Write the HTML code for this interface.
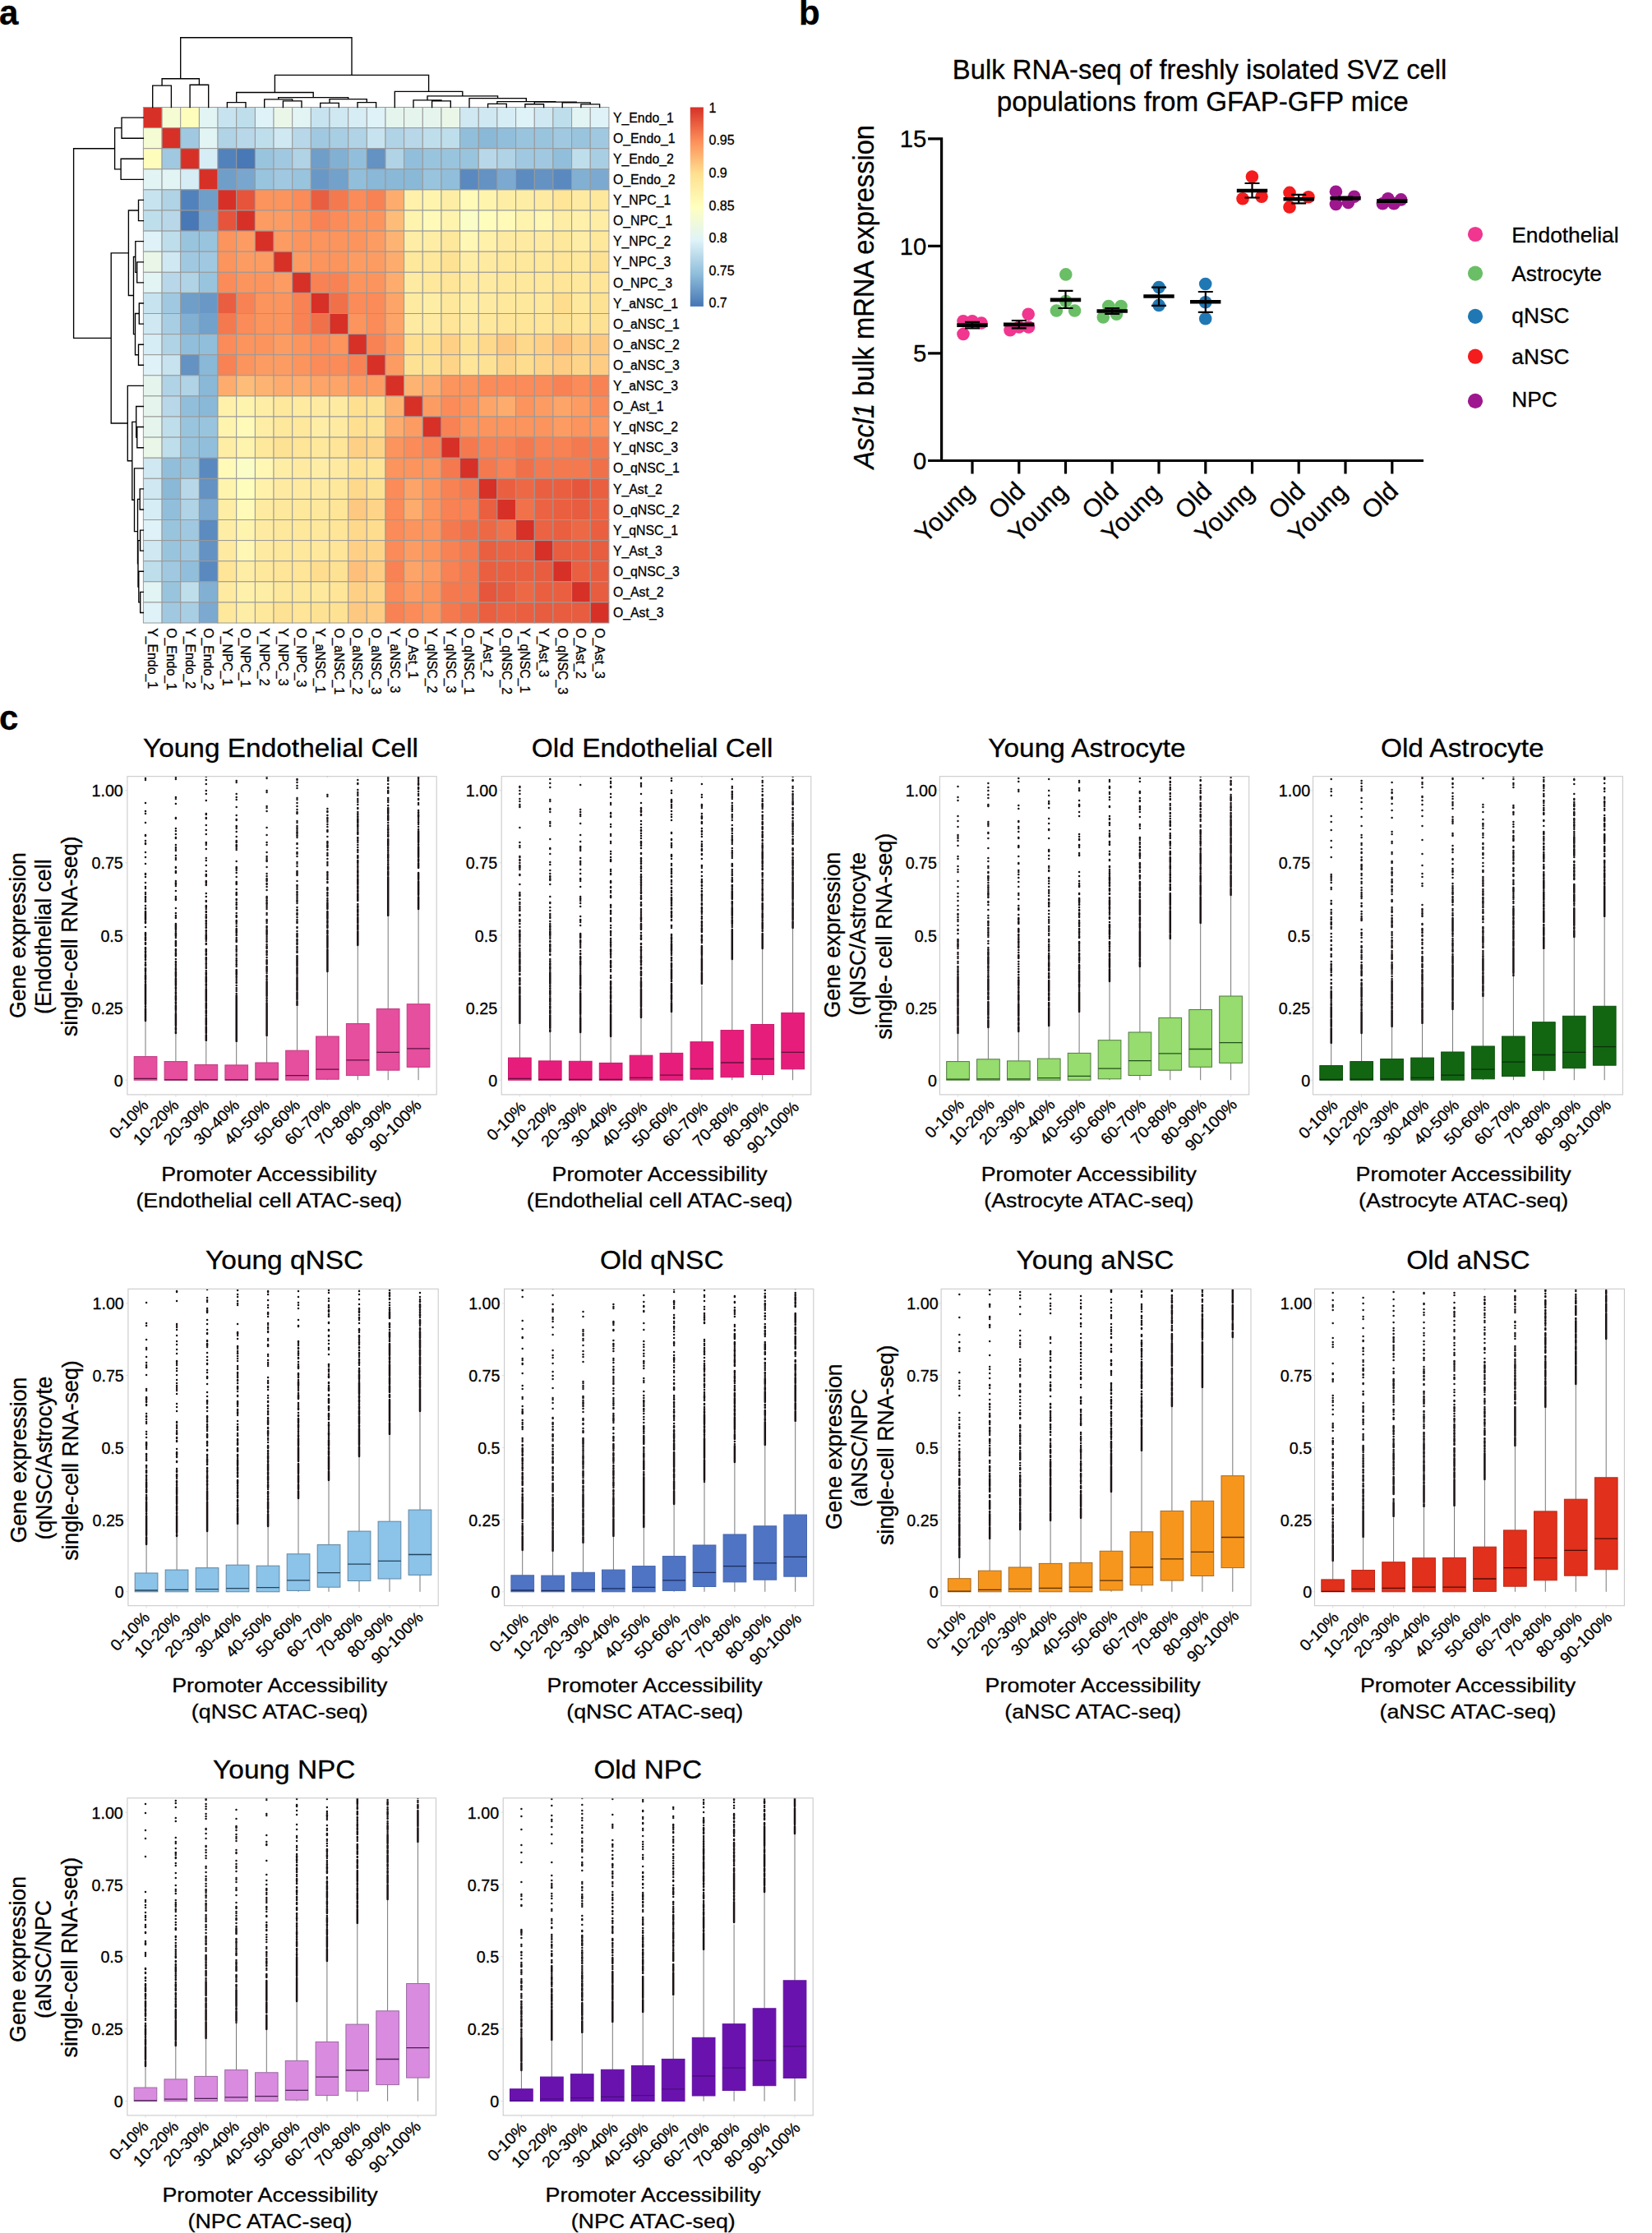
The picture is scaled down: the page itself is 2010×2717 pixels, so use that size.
<!DOCTYPE html>
<html lang="en"><head><meta charset="utf-8"><title>Figure</title>
<style>html,body{margin:0;padding:0;background:#fff}svg{display:block}text{font-family:'Liberation Sans', Arial, Helvetica, sans-serif;fill:#000;stroke:#000;stroke-width:.3px}</style>
</head><body>
<svg width="2010" height="2717" viewBox="0 0 2010 2717">
<rect width="2010" height="2717" fill="#fff"/>
<text x="-1" y="29.5" font-size="42" font-weight="bold">a</text>
<text x="972" y="29.5" font-size="42" font-weight="bold">b</text>
<text x="-1" y="887.5" font-size="42" font-weight="bold">c</text>
<g stroke="#999" stroke-width="1">
<rect x="174.4" y="130.5" width="22.7" height="25.1" fill="#d73027"/>
<rect x="197.1" y="130.5" width="22.7" height="25.1" fill="#f5fbd2"/>
<rect x="219.7" y="130.5" width="22.7" height="25.1" fill="#fffdbc"/>
<rect x="242.4" y="130.5" width="22.7" height="25.1" fill="#e2f4f4"/>
<rect x="265" y="130.5" width="22.7" height="25.1" fill="#c7e3ef"/>
<rect x="287.7" y="130.5" width="22.7" height="25.1" fill="#bfdeec"/>
<rect x="310.4" y="130.5" width="22.7" height="25.1" fill="#def2f7"/>
<rect x="333" y="130.5" width="22.7" height="25.1" fill="#e9f6e8"/>
<rect x="355.7" y="130.5" width="22.7" height="25.1" fill="#e2f4f4"/>
<rect x="378.3" y="130.5" width="22.7" height="25.1" fill="#c7e3ef"/>
<rect x="401" y="130.5" width="22.7" height="25.1" fill="#cfe8f2"/>
<rect x="423.7" y="130.5" width="22.7" height="25.1" fill="#d7edf5"/>
<rect x="446.3" y="130.5" width="22.7" height="25.1" fill="#def2f7"/>
<rect x="469" y="130.5" width="22.7" height="25.1" fill="#e5f5ee"/>
<rect x="491.6" y="130.5" width="22.7" height="25.1" fill="#e5f5ee"/>
<rect x="514.3" y="130.5" width="22.7" height="25.1" fill="#e5f5ee"/>
<rect x="537" y="130.5" width="22.7" height="25.1" fill="#e9f6e8"/>
<rect x="559.6" y="130.5" width="22.7" height="25.1" fill="#cfe8f2"/>
<rect x="582.3" y="130.5" width="22.7" height="25.1" fill="#cfe8f2"/>
<rect x="604.9" y="130.5" width="22.7" height="25.1" fill="#d7edf5"/>
<rect x="627.6" y="130.5" width="22.7" height="25.1" fill="#def2f7"/>
<rect x="650.3" y="130.5" width="22.7" height="25.1" fill="#cfe8f2"/>
<rect x="672.9" y="130.5" width="22.7" height="25.1" fill="#bfdeec"/>
<rect x="695.6" y="130.5" width="22.7" height="25.1" fill="#e2f4f4"/>
<rect x="718.2" y="130.5" width="22.7" height="25.1" fill="#def2f7"/>
<rect x="174.4" y="155.6" width="22.7" height="25.1" fill="#f5fbd2"/>
<rect x="197.1" y="155.6" width="22.7" height="25.1" fill="#d73027"/>
<rect x="219.7" y="155.6" width="22.7" height="25.1" fill="#a0c9e1"/>
<rect x="242.4" y="155.6" width="22.7" height="25.1" fill="#e2f4f4"/>
<rect x="265" y="155.6" width="22.7" height="25.1" fill="#b0d3e6"/>
<rect x="287.7" y="155.6" width="22.7" height="25.1" fill="#b8d8e9"/>
<rect x="310.4" y="155.6" width="22.7" height="25.1" fill="#bfdeec"/>
<rect x="333" y="155.6" width="22.7" height="25.1" fill="#cfe8f2"/>
<rect x="355.7" y="155.6" width="22.7" height="25.1" fill="#b8d8e9"/>
<rect x="378.3" y="155.6" width="22.7" height="25.1" fill="#a0c9e1"/>
<rect x="401" y="155.6" width="22.7" height="25.1" fill="#a8cee4"/>
<rect x="423.7" y="155.6" width="22.7" height="25.1" fill="#b0d3e6"/>
<rect x="446.3" y="155.6" width="22.7" height="25.1" fill="#c7e3ef"/>
<rect x="469" y="155.6" width="22.7" height="25.1" fill="#b0d3e6"/>
<rect x="491.6" y="155.6" width="22.7" height="25.1" fill="#b8d8e9"/>
<rect x="514.3" y="155.6" width="22.7" height="25.1" fill="#bfdeec"/>
<rect x="537" y="155.6" width="22.7" height="25.1" fill="#bfdeec"/>
<rect x="559.6" y="155.6" width="22.7" height="25.1" fill="#91bfdb"/>
<rect x="582.3" y="155.6" width="22.7" height="25.1" fill="#8ab8d7"/>
<rect x="604.9" y="155.6" width="22.7" height="25.1" fill="#91bfdb"/>
<rect x="627.6" y="155.6" width="22.7" height="25.1" fill="#99c4de"/>
<rect x="650.3" y="155.6" width="22.7" height="25.1" fill="#99c4de"/>
<rect x="672.9" y="155.6" width="22.7" height="25.1" fill="#a0c9e1"/>
<rect x="695.6" y="155.6" width="22.7" height="25.1" fill="#99c4de"/>
<rect x="718.2" y="155.6" width="22.7" height="25.1" fill="#a0c9e1"/>
<rect x="174.4" y="180.7" width="22.7" height="25.1" fill="#fffdbc"/>
<rect x="197.1" y="180.7" width="22.7" height="25.1" fill="#a0c9e1"/>
<rect x="219.7" y="180.7" width="22.7" height="25.1" fill="#d73027"/>
<rect x="242.4" y="180.7" width="22.7" height="25.1" fill="#d7edf5"/>
<rect x="265" y="180.7" width="22.7" height="25.1" fill="#5282bb"/>
<rect x="287.7" y="180.7" width="22.7" height="25.1" fill="#4878b6"/>
<rect x="310.4" y="180.7" width="22.7" height="25.1" fill="#99c4de"/>
<rect x="333" y="180.7" width="22.7" height="25.1" fill="#a0c9e1"/>
<rect x="355.7" y="180.7" width="22.7" height="25.1" fill="#b0d3e6"/>
<rect x="378.3" y="180.7" width="22.7" height="25.1" fill="#6f9ec9"/>
<rect x="401" y="180.7" width="22.7" height="25.1" fill="#82b0d3"/>
<rect x="423.7" y="180.7" width="22.7" height="25.1" fill="#91bfdb"/>
<rect x="446.3" y="180.7" width="22.7" height="25.1" fill="#6392c3"/>
<rect x="469" y="180.7" width="22.7" height="25.1" fill="#b0d3e6"/>
<rect x="491.6" y="180.7" width="22.7" height="25.1" fill="#91bfdb"/>
<rect x="514.3" y="180.7" width="22.7" height="25.1" fill="#99c4de"/>
<rect x="537" y="180.7" width="22.7" height="25.1" fill="#99c4de"/>
<rect x="559.6" y="180.7" width="22.7" height="25.1" fill="#99c4de"/>
<rect x="582.3" y="180.7" width="22.7" height="25.1" fill="#b8d8e9"/>
<rect x="604.9" y="180.7" width="22.7" height="25.1" fill="#b0d3e6"/>
<rect x="627.6" y="180.7" width="22.7" height="25.1" fill="#a0c9e1"/>
<rect x="650.3" y="180.7" width="22.7" height="25.1" fill="#a0c9e1"/>
<rect x="672.9" y="180.7" width="22.7" height="25.1" fill="#91bfdb"/>
<rect x="695.6" y="180.7" width="22.7" height="25.1" fill="#bfdeec"/>
<rect x="718.2" y="180.7" width="22.7" height="25.1" fill="#a8cee4"/>
<rect x="174.4" y="205.8" width="22.7" height="25.1" fill="#e2f4f4"/>
<rect x="197.1" y="205.8" width="22.7" height="25.1" fill="#e2f4f4"/>
<rect x="219.7" y="205.8" width="22.7" height="25.1" fill="#d7edf5"/>
<rect x="242.4" y="205.8" width="22.7" height="25.1" fill="#d73027"/>
<rect x="265" y="205.8" width="22.7" height="25.1" fill="#6f9ec9"/>
<rect x="287.7" y="205.8" width="22.7" height="25.1" fill="#78a6ce"/>
<rect x="310.4" y="205.8" width="22.7" height="25.1" fill="#99c4de"/>
<rect x="333" y="205.8" width="22.7" height="25.1" fill="#a0c9e1"/>
<rect x="355.7" y="205.8" width="22.7" height="25.1" fill="#99c4de"/>
<rect x="378.3" y="205.8" width="22.7" height="25.1" fill="#6998c6"/>
<rect x="401" y="205.8" width="22.7" height="25.1" fill="#72a1cb"/>
<rect x="423.7" y="205.8" width="22.7" height="25.1" fill="#91bfdb"/>
<rect x="446.3" y="205.8" width="22.7" height="25.1" fill="#8ab8d7"/>
<rect x="469" y="205.8" width="22.7" height="25.1" fill="#8ab8d7"/>
<rect x="491.6" y="205.8" width="22.7" height="25.1" fill="#8ab8d7"/>
<rect x="514.3" y="205.8" width="22.7" height="25.1" fill="#99c4de"/>
<rect x="537" y="205.8" width="22.7" height="25.1" fill="#91bfdb"/>
<rect x="559.6" y="205.8" width="22.7" height="25.1" fill="#5a89bf"/>
<rect x="582.3" y="205.8" width="22.7" height="25.1" fill="#6392c3"/>
<rect x="604.9" y="205.8" width="22.7" height="25.1" fill="#7ba9d0"/>
<rect x="627.6" y="205.8" width="22.7" height="25.1" fill="#5b8bbf"/>
<rect x="650.3" y="205.8" width="22.7" height="25.1" fill="#6392c3"/>
<rect x="672.9" y="205.8" width="22.7" height="25.1" fill="#5a89bf"/>
<rect x="695.6" y="205.8" width="22.7" height="25.1" fill="#82b0d3"/>
<rect x="718.2" y="205.8" width="22.7" height="25.1" fill="#7ba9d0"/>
<rect x="174.4" y="230.9" width="22.7" height="25.1" fill="#c7e3ef"/>
<rect x="197.1" y="230.9" width="22.7" height="25.1" fill="#b0d3e6"/>
<rect x="219.7" y="230.9" width="22.7" height="25.1" fill="#5282bb"/>
<rect x="242.4" y="230.9" width="22.7" height="25.1" fill="#6f9ec9"/>
<rect x="265" y="230.9" width="22.7" height="25.1" fill="#d73027"/>
<rect x="287.7" y="230.9" width="22.7" height="25.1" fill="#e6543b"/>
<rect x="310.4" y="230.9" width="22.7" height="25.1" fill="#fc945d"/>
<rect x="333" y="230.9" width="22.7" height="25.1" fill="#fc945d"/>
<rect x="355.7" y="230.9" width="22.7" height="25.1" fill="#fb8b58"/>
<rect x="378.3" y="230.9" width="22.7" height="25.1" fill="#e95e40"/>
<rect x="401" y="230.9" width="22.7" height="25.1" fill="#f4794e"/>
<rect x="423.7" y="230.9" width="22.7" height="25.1" fill="#fb8b58"/>
<rect x="446.3" y="230.9" width="22.7" height="25.1" fill="#f88253"/>
<rect x="469" y="230.9" width="22.7" height="25.1" fill="#fdac6d"/>
<rect x="491.6" y="230.9" width="22.7" height="25.1" fill="#fff1aa"/>
<rect x="514.3" y="230.9" width="22.7" height="25.1" fill="#fff4ae"/>
<rect x="537" y="230.9" width="22.7" height="25.1" fill="#feeea5"/>
<rect x="559.6" y="230.9" width="22.7" height="25.1" fill="#fffab8"/>
<rect x="582.3" y="230.9" width="22.7" height="25.1" fill="#fff4ae"/>
<rect x="604.9" y="230.9" width="22.7" height="25.1" fill="#feeea5"/>
<rect x="627.6" y="230.9" width="22.7" height="25.1" fill="#feeea5"/>
<rect x="650.3" y="230.9" width="22.7" height="25.1" fill="#feeba1"/>
<rect x="672.9" y="230.9" width="22.7" height="25.1" fill="#fee597"/>
<rect x="695.6" y="230.9" width="22.7" height="25.1" fill="#feeba1"/>
<rect x="718.2" y="230.9" width="22.7" height="25.1" fill="#fee89c"/>
<rect x="174.4" y="256" width="22.7" height="25.1" fill="#bfdeec"/>
<rect x="197.1" y="256" width="22.7" height="25.1" fill="#b8d8e9"/>
<rect x="219.7" y="256" width="22.7" height="25.1" fill="#4878b6"/>
<rect x="242.4" y="256" width="22.7" height="25.1" fill="#78a6ce"/>
<rect x="265" y="256" width="22.7" height="25.1" fill="#e6543b"/>
<rect x="287.7" y="256" width="22.7" height="25.1" fill="#d73027"/>
<rect x="310.4" y="256" width="22.7" height="25.1" fill="#fc9c63"/>
<rect x="333" y="256" width="22.7" height="25.1" fill="#fc9c63"/>
<rect x="355.7" y="256" width="22.7" height="25.1" fill="#fc945d"/>
<rect x="378.3" y="256" width="22.7" height="25.1" fill="#f88253"/>
<rect x="401" y="256" width="22.7" height="25.1" fill="#fb8b58"/>
<rect x="423.7" y="256" width="22.7" height="25.1" fill="#fc945d"/>
<rect x="446.3" y="256" width="22.7" height="25.1" fill="#fc945d"/>
<rect x="469" y="256" width="22.7" height="25.1" fill="#fdbc78"/>
<rect x="491.6" y="256" width="22.7" height="25.1" fill="#fff4ae"/>
<rect x="514.3" y="256" width="22.7" height="25.1" fill="#fffab8"/>
<rect x="537" y="256" width="22.7" height="25.1" fill="#fff4ae"/>
<rect x="559.6" y="256" width="22.7" height="25.1" fill="#fbfdc7"/>
<rect x="582.3" y="256" width="22.7" height="25.1" fill="#fffdbc"/>
<rect x="604.9" y="256" width="22.7" height="25.1" fill="#fffab8"/>
<rect x="627.6" y="256" width="22.7" height="25.1" fill="#fff4ae"/>
<rect x="650.3" y="256" width="22.7" height="25.1" fill="#fff7b3"/>
<rect x="672.9" y="256" width="22.7" height="25.1" fill="#feeea5"/>
<rect x="695.6" y="256" width="22.7" height="25.1" fill="#fff1aa"/>
<rect x="718.2" y="256" width="22.7" height="25.1" fill="#feeea5"/>
<rect x="174.4" y="281.1" width="22.7" height="25.1" fill="#def2f7"/>
<rect x="197.1" y="281.1" width="22.7" height="25.1" fill="#bfdeec"/>
<rect x="219.7" y="281.1" width="22.7" height="25.1" fill="#99c4de"/>
<rect x="242.4" y="281.1" width="22.7" height="25.1" fill="#99c4de"/>
<rect x="265" y="281.1" width="22.7" height="25.1" fill="#fc945d"/>
<rect x="287.7" y="281.1" width="22.7" height="25.1" fill="#fc9c63"/>
<rect x="310.4" y="281.1" width="22.7" height="25.1" fill="#d73027"/>
<rect x="333" y="281.1" width="22.7" height="25.1" fill="#fc9c63"/>
<rect x="355.7" y="281.1" width="22.7" height="25.1" fill="#fc945d"/>
<rect x="378.3" y="281.1" width="22.7" height="25.1" fill="#fc945d"/>
<rect x="401" y="281.1" width="22.7" height="25.1" fill="#fc945d"/>
<rect x="423.7" y="281.1" width="22.7" height="25.1" fill="#fc945d"/>
<rect x="446.3" y="281.1" width="22.7" height="25.1" fill="#fc9c63"/>
<rect x="469" y="281.1" width="22.7" height="25.1" fill="#fdb473"/>
<rect x="491.6" y="281.1" width="22.7" height="25.1" fill="#feeea5"/>
<rect x="514.3" y="281.1" width="22.7" height="25.1" fill="#feeea5"/>
<rect x="537" y="281.1" width="22.7" height="25.1" fill="#fee89c"/>
<rect x="559.6" y="281.1" width="22.7" height="25.1" fill="#fff7b3"/>
<rect x="582.3" y="281.1" width="22.7" height="25.1" fill="#fff1aa"/>
<rect x="604.9" y="281.1" width="22.7" height="25.1" fill="#feeba1"/>
<rect x="627.6" y="281.1" width="22.7" height="25.1" fill="#feeba1"/>
<rect x="650.3" y="281.1" width="22.7" height="25.1" fill="#feeba1"/>
<rect x="672.9" y="281.1" width="22.7" height="25.1" fill="#fee89c"/>
<rect x="695.6" y="281.1" width="22.7" height="25.1" fill="#feeea5"/>
<rect x="718.2" y="281.1" width="22.7" height="25.1" fill="#fee89c"/>
<rect x="174.4" y="306.2" width="22.7" height="25.1" fill="#e9f6e8"/>
<rect x="197.1" y="306.2" width="22.7" height="25.1" fill="#cfe8f2"/>
<rect x="219.7" y="306.2" width="22.7" height="25.1" fill="#a0c9e1"/>
<rect x="242.4" y="306.2" width="22.7" height="25.1" fill="#a0c9e1"/>
<rect x="265" y="306.2" width="22.7" height="25.1" fill="#fc945d"/>
<rect x="287.7" y="306.2" width="22.7" height="25.1" fill="#fc9c63"/>
<rect x="310.4" y="306.2" width="22.7" height="25.1" fill="#fc9c63"/>
<rect x="333" y="306.2" width="22.7" height="25.1" fill="#d73027"/>
<rect x="355.7" y="306.2" width="22.7" height="25.1" fill="#fc9c63"/>
<rect x="378.3" y="306.2" width="22.7" height="25.1" fill="#fc945d"/>
<rect x="401" y="306.2" width="22.7" height="25.1" fill="#fc945d"/>
<rect x="423.7" y="306.2" width="22.7" height="25.1" fill="#fc9c63"/>
<rect x="446.3" y="306.2" width="22.7" height="25.1" fill="#fc9c63"/>
<rect x="469" y="306.2" width="22.7" height="25.1" fill="#fdac6d"/>
<rect x="491.6" y="306.2" width="22.7" height="25.1" fill="#fee89c"/>
<rect x="514.3" y="306.2" width="22.7" height="25.1" fill="#fee89c"/>
<rect x="537" y="306.2" width="22.7" height="25.1" fill="#fee293"/>
<rect x="559.6" y="306.2" width="22.7" height="25.1" fill="#feeea5"/>
<rect x="582.3" y="306.2" width="22.7" height="25.1" fill="#feeba1"/>
<rect x="604.9" y="306.2" width="22.7" height="25.1" fill="#fee89c"/>
<rect x="627.6" y="306.2" width="22.7" height="25.1" fill="#fee89c"/>
<rect x="650.3" y="306.2" width="22.7" height="25.1" fill="#fee89c"/>
<rect x="672.9" y="306.2" width="22.7" height="25.1" fill="#fee597"/>
<rect x="695.6" y="306.2" width="22.7" height="25.1" fill="#fee89c"/>
<rect x="718.2" y="306.2" width="22.7" height="25.1" fill="#fee293"/>
<rect x="174.4" y="331.3" width="22.7" height="25.1" fill="#e2f4f4"/>
<rect x="197.1" y="331.3" width="22.7" height="25.1" fill="#b8d8e9"/>
<rect x="219.7" y="331.3" width="22.7" height="25.1" fill="#b0d3e6"/>
<rect x="242.4" y="331.3" width="22.7" height="25.1" fill="#99c4de"/>
<rect x="265" y="331.3" width="22.7" height="25.1" fill="#fb8b58"/>
<rect x="287.7" y="331.3" width="22.7" height="25.1" fill="#fc945d"/>
<rect x="310.4" y="331.3" width="22.7" height="25.1" fill="#fc945d"/>
<rect x="333" y="331.3" width="22.7" height="25.1" fill="#fc9c63"/>
<rect x="355.7" y="331.3" width="22.7" height="25.1" fill="#d73027"/>
<rect x="378.3" y="331.3" width="22.7" height="25.1" fill="#f88253"/>
<rect x="401" y="331.3" width="22.7" height="25.1" fill="#f88253"/>
<rect x="423.7" y="331.3" width="22.7" height="25.1" fill="#fc945d"/>
<rect x="446.3" y="331.3" width="22.7" height="25.1" fill="#fc945d"/>
<rect x="469" y="331.3" width="22.7" height="25.1" fill="#fdac6d"/>
<rect x="491.6" y="331.3" width="22.7" height="25.1" fill="#feeba1"/>
<rect x="514.3" y="331.3" width="22.7" height="25.1" fill="#fee89c"/>
<rect x="537" y="331.3" width="22.7" height="25.1" fill="#fee597"/>
<rect x="559.6" y="331.3" width="22.7" height="25.1" fill="#feeba1"/>
<rect x="582.3" y="331.3" width="22.7" height="25.1" fill="#feeba1"/>
<rect x="604.9" y="331.3" width="22.7" height="25.1" fill="#fee89c"/>
<rect x="627.6" y="331.3" width="22.7" height="25.1" fill="#fee89c"/>
<rect x="650.3" y="331.3" width="22.7" height="25.1" fill="#fee89c"/>
<rect x="672.9" y="331.3" width="22.7" height="25.1" fill="#fee597"/>
<rect x="695.6" y="331.3" width="22.7" height="25.1" fill="#fee89c"/>
<rect x="718.2" y="331.3" width="22.7" height="25.1" fill="#fee597"/>
<rect x="174.4" y="356.4" width="22.7" height="25.1" fill="#c7e3ef"/>
<rect x="197.1" y="356.4" width="22.7" height="25.1" fill="#a0c9e1"/>
<rect x="219.7" y="356.4" width="22.7" height="25.1" fill="#6f9ec9"/>
<rect x="242.4" y="356.4" width="22.7" height="25.1" fill="#6998c6"/>
<rect x="265" y="356.4" width="22.7" height="25.1" fill="#e95e40"/>
<rect x="287.7" y="356.4" width="22.7" height="25.1" fill="#f88253"/>
<rect x="310.4" y="356.4" width="22.7" height="25.1" fill="#fc945d"/>
<rect x="333" y="356.4" width="22.7" height="25.1" fill="#fc945d"/>
<rect x="355.7" y="356.4" width="22.7" height="25.1" fill="#f88253"/>
<rect x="378.3" y="356.4" width="22.7" height="25.1" fill="#d73027"/>
<rect x="401" y="356.4" width="22.7" height="25.1" fill="#f07049"/>
<rect x="423.7" y="356.4" width="22.7" height="25.1" fill="#fb8b58"/>
<rect x="446.3" y="356.4" width="22.7" height="25.1" fill="#fb8b58"/>
<rect x="469" y="356.4" width="22.7" height="25.1" fill="#fda468"/>
<rect x="491.6" y="356.4" width="22.7" height="25.1" fill="#feeba1"/>
<rect x="514.3" y="356.4" width="22.7" height="25.1" fill="#feeea5"/>
<rect x="537" y="356.4" width="22.7" height="25.1" fill="#fee89c"/>
<rect x="559.6" y="356.4" width="22.7" height="25.1" fill="#feeea5"/>
<rect x="582.3" y="356.4" width="22.7" height="25.1" fill="#feeba1"/>
<rect x="604.9" y="356.4" width="22.7" height="25.1" fill="#fee89c"/>
<rect x="627.6" y="356.4" width="22.7" height="25.1" fill="#fee89c"/>
<rect x="650.3" y="356.4" width="22.7" height="25.1" fill="#fee89c"/>
<rect x="672.9" y="356.4" width="22.7" height="25.1" fill="#fedd8e"/>
<rect x="695.6" y="356.4" width="22.7" height="25.1" fill="#fee89c"/>
<rect x="718.2" y="356.4" width="22.7" height="25.1" fill="#fee293"/>
<rect x="174.4" y="381.5" width="22.7" height="25.1" fill="#cfe8f2"/>
<rect x="197.1" y="381.5" width="22.7" height="25.1" fill="#a8cee4"/>
<rect x="219.7" y="381.5" width="22.7" height="25.1" fill="#82b0d3"/>
<rect x="242.4" y="381.5" width="22.7" height="25.1" fill="#72a1cb"/>
<rect x="265" y="381.5" width="22.7" height="25.1" fill="#f4794e"/>
<rect x="287.7" y="381.5" width="22.7" height="25.1" fill="#fb8b58"/>
<rect x="310.4" y="381.5" width="22.7" height="25.1" fill="#fc945d"/>
<rect x="333" y="381.5" width="22.7" height="25.1" fill="#fc945d"/>
<rect x="355.7" y="381.5" width="22.7" height="25.1" fill="#f88253"/>
<rect x="378.3" y="381.5" width="22.7" height="25.1" fill="#f07049"/>
<rect x="401" y="381.5" width="22.7" height="25.1" fill="#d73027"/>
<rect x="423.7" y="381.5" width="22.7" height="25.1" fill="#fc945d"/>
<rect x="446.3" y="381.5" width="22.7" height="25.1" fill="#fb8b58"/>
<rect x="469" y="381.5" width="22.7" height="25.1" fill="#fda468"/>
<rect x="491.6" y="381.5" width="22.7" height="25.1" fill="#feeba1"/>
<rect x="514.3" y="381.5" width="22.7" height="25.1" fill="#feeba1"/>
<rect x="537" y="381.5" width="22.7" height="25.1" fill="#fee597"/>
<rect x="559.6" y="381.5" width="22.7" height="25.1" fill="#feeba1"/>
<rect x="582.3" y="381.5" width="22.7" height="25.1" fill="#fee89c"/>
<rect x="604.9" y="381.5" width="22.7" height="25.1" fill="#fee597"/>
<rect x="627.6" y="381.5" width="22.7" height="25.1" fill="#fee597"/>
<rect x="650.3" y="381.5" width="22.7" height="25.1" fill="#fee597"/>
<rect x="672.9" y="381.5" width="22.7" height="25.1" fill="#fee293"/>
<rect x="695.6" y="381.5" width="22.7" height="25.1" fill="#fee597"/>
<rect x="718.2" y="381.5" width="22.7" height="25.1" fill="#fee293"/>
<rect x="174.4" y="406.6" width="22.7" height="25.1" fill="#d7edf5"/>
<rect x="197.1" y="406.6" width="22.7" height="25.1" fill="#b0d3e6"/>
<rect x="219.7" y="406.6" width="22.7" height="25.1" fill="#91bfdb"/>
<rect x="242.4" y="406.6" width="22.7" height="25.1" fill="#91bfdb"/>
<rect x="265" y="406.6" width="22.7" height="25.1" fill="#fb8b58"/>
<rect x="287.7" y="406.6" width="22.7" height="25.1" fill="#fc945d"/>
<rect x="310.4" y="406.6" width="22.7" height="25.1" fill="#fc945d"/>
<rect x="333" y="406.6" width="22.7" height="25.1" fill="#fc9c63"/>
<rect x="355.7" y="406.6" width="22.7" height="25.1" fill="#fc945d"/>
<rect x="378.3" y="406.6" width="22.7" height="25.1" fill="#fb8b58"/>
<rect x="401" y="406.6" width="22.7" height="25.1" fill="#fc945d"/>
<rect x="423.7" y="406.6" width="22.7" height="25.1" fill="#d73027"/>
<rect x="446.3" y="406.6" width="22.7" height="25.1" fill="#f88253"/>
<rect x="469" y="406.6" width="22.7" height="25.1" fill="#fc9c63"/>
<rect x="491.6" y="406.6" width="22.7" height="25.1" fill="#fee090"/>
<rect x="514.3" y="406.6" width="22.7" height="25.1" fill="#fee090"/>
<rect x="537" y="406.6" width="22.7" height="25.1" fill="#fed085"/>
<rect x="559.6" y="406.6" width="22.7" height="25.1" fill="#fee395"/>
<rect x="582.3" y="406.6" width="22.7" height="25.1" fill="#fed88b"/>
<rect x="604.9" y="406.6" width="22.7" height="25.1" fill="#fdc880"/>
<rect x="627.6" y="406.6" width="22.7" height="25.1" fill="#fed88b"/>
<rect x="650.3" y="406.6" width="22.7" height="25.1" fill="#fed085"/>
<rect x="672.9" y="406.6" width="22.7" height="25.1" fill="#fdbf7a"/>
<rect x="695.6" y="406.6" width="22.7" height="25.1" fill="#fed085"/>
<rect x="718.2" y="406.6" width="22.7" height="25.1" fill="#fdc880"/>
<rect x="174.4" y="431.7" width="22.7" height="25.1" fill="#def2f7"/>
<rect x="197.1" y="431.7" width="22.7" height="25.1" fill="#c7e3ef"/>
<rect x="219.7" y="431.7" width="22.7" height="25.1" fill="#6392c3"/>
<rect x="242.4" y="431.7" width="22.7" height="25.1" fill="#8ab8d7"/>
<rect x="265" y="431.7" width="22.7" height="25.1" fill="#f88253"/>
<rect x="287.7" y="431.7" width="22.7" height="25.1" fill="#fc945d"/>
<rect x="310.4" y="431.7" width="22.7" height="25.1" fill="#fc9c63"/>
<rect x="333" y="431.7" width="22.7" height="25.1" fill="#fc9c63"/>
<rect x="355.7" y="431.7" width="22.7" height="25.1" fill="#fc945d"/>
<rect x="378.3" y="431.7" width="22.7" height="25.1" fill="#fb8b58"/>
<rect x="401" y="431.7" width="22.7" height="25.1" fill="#fb8b58"/>
<rect x="423.7" y="431.7" width="22.7" height="25.1" fill="#f88253"/>
<rect x="446.3" y="431.7" width="22.7" height="25.1" fill="#d73027"/>
<rect x="469" y="431.7" width="22.7" height="25.1" fill="#fc9c63"/>
<rect x="491.6" y="431.7" width="22.7" height="25.1" fill="#fee293"/>
<rect x="514.3" y="431.7" width="22.7" height="25.1" fill="#fee293"/>
<rect x="537" y="431.7" width="22.7" height="25.1" fill="#fed588"/>
<rect x="559.6" y="431.7" width="22.7" height="25.1" fill="#fee597"/>
<rect x="582.3" y="431.7" width="22.7" height="25.1" fill="#fee293"/>
<rect x="604.9" y="431.7" width="22.7" height="25.1" fill="#fed588"/>
<rect x="627.6" y="431.7" width="22.7" height="25.1" fill="#fedd8e"/>
<rect x="650.3" y="431.7" width="22.7" height="25.1" fill="#fed588"/>
<rect x="672.9" y="431.7" width="22.7" height="25.1" fill="#fecc83"/>
<rect x="695.6" y="431.7" width="22.7" height="25.1" fill="#fed588"/>
<rect x="718.2" y="431.7" width="22.7" height="25.1" fill="#fecc83"/>
<rect x="174.4" y="456.8" width="22.7" height="25.1" fill="#e5f5ee"/>
<rect x="197.1" y="456.8" width="22.7" height="25.1" fill="#b0d3e6"/>
<rect x="219.7" y="456.8" width="22.7" height="25.1" fill="#b0d3e6"/>
<rect x="242.4" y="456.8" width="22.7" height="25.1" fill="#8ab8d7"/>
<rect x="265" y="456.8" width="22.7" height="25.1" fill="#fdac6d"/>
<rect x="287.7" y="456.8" width="22.7" height="25.1" fill="#fdbc78"/>
<rect x="310.4" y="456.8" width="22.7" height="25.1" fill="#fdb473"/>
<rect x="333" y="456.8" width="22.7" height="25.1" fill="#fdac6d"/>
<rect x="355.7" y="456.8" width="22.7" height="25.1" fill="#fdac6d"/>
<rect x="378.3" y="456.8" width="22.7" height="25.1" fill="#fda468"/>
<rect x="401" y="456.8" width="22.7" height="25.1" fill="#fda468"/>
<rect x="423.7" y="456.8" width="22.7" height="25.1" fill="#fc9c63"/>
<rect x="446.3" y="456.8" width="22.7" height="25.1" fill="#fc9c63"/>
<rect x="469" y="456.8" width="22.7" height="25.1" fill="#d73027"/>
<rect x="491.6" y="456.8" width="22.7" height="25.1" fill="#fdb473"/>
<rect x="514.3" y="456.8" width="22.7" height="25.1" fill="#fdac6d"/>
<rect x="537" y="456.8" width="22.7" height="25.1" fill="#fc945d"/>
<rect x="559.6" y="456.8" width="22.7" height="25.1" fill="#fc945d"/>
<rect x="582.3" y="456.8" width="22.7" height="25.1" fill="#fb8b58"/>
<rect x="604.9" y="456.8" width="22.7" height="25.1" fill="#fb8b58"/>
<rect x="627.6" y="456.8" width="22.7" height="25.1" fill="#fb8b58"/>
<rect x="650.3" y="456.8" width="22.7" height="25.1" fill="#fb8b58"/>
<rect x="672.9" y="456.8" width="22.7" height="25.1" fill="#f88253"/>
<rect x="695.6" y="456.8" width="22.7" height="25.1" fill="#fb8b58"/>
<rect x="718.2" y="456.8" width="22.7" height="25.1" fill="#f88253"/>
<rect x="174.4" y="481.9" width="22.7" height="25.1" fill="#e5f5ee"/>
<rect x="197.1" y="481.9" width="22.7" height="25.1" fill="#b8d8e9"/>
<rect x="219.7" y="481.9" width="22.7" height="25.1" fill="#91bfdb"/>
<rect x="242.4" y="481.9" width="22.7" height="25.1" fill="#8ab8d7"/>
<rect x="265" y="481.9" width="22.7" height="25.1" fill="#fff1aa"/>
<rect x="287.7" y="481.9" width="22.7" height="25.1" fill="#fff4ae"/>
<rect x="310.4" y="481.9" width="22.7" height="25.1" fill="#feeea5"/>
<rect x="333" y="481.9" width="22.7" height="25.1" fill="#fee89c"/>
<rect x="355.7" y="481.9" width="22.7" height="25.1" fill="#feeba1"/>
<rect x="378.3" y="481.9" width="22.7" height="25.1" fill="#feeba1"/>
<rect x="401" y="481.9" width="22.7" height="25.1" fill="#feeba1"/>
<rect x="423.7" y="481.9" width="22.7" height="25.1" fill="#fee090"/>
<rect x="446.3" y="481.9" width="22.7" height="25.1" fill="#fee293"/>
<rect x="469" y="481.9" width="22.7" height="25.1" fill="#fdb473"/>
<rect x="491.6" y="481.9" width="22.7" height="25.1" fill="#d73027"/>
<rect x="514.3" y="481.9" width="22.7" height="25.1" fill="#fc9c63"/>
<rect x="537" y="481.9" width="22.7" height="25.1" fill="#fb8b58"/>
<rect x="559.6" y="481.9" width="22.7" height="25.1" fill="#fc945d"/>
<rect x="582.3" y="481.9" width="22.7" height="25.1" fill="#fda468"/>
<rect x="604.9" y="481.9" width="22.7" height="25.1" fill="#fdac6d"/>
<rect x="627.6" y="481.9" width="22.7" height="25.1" fill="#fc945d"/>
<rect x="650.3" y="481.9" width="22.7" height="25.1" fill="#fc9c63"/>
<rect x="672.9" y="481.9" width="22.7" height="25.1" fill="#fda468"/>
<rect x="695.6" y="481.9" width="22.7" height="25.1" fill="#fc9c63"/>
<rect x="718.2" y="481.9" width="22.7" height="25.1" fill="#fb8b58"/>
<rect x="174.4" y="507" width="22.7" height="25.1" fill="#e5f5ee"/>
<rect x="197.1" y="507" width="22.7" height="25.1" fill="#bfdeec"/>
<rect x="219.7" y="507" width="22.7" height="25.1" fill="#99c4de"/>
<rect x="242.4" y="507" width="22.7" height="25.1" fill="#99c4de"/>
<rect x="265" y="507" width="22.7" height="25.1" fill="#fff4ae"/>
<rect x="287.7" y="507" width="22.7" height="25.1" fill="#fffab8"/>
<rect x="310.4" y="507" width="22.7" height="25.1" fill="#feeea5"/>
<rect x="333" y="507" width="22.7" height="25.1" fill="#fee89c"/>
<rect x="355.7" y="507" width="22.7" height="25.1" fill="#fee89c"/>
<rect x="378.3" y="507" width="22.7" height="25.1" fill="#feeea5"/>
<rect x="401" y="507" width="22.7" height="25.1" fill="#feeba1"/>
<rect x="423.7" y="507" width="22.7" height="25.1" fill="#fee090"/>
<rect x="446.3" y="507" width="22.7" height="25.1" fill="#fee293"/>
<rect x="469" y="507" width="22.7" height="25.1" fill="#fdac6d"/>
<rect x="491.6" y="507" width="22.7" height="25.1" fill="#fc9c63"/>
<rect x="514.3" y="507" width="22.7" height="25.1" fill="#d73027"/>
<rect x="537" y="507" width="22.7" height="25.1" fill="#f88253"/>
<rect x="559.6" y="507" width="22.7" height="25.1" fill="#fc945d"/>
<rect x="582.3" y="507" width="22.7" height="25.1" fill="#fc945d"/>
<rect x="604.9" y="507" width="22.7" height="25.1" fill="#fc945d"/>
<rect x="627.6" y="507" width="22.7" height="25.1" fill="#fc945d"/>
<rect x="650.3" y="507" width="22.7" height="25.1" fill="#fc945d"/>
<rect x="672.9" y="507" width="22.7" height="25.1" fill="#fc9c63"/>
<rect x="695.6" y="507" width="22.7" height="25.1" fill="#fc945d"/>
<rect x="718.2" y="507" width="22.7" height="25.1" fill="#fc945d"/>
<rect x="174.4" y="532.1" width="22.7" height="25.1" fill="#e9f6e8"/>
<rect x="197.1" y="532.1" width="22.7" height="25.1" fill="#bfdeec"/>
<rect x="219.7" y="532.1" width="22.7" height="25.1" fill="#99c4de"/>
<rect x="242.4" y="532.1" width="22.7" height="25.1" fill="#91bfdb"/>
<rect x="265" y="532.1" width="22.7" height="25.1" fill="#feeea5"/>
<rect x="287.7" y="532.1" width="22.7" height="25.1" fill="#fff4ae"/>
<rect x="310.4" y="532.1" width="22.7" height="25.1" fill="#fee89c"/>
<rect x="333" y="532.1" width="22.7" height="25.1" fill="#fee293"/>
<rect x="355.7" y="532.1" width="22.7" height="25.1" fill="#fee597"/>
<rect x="378.3" y="532.1" width="22.7" height="25.1" fill="#fee89c"/>
<rect x="401" y="532.1" width="22.7" height="25.1" fill="#fee597"/>
<rect x="423.7" y="532.1" width="22.7" height="25.1" fill="#fed085"/>
<rect x="446.3" y="532.1" width="22.7" height="25.1" fill="#fed588"/>
<rect x="469" y="532.1" width="22.7" height="25.1" fill="#fc945d"/>
<rect x="491.6" y="532.1" width="22.7" height="25.1" fill="#fb8b58"/>
<rect x="514.3" y="532.1" width="22.7" height="25.1" fill="#f88253"/>
<rect x="537" y="532.1" width="22.7" height="25.1" fill="#d73027"/>
<rect x="559.6" y="532.1" width="22.7" height="25.1" fill="#f4794e"/>
<rect x="582.3" y="532.1" width="22.7" height="25.1" fill="#f88253"/>
<rect x="604.9" y="532.1" width="22.7" height="25.1" fill="#f88253"/>
<rect x="627.6" y="532.1" width="22.7" height="25.1" fill="#f4794e"/>
<rect x="650.3" y="532.1" width="22.7" height="25.1" fill="#f88253"/>
<rect x="672.9" y="532.1" width="22.7" height="25.1" fill="#f88253"/>
<rect x="695.6" y="532.1" width="22.7" height="25.1" fill="#f4794e"/>
<rect x="718.2" y="532.1" width="22.7" height="25.1" fill="#f4794e"/>
<rect x="174.4" y="557.2" width="22.7" height="25.1" fill="#cfe8f2"/>
<rect x="197.1" y="557.2" width="22.7" height="25.1" fill="#91bfdb"/>
<rect x="219.7" y="557.2" width="22.7" height="25.1" fill="#99c4de"/>
<rect x="242.4" y="557.2" width="22.7" height="25.1" fill="#5a89bf"/>
<rect x="265" y="557.2" width="22.7" height="25.1" fill="#fffab8"/>
<rect x="287.7" y="557.2" width="22.7" height="25.1" fill="#fbfdc7"/>
<rect x="310.4" y="557.2" width="22.7" height="25.1" fill="#fff7b3"/>
<rect x="333" y="557.2" width="22.7" height="25.1" fill="#feeea5"/>
<rect x="355.7" y="557.2" width="22.7" height="25.1" fill="#feeba1"/>
<rect x="378.3" y="557.2" width="22.7" height="25.1" fill="#feeea5"/>
<rect x="401" y="557.2" width="22.7" height="25.1" fill="#feeba1"/>
<rect x="423.7" y="557.2" width="22.7" height="25.1" fill="#fee395"/>
<rect x="446.3" y="557.2" width="22.7" height="25.1" fill="#fee597"/>
<rect x="469" y="557.2" width="22.7" height="25.1" fill="#fc945d"/>
<rect x="491.6" y="557.2" width="22.7" height="25.1" fill="#fc945d"/>
<rect x="514.3" y="557.2" width="22.7" height="25.1" fill="#fc945d"/>
<rect x="537" y="557.2" width="22.7" height="25.1" fill="#f4794e"/>
<rect x="559.6" y="557.2" width="22.7" height="25.1" fill="#d73027"/>
<rect x="582.3" y="557.2" width="22.7" height="25.1" fill="#f4794e"/>
<rect x="604.9" y="557.2" width="22.7" height="25.1" fill="#f88253"/>
<rect x="627.6" y="557.2" width="22.7" height="25.1" fill="#f07049"/>
<rect x="650.3" y="557.2" width="22.7" height="25.1" fill="#f4794e"/>
<rect x="672.9" y="557.2" width="22.7" height="25.1" fill="#f4794e"/>
<rect x="695.6" y="557.2" width="22.7" height="25.1" fill="#f4794e"/>
<rect x="718.2" y="557.2" width="22.7" height="25.1" fill="#f07049"/>
<rect x="174.4" y="582.3" width="22.7" height="25.1" fill="#cfe8f2"/>
<rect x="197.1" y="582.3" width="22.7" height="25.1" fill="#8ab8d7"/>
<rect x="219.7" y="582.3" width="22.7" height="25.1" fill="#b8d8e9"/>
<rect x="242.4" y="582.3" width="22.7" height="25.1" fill="#6392c3"/>
<rect x="265" y="582.3" width="22.7" height="25.1" fill="#fff4ae"/>
<rect x="287.7" y="582.3" width="22.7" height="25.1" fill="#fffdbc"/>
<rect x="310.4" y="582.3" width="22.7" height="25.1" fill="#fff1aa"/>
<rect x="333" y="582.3" width="22.7" height="25.1" fill="#feeba1"/>
<rect x="355.7" y="582.3" width="22.7" height="25.1" fill="#feeba1"/>
<rect x="378.3" y="582.3" width="22.7" height="25.1" fill="#feeba1"/>
<rect x="401" y="582.3" width="22.7" height="25.1" fill="#fee89c"/>
<rect x="423.7" y="582.3" width="22.7" height="25.1" fill="#fed88b"/>
<rect x="446.3" y="582.3" width="22.7" height="25.1" fill="#fee293"/>
<rect x="469" y="582.3" width="22.7" height="25.1" fill="#fb8b58"/>
<rect x="491.6" y="582.3" width="22.7" height="25.1" fill="#fda468"/>
<rect x="514.3" y="582.3" width="22.7" height="25.1" fill="#fc945d"/>
<rect x="537" y="582.3" width="22.7" height="25.1" fill="#f88253"/>
<rect x="559.6" y="582.3" width="22.7" height="25.1" fill="#f4794e"/>
<rect x="582.3" y="582.3" width="22.7" height="25.1" fill="#d73027"/>
<rect x="604.9" y="582.3" width="22.7" height="25.1" fill="#ea5f40"/>
<rect x="627.6" y="582.3" width="22.7" height="25.1" fill="#ed6945"/>
<rect x="650.3" y="582.3" width="22.7" height="25.1" fill="#ea5f40"/>
<rect x="672.9" y="582.3" width="22.7" height="25.1" fill="#ea5f40"/>
<rect x="695.6" y="582.3" width="22.7" height="25.1" fill="#e6563c"/>
<rect x="718.2" y="582.3" width="22.7" height="25.1" fill="#ea5f40"/>
<rect x="174.4" y="607.4" width="22.7" height="25.1" fill="#d7edf5"/>
<rect x="197.1" y="607.4" width="22.7" height="25.1" fill="#91bfdb"/>
<rect x="219.7" y="607.4" width="22.7" height="25.1" fill="#b0d3e6"/>
<rect x="242.4" y="607.4" width="22.7" height="25.1" fill="#7ba9d0"/>
<rect x="265" y="607.4" width="22.7" height="25.1" fill="#feeea5"/>
<rect x="287.7" y="607.4" width="22.7" height="25.1" fill="#fffab8"/>
<rect x="310.4" y="607.4" width="22.7" height="25.1" fill="#feeba1"/>
<rect x="333" y="607.4" width="22.7" height="25.1" fill="#fee89c"/>
<rect x="355.7" y="607.4" width="22.7" height="25.1" fill="#fee89c"/>
<rect x="378.3" y="607.4" width="22.7" height="25.1" fill="#fee89c"/>
<rect x="401" y="607.4" width="22.7" height="25.1" fill="#fee597"/>
<rect x="423.7" y="607.4" width="22.7" height="25.1" fill="#fdc880"/>
<rect x="446.3" y="607.4" width="22.7" height="25.1" fill="#fed588"/>
<rect x="469" y="607.4" width="22.7" height="25.1" fill="#fb8b58"/>
<rect x="491.6" y="607.4" width="22.7" height="25.1" fill="#fdac6d"/>
<rect x="514.3" y="607.4" width="22.7" height="25.1" fill="#fc945d"/>
<rect x="537" y="607.4" width="22.7" height="25.1" fill="#f88253"/>
<rect x="559.6" y="607.4" width="22.7" height="25.1" fill="#f88253"/>
<rect x="582.3" y="607.4" width="22.7" height="25.1" fill="#ea5f40"/>
<rect x="604.9" y="607.4" width="22.7" height="25.1" fill="#d73027"/>
<rect x="627.6" y="607.4" width="22.7" height="25.1" fill="#f1724a"/>
<rect x="650.3" y="607.4" width="22.7" height="25.1" fill="#eb6342"/>
<rect x="672.9" y="607.4" width="22.7" height="25.1" fill="#ea5f40"/>
<rect x="695.6" y="607.4" width="22.7" height="25.1" fill="#e85c3f"/>
<rect x="718.2" y="607.4" width="22.7" height="25.1" fill="#eb6342"/>
<rect x="174.4" y="632.5" width="22.7" height="25.1" fill="#def2f7"/>
<rect x="197.1" y="632.5" width="22.7" height="25.1" fill="#99c4de"/>
<rect x="219.7" y="632.5" width="22.7" height="25.1" fill="#a0c9e1"/>
<rect x="242.4" y="632.5" width="22.7" height="25.1" fill="#5b8bbf"/>
<rect x="265" y="632.5" width="22.7" height="25.1" fill="#feeea5"/>
<rect x="287.7" y="632.5" width="22.7" height="25.1" fill="#fff4ae"/>
<rect x="310.4" y="632.5" width="22.7" height="25.1" fill="#feeba1"/>
<rect x="333" y="632.5" width="22.7" height="25.1" fill="#fee89c"/>
<rect x="355.7" y="632.5" width="22.7" height="25.1" fill="#fee89c"/>
<rect x="378.3" y="632.5" width="22.7" height="25.1" fill="#fee89c"/>
<rect x="401" y="632.5" width="22.7" height="25.1" fill="#fee597"/>
<rect x="423.7" y="632.5" width="22.7" height="25.1" fill="#fed88b"/>
<rect x="446.3" y="632.5" width="22.7" height="25.1" fill="#fedd8e"/>
<rect x="469" y="632.5" width="22.7" height="25.1" fill="#fb8b58"/>
<rect x="491.6" y="632.5" width="22.7" height="25.1" fill="#fc945d"/>
<rect x="514.3" y="632.5" width="22.7" height="25.1" fill="#fc945d"/>
<rect x="537" y="632.5" width="22.7" height="25.1" fill="#f4794e"/>
<rect x="559.6" y="632.5" width="22.7" height="25.1" fill="#f07049"/>
<rect x="582.3" y="632.5" width="22.7" height="25.1" fill="#ed6945"/>
<rect x="604.9" y="632.5" width="22.7" height="25.1" fill="#f1724a"/>
<rect x="627.6" y="632.5" width="22.7" height="25.1" fill="#d73027"/>
<rect x="650.3" y="632.5" width="22.7" height="25.1" fill="#eb6342"/>
<rect x="672.9" y="632.5" width="22.7" height="25.1" fill="#ea5f40"/>
<rect x="695.6" y="632.5" width="22.7" height="25.1" fill="#ed6945"/>
<rect x="718.2" y="632.5" width="22.7" height="25.1" fill="#ea5f40"/>
<rect x="174.4" y="657.6" width="22.7" height="25.1" fill="#cfe8f2"/>
<rect x="197.1" y="657.6" width="22.7" height="25.1" fill="#99c4de"/>
<rect x="219.7" y="657.6" width="22.7" height="25.1" fill="#a0c9e1"/>
<rect x="242.4" y="657.6" width="22.7" height="25.1" fill="#6392c3"/>
<rect x="265" y="657.6" width="22.7" height="25.1" fill="#feeba1"/>
<rect x="287.7" y="657.6" width="22.7" height="25.1" fill="#fff7b3"/>
<rect x="310.4" y="657.6" width="22.7" height="25.1" fill="#feeba1"/>
<rect x="333" y="657.6" width="22.7" height="25.1" fill="#fee89c"/>
<rect x="355.7" y="657.6" width="22.7" height="25.1" fill="#fee89c"/>
<rect x="378.3" y="657.6" width="22.7" height="25.1" fill="#fee89c"/>
<rect x="401" y="657.6" width="22.7" height="25.1" fill="#fee597"/>
<rect x="423.7" y="657.6" width="22.7" height="25.1" fill="#fed085"/>
<rect x="446.3" y="657.6" width="22.7" height="25.1" fill="#fed588"/>
<rect x="469" y="657.6" width="22.7" height="25.1" fill="#fb8b58"/>
<rect x="491.6" y="657.6" width="22.7" height="25.1" fill="#fc9c63"/>
<rect x="514.3" y="657.6" width="22.7" height="25.1" fill="#fc945d"/>
<rect x="537" y="657.6" width="22.7" height="25.1" fill="#f88253"/>
<rect x="559.6" y="657.6" width="22.7" height="25.1" fill="#f4794e"/>
<rect x="582.3" y="657.6" width="22.7" height="25.1" fill="#ea5f40"/>
<rect x="604.9" y="657.6" width="22.7" height="25.1" fill="#eb6342"/>
<rect x="627.6" y="657.6" width="22.7" height="25.1" fill="#eb6342"/>
<rect x="650.3" y="657.6" width="22.7" height="25.1" fill="#d73027"/>
<rect x="672.9" y="657.6" width="22.7" height="25.1" fill="#e85c3f"/>
<rect x="695.6" y="657.6" width="22.7" height="25.1" fill="#ea5f40"/>
<rect x="718.2" y="657.6" width="22.7" height="25.1" fill="#e85c3f"/>
<rect x="174.4" y="682.7" width="22.7" height="25.1" fill="#bfdeec"/>
<rect x="197.1" y="682.7" width="22.7" height="25.1" fill="#a0c9e1"/>
<rect x="219.7" y="682.7" width="22.7" height="25.1" fill="#91bfdb"/>
<rect x="242.4" y="682.7" width="22.7" height="25.1" fill="#5a89bf"/>
<rect x="265" y="682.7" width="22.7" height="25.1" fill="#fee597"/>
<rect x="287.7" y="682.7" width="22.7" height="25.1" fill="#feeea5"/>
<rect x="310.4" y="682.7" width="22.7" height="25.1" fill="#fee89c"/>
<rect x="333" y="682.7" width="22.7" height="25.1" fill="#fee597"/>
<rect x="355.7" y="682.7" width="22.7" height="25.1" fill="#fee597"/>
<rect x="378.3" y="682.7" width="22.7" height="25.1" fill="#fedd8e"/>
<rect x="401" y="682.7" width="22.7" height="25.1" fill="#fee293"/>
<rect x="423.7" y="682.7" width="22.7" height="25.1" fill="#fdbf7a"/>
<rect x="446.3" y="682.7" width="22.7" height="25.1" fill="#fecc83"/>
<rect x="469" y="682.7" width="22.7" height="25.1" fill="#f88253"/>
<rect x="491.6" y="682.7" width="22.7" height="25.1" fill="#fda468"/>
<rect x="514.3" y="682.7" width="22.7" height="25.1" fill="#fc9c63"/>
<rect x="537" y="682.7" width="22.7" height="25.1" fill="#f88253"/>
<rect x="559.6" y="682.7" width="22.7" height="25.1" fill="#f4794e"/>
<rect x="582.3" y="682.7" width="22.7" height="25.1" fill="#ea5f40"/>
<rect x="604.9" y="682.7" width="22.7" height="25.1" fill="#ea5f40"/>
<rect x="627.6" y="682.7" width="22.7" height="25.1" fill="#ea5f40"/>
<rect x="650.3" y="682.7" width="22.7" height="25.1" fill="#e85c3f"/>
<rect x="672.9" y="682.7" width="22.7" height="25.1" fill="#d73027"/>
<rect x="695.6" y="682.7" width="22.7" height="25.1" fill="#ea5f40"/>
<rect x="718.2" y="682.7" width="22.7" height="25.1" fill="#e85c3f"/>
<rect x="174.4" y="707.8" width="22.7" height="25.1" fill="#e2f4f4"/>
<rect x="197.1" y="707.8" width="22.7" height="25.1" fill="#99c4de"/>
<rect x="219.7" y="707.8" width="22.7" height="25.1" fill="#bfdeec"/>
<rect x="242.4" y="707.8" width="22.7" height="25.1" fill="#82b0d3"/>
<rect x="265" y="707.8" width="22.7" height="25.1" fill="#feeba1"/>
<rect x="287.7" y="707.8" width="22.7" height="25.1" fill="#fff1aa"/>
<rect x="310.4" y="707.8" width="22.7" height="25.1" fill="#feeea5"/>
<rect x="333" y="707.8" width="22.7" height="25.1" fill="#fee89c"/>
<rect x="355.7" y="707.8" width="22.7" height="25.1" fill="#fee89c"/>
<rect x="378.3" y="707.8" width="22.7" height="25.1" fill="#fee89c"/>
<rect x="401" y="707.8" width="22.7" height="25.1" fill="#fee597"/>
<rect x="423.7" y="707.8" width="22.7" height="25.1" fill="#fed085"/>
<rect x="446.3" y="707.8" width="22.7" height="25.1" fill="#fed588"/>
<rect x="469" y="707.8" width="22.7" height="25.1" fill="#fb8b58"/>
<rect x="491.6" y="707.8" width="22.7" height="25.1" fill="#fc9c63"/>
<rect x="514.3" y="707.8" width="22.7" height="25.1" fill="#fc945d"/>
<rect x="537" y="707.8" width="22.7" height="25.1" fill="#f4794e"/>
<rect x="559.6" y="707.8" width="22.7" height="25.1" fill="#f4794e"/>
<rect x="582.3" y="707.8" width="22.7" height="25.1" fill="#e6563c"/>
<rect x="604.9" y="707.8" width="22.7" height="25.1" fill="#e85c3f"/>
<rect x="627.6" y="707.8" width="22.7" height="25.1" fill="#ed6945"/>
<rect x="650.3" y="707.8" width="22.7" height="25.1" fill="#ea5f40"/>
<rect x="672.9" y="707.8" width="22.7" height="25.1" fill="#ea5f40"/>
<rect x="695.6" y="707.8" width="22.7" height="25.1" fill="#d73027"/>
<rect x="718.2" y="707.8" width="22.7" height="25.1" fill="#e85c3f"/>
<rect x="174.4" y="732.9" width="22.7" height="25.1" fill="#def2f7"/>
<rect x="197.1" y="732.9" width="22.7" height="25.1" fill="#a0c9e1"/>
<rect x="219.7" y="732.9" width="22.7" height="25.1" fill="#a8cee4"/>
<rect x="242.4" y="732.9" width="22.7" height="25.1" fill="#7ba9d0"/>
<rect x="265" y="732.9" width="22.7" height="25.1" fill="#fee89c"/>
<rect x="287.7" y="732.9" width="22.7" height="25.1" fill="#feeea5"/>
<rect x="310.4" y="732.9" width="22.7" height="25.1" fill="#fee89c"/>
<rect x="333" y="732.9" width="22.7" height="25.1" fill="#fee293"/>
<rect x="355.7" y="732.9" width="22.7" height="25.1" fill="#fee597"/>
<rect x="378.3" y="732.9" width="22.7" height="25.1" fill="#fee293"/>
<rect x="401" y="732.9" width="22.7" height="25.1" fill="#fee293"/>
<rect x="423.7" y="732.9" width="22.7" height="25.1" fill="#fdc880"/>
<rect x="446.3" y="732.9" width="22.7" height="25.1" fill="#fecc83"/>
<rect x="469" y="732.9" width="22.7" height="25.1" fill="#f88253"/>
<rect x="491.6" y="732.9" width="22.7" height="25.1" fill="#fb8b58"/>
<rect x="514.3" y="732.9" width="22.7" height="25.1" fill="#fc945d"/>
<rect x="537" y="732.9" width="22.7" height="25.1" fill="#f4794e"/>
<rect x="559.6" y="732.9" width="22.7" height="25.1" fill="#f07049"/>
<rect x="582.3" y="732.9" width="22.7" height="25.1" fill="#ea5f40"/>
<rect x="604.9" y="732.9" width="22.7" height="25.1" fill="#eb6342"/>
<rect x="627.6" y="732.9" width="22.7" height="25.1" fill="#ea5f40"/>
<rect x="650.3" y="732.9" width="22.7" height="25.1" fill="#e85c3f"/>
<rect x="672.9" y="732.9" width="22.7" height="25.1" fill="#e85c3f"/>
<rect x="695.6" y="732.9" width="22.7" height="25.1" fill="#e85c3f"/>
<rect x="718.2" y="732.9" width="22.7" height="25.1" fill="#d73027"/>
</g>
<g font-size="15.8">
<text x="746" y="148.7">Y_Endo_1</text>
<text x="746" y="173.8">O_Endo_1</text>
<text x="746" y="198.8">Y_Endo_2</text>
<text x="746" y="224">O_Endo_2</text>
<text x="746" y="249">Y_NPC_1</text>
<text x="746" y="274.2">O_NPC_1</text>
<text x="746" y="299.2">Y_NPC_2</text>
<text x="746" y="324.4">Y_NPC_3</text>
<text x="746" y="349.5">O_NPC_3</text>
<text x="746" y="374.6">Y_aNSC_1</text>
<text x="746" y="399.7">O_aNSC_1</text>
<text x="746" y="424.8">O_aNSC_2</text>
<text x="746" y="449.9">O_aNSC_3</text>
<text x="746" y="475">Y_aNSC_3</text>
<text x="746" y="500.1">O_Ast_1</text>
<text x="746" y="525.1">Y_qNSC_2</text>
<text x="746" y="550.3">Y_qNSC_3</text>
<text x="746" y="575.4">O_qNSC_1</text>
<text x="746" y="600.5">Y_Ast_2</text>
<text x="746" y="625.6">O_qNSC_2</text>
<text x="746" y="650.7">Y_qNSC_1</text>
<text x="746" y="675.8">Y_Ast_3</text>
<text x="746" y="700.9">O_qNSC_3</text>
<text x="746" y="726">O_Ast_2</text>
<text x="746" y="751.1">O_Ast_3</text>
<text transform="translate(180.1 764.2) rotate(90)">Y_Endo_1</text>
<text transform="translate(202.8 764.2) rotate(90)">O_Endo_1</text>
<text transform="translate(225.5 764.2) rotate(90)">Y_Endo_2</text>
<text transform="translate(248.1 764.2) rotate(90)">O_Endo_2</text>
<text transform="translate(270.8 764.2) rotate(90)">Y_NPC_1</text>
<text transform="translate(293.4 764.2) rotate(90)">O_NPC_1</text>
<text transform="translate(316.1 764.2) rotate(90)">Y_NPC_2</text>
<text transform="translate(338.8 764.2) rotate(90)">Y_NPC_3</text>
<text transform="translate(361.4 764.2) rotate(90)">O_NPC_3</text>
<text transform="translate(384.1 764.2) rotate(90)">Y_aNSC_1</text>
<text transform="translate(406.7 764.2) rotate(90)">O_aNSC_1</text>
<text transform="translate(429.4 764.2) rotate(90)">O_aNSC_2</text>
<text transform="translate(452 764.2) rotate(90)">O_aNSC_3</text>
<text transform="translate(474.7 764.2) rotate(90)">Y_aNSC_3</text>
<text transform="translate(497.4 764.2) rotate(90)">O_Ast_1</text>
<text transform="translate(520 764.2) rotate(90)">Y_qNSC_2</text>
<text transform="translate(542.7 764.2) rotate(90)">Y_qNSC_3</text>
<text transform="translate(565.4 764.2) rotate(90)">O_qNSC_1</text>
<text transform="translate(588 764.2) rotate(90)">Y_Ast_2</text>
<text transform="translate(610.7 764.2) rotate(90)">O_qNSC_2</text>
<text transform="translate(633.3 764.2) rotate(90)">Y_qNSC_1</text>
<text transform="translate(656 764.2) rotate(90)">Y_Ast_3</text>
<text transform="translate(678.6 764.2) rotate(90)">O_qNSC_3</text>
<text transform="translate(701.3 764.2) rotate(90)">O_Ast_2</text>
<text transform="translate(724 764.2) rotate(90)">O_Ast_3</text>
</g>
<defs><linearGradient id="cb" x1="0" y1="1" x2="0" y2="0">
<stop offset="0.0000" stop-color="#4575b4"/>
<stop offset="0.1667" stop-color="#91bfdb"/>
<stop offset="0.3333" stop-color="#e0f3f8"/>
<stop offset="0.5000" stop-color="#ffffbf"/>
<stop offset="0.6667" stop-color="#fee090"/>
<stop offset="0.8333" stop-color="#fc8d59"/>
<stop offset="1.0000" stop-color="#d73027"/>
</linearGradient></defs>
<rect x="839.8" y="130.5" width="16.1" height="242.4" fill="url(#cb)"/>
<g font-size="16">
<text x="862.5" y="136.8">1</text>
<text x="862.5" y="176.4">0.95</text>
<text x="862.5" y="216">0.9</text>
<text x="862.5" y="255.6">0.85</text>
<text x="862.5" y="295.2">0.8</text>
<text x="862.5" y="334.8">0.75</text>
<text x="862.5" y="374.4">0.7</text>
</g>
<path d="M185.7 130.5L185.7 104.1M208.4 130.5L208.4 104.1M185.7 104.1L208.4 104.1M231.1 130.5L231.1 103.2M253.7 130.5L253.7 103.2M231.1 103.2L253.7 103.2M197.1 104.1L197.1 95.7M242.4 103.2L242.4 95.7M197.1 95.7L242.4 95.7M276.4 130.5L276.4 124.6M299 130.5L299 124.6M276.4 124.6L299 124.6M344.4 130.5L344.4 122.8M367 130.5L367 122.8M344.4 122.8L367 122.8M321.7 130.5L321.7 120.9M355.7 122.8L355.7 120.9M321.7 120.9L355.7 120.9M389.7 130.5L389.7 125.4M412.3 130.5L412.3 125.4M389.7 125.4L412.3 125.4M435 130.5L435 124.6M457.6 130.5L457.6 124.6M435 124.6L457.6 124.6M401 125.4L401 120.6M446.3 124.6L446.3 120.6M401 120.6L446.3 120.6M338.7 120.9L338.7 118.6M423.7 120.6L423.7 118.6M338.7 118.6L423.7 118.6M287.7 124.6L287.7 112.5M381.2 118.6L381.2 112.5M287.7 112.5L381.2 112.5M525.6 130.5L525.6 122.9M548.3 130.5L548.3 122.9M525.6 122.9L548.3 122.9M503 130.5L503 121.8M537 122.9L537 121.8M503 121.8L537 121.8M593.6 130.5L593.6 126.3M616.3 130.5L616.3 126.3M593.6 126.3L616.3 126.3M638.9 130.5L638.9 126.7M661.6 130.5L661.6 126.7M638.9 126.7L661.6 126.7M706.9 130.5L706.9 126.8M729.6 130.5L729.6 126.8M706.9 126.8L729.6 126.8M684.2 130.5L684.2 124.9M718.2 126.8L718.2 124.9M684.2 124.9L718.2 124.9M650.3 126.7L650.3 124.1M701.2 124.9L701.2 124.1M650.3 124.1L701.2 124.1M604.9 126.3L604.9 123.6M675.8 124.1L675.8 123.6M604.9 123.6L675.8 123.6M571 130.5L571 119.6M640.3 123.6L640.3 119.6M571 119.6L640.3 119.6M520 121.8L520 116.9M605.6 119.6L605.6 116.9M520 116.9L605.6 116.9M480.3 130.5L480.3 111.4M562.8 116.9L562.8 111.4M480.3 111.4L562.8 111.4M334.4 112.5L334.4 91.3M521.6 111.4L521.6 91.3M334.4 91.3L521.6 91.3M219.7 95.7L219.7 45.7M428 91.3L428 45.7M219.7 45.7L428 45.7M174.4 143.1L148 143.1M174.4 168.2L148 168.2M148 143.1L148 168.2M174.4 193.2L147.1 193.2M174.4 218.4L147.1 218.4M147.1 193.2L147.1 218.4M148 155.6L139.6 155.6M147.1 205.8L139.6 205.8M139.6 155.6L139.6 205.8M174.4 243.4L168.5 243.4M174.4 268.6L168.5 268.6M168.5 243.4L168.5 268.6M174.4 318.8L166.7 318.8M174.4 343.9L166.7 343.9M166.7 318.8L166.7 343.9M174.4 293.6L164.8 293.6M166.7 331.3L164.8 331.3M164.8 293.6L164.8 331.3M174.4 369L169.3 369M174.4 394.1L169.3 394.1M169.3 369L169.3 394.1M174.4 419.2L168.5 419.2M174.4 444.2L168.5 444.2M168.5 419.2L168.5 444.2M169.3 381.5L164.5 381.5M168.5 431.7L164.5 431.7M164.5 381.5L164.5 431.7M164.8 312.5L162.5 312.5M164.5 406.6L162.5 406.6M162.5 312.5L162.5 406.6M168.5 256L156.4 256M162.5 359.5L156.4 359.5M156.4 256L156.4 359.5M174.4 519.5L166.8 519.5M174.4 544.7L166.8 544.7M166.8 519.5L166.8 544.7M174.4 494.5L165.7 494.5M166.8 532.1L165.7 532.1M165.7 494.5L165.7 532.1M174.4 594.9L170.2 594.9M174.4 620L170.2 620M170.2 594.9L170.2 620M174.4 645.1L170.6 645.1M174.4 670.1L170.6 670.1M170.6 645.1L170.6 670.1M174.4 720.4L170.7 720.4M174.4 745.5L170.7 745.5M170.7 720.4L170.7 745.5M174.4 695.2L168.8 695.2M170.7 732.9L168.8 732.9M168.8 695.2L168.8 732.9M170.6 657.6L168 657.6M168.8 714.1L168 714.1M168 657.6L168 714.1M170.2 607.4L167.5 607.4M168 685.8L167.5 685.8M167.5 607.4L167.5 685.8M174.4 569.8L163.5 569.8M167.5 646.6L163.5 646.6M163.5 569.8L163.5 646.6M165.7 513.3L160.8 513.3M163.5 608.2L160.8 608.2M160.8 513.3L160.8 608.2M174.4 469.4L155.3 469.4M160.8 560.7L155.3 560.7M155.3 469.4L155.3 560.7M156.4 307.8L135.2 307.8M155.3 515L135.2 515M135.2 307.8L135.2 515M139.6 180.7L89.6 180.7M135.2 411.4L89.6 411.4M89.6 180.7L89.6 411.4" fill="none" stroke="#000" stroke-width="1.35" stroke-linecap="square"/>
<text transform="translate(1459.6 95.6)" font-size="32.8" text-anchor="middle">Bulk RNA-seq of freshly isolated SVZ cell</text>
<text transform="translate(1463.2 134.6)" font-size="33.2" text-anchor="middle">populations from GFAP-GFP mice</text>
<path d="M1145.6 167.3V560.5H1732M1145.6 560.5h-16.5M1145.6 429.9h-16.5M1145.6 299.4h-16.5M1145.6 168.9h-16.5M1183 560.5v16M1239.8 560.5v16M1296.5 560.5v16M1353.2 560.5v16M1410 560.5v16M1466.8 560.5v16M1523.5 560.5v16M1580.2 560.5v16M1637 560.5v16M1693.8 560.5v16" fill="none" stroke="#000" stroke-width="3.2"/>
<text transform="translate(1127.3 570.9)" font-size="29.3" text-anchor="end">0</text>
<text transform="translate(1127.3 440.3)" font-size="29.3" text-anchor="end">5</text>
<text transform="translate(1127.3 309.8)" font-size="29.3" text-anchor="end">10</text>
<text transform="translate(1127.3 179.3)" font-size="29.3" text-anchor="end">15</text>
<text transform="translate(1063.3 361.3) rotate(-90) scale(0.948 1)" font-size="34.4" text-anchor="middle"><tspan font-style="italic">Ascl1</tspan> bulk mRNA expression</text>
<text transform="translate(1187 601) rotate(-45)" font-size="30.8" text-anchor="end">Young</text>
<text transform="translate(1249.2 599.5) rotate(-45)" font-size="30.8" text-anchor="end">Old</text>
<text transform="translate(1300.5 601) rotate(-45)" font-size="30.8" text-anchor="end">Young</text>
<text transform="translate(1362.8 599.5) rotate(-45)" font-size="30.8" text-anchor="end">Old</text>
<text transform="translate(1414 601) rotate(-45)" font-size="30.8" text-anchor="end">Young</text>
<text transform="translate(1476.2 599.5) rotate(-45)" font-size="30.8" text-anchor="end">Old</text>
<text transform="translate(1527.5 601) rotate(-45)" font-size="30.8" text-anchor="end">Young</text>
<text transform="translate(1589.8 599.5) rotate(-45)" font-size="30.8" text-anchor="end">Old</text>
<text transform="translate(1641 601) rotate(-45)" font-size="30.8" text-anchor="end">Young</text>
<text transform="translate(1703.2 599.5) rotate(-45)" font-size="30.8" text-anchor="end">Old</text>
<g fill="#F0368F"><circle cx="1172" cy="390.8" r="7.8"/><circle cx="1183" cy="390.8" r="7.8"/><circle cx="1194" cy="393" r="7.8"/><circle cx="1172" cy="406.5" r="7.8"/></g>
<g fill="#F0368F"><circle cx="1251.2" cy="382.3" r="7.8"/><circle cx="1229" cy="401.7" r="7.8"/><circle cx="1239.9" cy="398" r="7.8"/><circle cx="1251.5" cy="398" r="7.8"/></g>
<g fill="#69BE66"><circle cx="1296.8" cy="333.9" r="7.8"/><circle cx="1285.4" cy="378" r="7.8"/><circle cx="1307.6" cy="378" r="7.8"/><circle cx="1296.8" cy="366.6" r="7.8"/></g>
<g fill="#69BE66"><circle cx="1342.3" cy="386" r="7.8"/><circle cx="1348.8" cy="372.6" r="7.8"/><circle cx="1364" cy="372.6" r="7.8"/><circle cx="1358.5" cy="382.3" r="7.8"/></g>
<g fill="#1F78B4"><circle cx="1410" cy="349.6" r="7.8"/><circle cx="1410" cy="371.4" r="7.8"/></g>
<g fill="#1F78B4"><circle cx="1466.7" cy="345.5" r="7.8"/><circle cx="1466.7" cy="367.8" r="7.8"/><circle cx="1466.7" cy="387.7" r="7.8"/></g>
<g fill="#F41C1C"><circle cx="1523.4" cy="215" r="7.8"/><circle cx="1512" cy="241.7" r="7.8"/><circle cx="1535" cy="239.3" r="7.8"/></g>
<g fill="#F41C1C"><circle cx="1569" cy="234.4" r="7.8"/><circle cx="1592" cy="239.8" r="7.8"/><circle cx="1569" cy="251.9" r="7.8"/></g>
<g fill="#9E178E"><circle cx="1625.4" cy="233.2" r="7.8"/><circle cx="1625.4" cy="248.5" r="7.8"/><circle cx="1647.7" cy="239.3" r="7.8"/><circle cx="1640.4" cy="246.5" r="7.8"/></g>
<g fill="#9E178E"><circle cx="1682.3" cy="247.7" r="7.8"/><circle cx="1688.8" cy="241.7" r="7.8"/><circle cx="1704.6" cy="242.9" r="7.8"/><circle cx="1696" cy="247.7" r="7.8"/></g>
<path d="M1164.3 395.6h37.4M1221 394.9h37.4M1277.8 364.9h37.4M1334.5 378.5h37.4M1391.3 360.5h37.4M1448 367.3h37.4M1504.8 232h37.4M1561.5 242.2h37.4M1618.3 241.2h37.4M1675 244.6h37.4" stroke="#000" stroke-width="4.6" fill="none"/>
<path d="M1183 391.8V399.3M1174 391.8h18M1174 399.3h18M1239.8 390V399.3M1230.8 390h18M1230.8 399.3h18M1296.5 353.8V375M1287.5 353.8h18M1287.5 375h18M1353.2 375V381.8M1344.2 375h18M1344.2 381.8h18M1410 349.6V371.9M1401 349.6h18M1401 371.9h18M1466.8 355V379.9M1457.8 355h18M1457.8 379.9h18M1523.5 223V240.5M1514.5 223h18M1514.5 240.5h18M1580.2 236.9V247.3M1571.2 236.9h18M1571.2 247.3h18M1637 239.5V243M1628 239.5h18M1628 243h18M1693.8 243.4V245.8M1684.8 243.4h18M1684.8 245.8h18" stroke="#000" stroke-width="2.2" fill="none"/>
<circle cx="1795" cy="285" r="9.1" fill="#F0368F"/>
<text transform="translate(1839.3 294.9) scale(0.990 1)" font-size="26.6">Endothelial</text>
<circle cx="1795" cy="332.6" r="9.1" fill="#69BE66"/>
<text transform="translate(1839.3 341.6) scale(0.990 1)" font-size="26.6">Astrocyte</text>
<circle cx="1795" cy="384.9" r="9.1" fill="#1F78B4"/>
<text transform="translate(1839.3 392.9) scale(0.990 1)" font-size="26.6">qNSC</text>
<circle cx="1795" cy="433.7" r="9.1" fill="#F41C1C"/>
<text transform="translate(1839.3 443.3) scale(0.990 1)" font-size="26.6">aNSC</text>
<circle cx="1795" cy="487.9" r="9.1" fill="#9E178E"/>
<text transform="translate(1839.3 494.7) scale(0.990 1)" font-size="26.6">NPC</text>
<text transform="translate(341.5 920.6) scale(1.058 1)" font-size="31.6" text-anchor="middle">Young Endothelial Cell</text>
<clipPath id="cp0"><rect x="154.9" y="944.7" width="376.3" height="387.2"/></clipPath>
<g clip-path="url(#cp0)"><path d="M177 1314.2V1314.2M177 1285.6V1242.8M213.9 1314.2V1314.2M213.9 1291.6V1257.8M250.8 1314.2V1314.2M250.8 1295.5V1267.5M287.7 1314.2V1314.2M287.7 1295.9V1268.4M324.6 1314.2V1314.2M324.6 1293V1261.3M361.5 1314.2V1314.2M361.5 1278.2V1224.3M398.4 1314.2V1313.1M398.4 1261V1182.7M435.3 1314.2V1308.6M435.3 1245.5V1150.8M472.2 1314.2V1302.2M472.2 1227.5V1115.4M509.1 1314.2V1298.3M509.1 1221.7V1106.7" stroke="#777" stroke-width="1" fill="none"/>
<path d="M177 1242v-15m0 -2v-1m0 -2v-25m0 -2v-1m0 -2v-6m0 -2h0m0 -2v-4m0 -3v-2m0 -2h0m0 -3v-1m0 -2v-4m0 -2v-2m0 -2v-2m0 -4v-2m0 -3v-4m0 -2v-3m0 -7h0m0 -5v-2m0 -2v-10m0 -3v-1m0 -3h0m0 -5v-1m0 -2h0m0 -2v-1m0 -3h0m0 -2h0m0 -5h0m0 -2h0m0 -5h0m0 -7h0m0 -3v-1m0 -12h0m0 -8h0m0 -6h0m0 -10v-1m0 -3h0m0 -6v-1m0 -15h0m0 -11h0m0 -3h0m0 -10h0m0 -28h0m0 -2h0M213.9 1257v-2m0 -2v-3m0 -2v-15m0 -2h0m0 -2v-6m0 -2v-2m0 -2v-6m0 -2v-2m0 -2h0m0 -2v-2m0 -2v-9m0 -2v-6m0 -2v-2m0 -2h0m0 -2v-1m0 -2v-1m0 -3h0m0 -4v-4m0 -2v-2m0 -4v-6m0 -4h0m0 -2v-4m0 -2h0m0 -2v-7m0 -7v-1m0 -2h0m0 -3h0m0 -6h0m0 -10v-2m0 -2h0m0 -7h0m0 -6h0m0 -2v-2m0 -2h0m0 -10v-2m0 -4v-1m0 -9h0m0 -2h0m0 -3h0m0 -6h0m0 -2h0m0 -2h0m0 -3h0m0 -8v-1m0 -4h0m0 -4h0m0 -3h0m0 -12v-1m0 -17h0m0 -6h0m0 -2h0m0 -22h0m0 -2h0M250.8 1266v-7m0 -2v-8m0 -2v-9m0 -2v-1m0 -2v-4m0 -2v-7m0 -2v-15m0 -2h0m0 -2v-2m0 -2v-7m0 -2v-3m0 -2h0m0 -3v-1m0 -2h0m0 -2v-1m0 -2h0m0 -2v-3m0 -3v-2m0 -2v-3m0 -6v-1m0 -3h0m0 -2v-6m0 -2h0m0 -2v-1m0 -3v-1m0 -2h0m0 -2v-1m0 -2v-1m0 -3v-2m0 -2h0m0 -3v-1m0 -3h0m0 -2v-2m0 -5v-1m0 -5h0m0 -4h0m0 -10v-1m0 -2v-2m0 -6v-2m0 -4h0m0 -7h0m0 -6h0m0 -3h0m0 -11h0m0 -5h0m0 -2v-1m0 -10h0m0 -5h0m0 -6h0m0 -8v-1m0 -4v-1m0 -16h0m0 -8h0m0 -4h0m0 -8h0m0 -5h0m0 -4h0M287.7 1267v-56m0 -2h0m0 -3h0m0 -2h0m0 -2h0m0 -3h0m0 -3v-1m0 -2h0m0 -2h0m0 -2v-1m0 -2v-6m0 -4h0m0 -2v-1m0 -2h0m0 -2v-1m0 -2h0m0 -3h0m0 -2h0m0 -3h0m0 -2v-1m0 -2h0m0 -2h0m0 -5v-3m0 -2h0m0 -3v-1m0 -2v-5m0 -3h0m0 -3h0m0 -2v-2m0 -4v-2m0 -3h0m0 -5h0m0 -2h0m0 -3v-1m0 -2h0m0 -3v-1m0 -5v-3m0 -4h0m0 -6v-3m0 -6h0m0 -5h0m0 -3h0m0 -2v-2m0 -7h0m0 -14h0m0 -2h0m0 -2v-2m0 -3v-2m0 -5h0m0 -6h0m0 -4h0m0 -2v-1m0 -7v-1m0 -5h0m0 -10h0m0 -9h0m0 -3h0m0 -4h0m0 -14h0m0 -2h0M324.6 1260v-40m0 -2v-1m0 -2v-1m0 -2v-18m0 -2v-1m0 -2v-2m0 -3h0m0 -2v-6m0 -3v-5m0 -3h0m0 -3v-1m0 -2v-2m0 -3v-3m0 -2h0m0 -3v-1m0 -2h0m0 -2h0m0 -2h0m0 -2v-6m0 -2v-2m0 -4h0m0 -2v-2m0 -6h0m0 -2h0m0 -5h0m0 -2h0m0 -2h0m0 -2v-2m0 -2v-1m0 -2v-2m0 -8h0m0 -4h0m0 -3v-1m0 -3v-3m0 -3h0m0 -3h0m0 -8h0m0 -7v-2m0 -2h0m0 -2h0m0 -5h0m0 -9h0m0 -3h0m0 -9h0m0 -9h0m0 -20h0m0 -4h0m0 -2h0m0 -17h0m0 -2h0m0 -15h0m0 -2v-1M361.5 1223v-5m0 -2v-9m0 -2v-16m0 -2h0m0 -2v-8m0 -2v-12m0 -4v-2m0 -2h0m0 -2v-1m0 -3v-2m0 -2v-2m0 -3v-4m0 -3h0m0 -4v-1m0 -5v-2m0 -2h0m0 -3h0m0 -3v-2m0 -3v-1m0 -3h0m0 -5h0m0 -2v-2m0 -2h0m0 -2h0m0 -2v-1m0 -2v-1m0 -3h0m0 -2h0m0 -2v-1m0 -5h0m0 -7v-5m0 -6h0m0 -3h0m0 -2h0m0 -7h0m0 -3v-2m0 -5h0m0 -5v-1m0 -7h0m0 -2v-1m0 -2v-2m0 -2h0m0 -2v-1m0 -2h0m0 -4h0m0 -2h0m0 -9v-2m0 -3h0m0 -4h0m0 -4h0m0 -4h0m0 -2h0m0 -12h0m0 -3h0m0 -4h0m0 -3v-1M398.4 1182v-27m0 -2v-15m0 -2v-4m0 -3v-4m0 -2v-3m0 -2v-9m0 -3v-8m0 -2v-1m0 -2h0m0 -3v-1m0 -2v-1m0 -3v-3m0 -6v-1m0 -3v-1m0 -2h0m0 -2v-1m0 -2v-1m0 -8h0m0 -2h0m0 -2h0m0 -4h0m0 -4v-1m0 -2h0m0 -4h0m0 -3v-3m0 -2v-2m0 -6h0m0 -6v-2m0 -4h0m0 -3h0m0 -3h0m0 -2h0m0 -2v-1m0 -3h0m0 -4v-1m0 -3h0m0 -15h0m0 -2h0m0 -23h0M435.3 1150v-17m0 -2v-6m0 -2v-7m0 -2v-2m0 -2v-4m0 -2v-2m0 -2h0m0 -4v-9m0 -2v-2m0 -2v-3m0 -2v-7m0 -2v-3m0 -2v-3m0 -2h0m0 -2v-1m0 -2h0m0 -2v-3m0 -3v-3m0 -4h0m0 -2v-1m0 -3h0m0 -3h0m0 -3h0m0 -2v-1m0 -2v-1m0 -4v-3m0 -2h0m0 -2h0m0 -2v-3m0 -2v-5m0 -2v-1m0 -2v-1m0 -2h0m0 -4v-1m0 -4h0m0 -3h0m0 -2h0m0 -2h0m0 -4h0m0 -2h0m0 -2h0m0 -3h0m0 -7v-1m0 -4h0m0 -5h0M472.2 1114v-47m0 -2v-5m0 -2v-4m0 -2v-1m0 -2h0m0 -2v-1m0 -2v-5m0 -2h0m0 -2v-1m0 -2v-1m0 -2v-8m0 -3v-3m0 -2v-1m0 -2v-2m0 -2h0m0 -2h0m0 -3h0m0 -3v-6m0 -2v-7m0 -3h0m0 -4h0m0 -2v-1m0 -2h0m0 -6v-3m0 -3v-1m0 -4h0m0 -4v-1m0 -2v-1m0 -2h0M509.1 1106v-15m0 -2v-17m0 -2v-8m0 -6v-6m0 -2v-3m0 -2v-13m0 -2v-1m0 -2v-14m0 -2h0m0 -3h0m0 -3h0m0 -2v-1m0 -2h0m0 -2h0m0 -2v-3m0 -2v-1m0 -2h0m0 -7h0m0 -2h0m0 -4v-1m0 -4h0m0 -2h0m0 -3h0m0 -3v-2m0 -3v-2m0 -2h0m0 -2h0m0 -2v-1" stroke="#1a1214" stroke-width="2.5" stroke-linecap="round" fill="none"/></g>
<g fill="#E64E9E" stroke="#C23A82" stroke-width="1"><rect x="163.2" y="1285.6" width="27.7" height="28.6"/><rect x="200.1" y="1291.6" width="27.7" height="22.6"/><rect x="237" y="1295.5" width="27.7" height="18.7"/><rect x="273.9" y="1295.9" width="27.7" height="18.3"/><rect x="310.8" y="1293" width="27.7" height="21.2"/><rect x="347.7" y="1278.2" width="27.7" height="36"/><rect x="384.6" y="1261" width="27.7" height="52.2"/><rect x="421.4" y="1245.5" width="27.7" height="63.1"/><rect x="458.3" y="1227.5" width="27.7" height="74.7"/><rect x="495.2" y="1221.7" width="27.7" height="76.7"/></g>
<path d="M163.2 1312.4h27.7M200.1 1313.8h27.7M237 1313.8h27.7M273.9 1313.8h27.7M310.8 1313.1h27.7M347.7 1308.6h27.7M384.6 1301.2h27.7M421.4 1289.9h27.7M458.3 1280.4h27.7M495.2 1275.8h27.7" stroke="#5E1240" stroke-width="1.3" fill="none"/>
<path d="M154.9 1314.2h-3M154.9 1226.1h-3M154.9 1138h-3M154.9 1049.8h-3M154.9 961.7h-3M177 1331.9v3M213.9 1331.9v3M250.8 1331.9v3M287.7 1331.9v3M324.6 1331.9v3M361.5 1331.9v3M398.4 1331.9v3M435.3 1331.9v3M472.2 1331.9v3M509.1 1331.9v3" stroke="#e2e2e2" stroke-width="1" fill="none"/>
<rect x="154.9" y="944.7" width="376.3" height="387.2" fill="none" stroke="#cacaca" stroke-width="1.1"/>
<text transform="translate(149.8 969.2)" font-size="19.7" text-anchor="end">1.00</text>
<text transform="translate(149.8 1057.3)" font-size="19.7" text-anchor="end">0.75</text>
<text transform="translate(149.8 1145.5)" font-size="19.7" text-anchor="end">0.5</text>
<text transform="translate(149.8 1233.6)" font-size="19.7" text-anchor="end">0.25</text>
<text transform="translate(149.8 1321.7)" font-size="19.7" text-anchor="end">0</text>
<text transform="translate(181.8 1345.9) rotate(-45) scale(1.030 1)" font-size="19.4" text-anchor="end">0-10%</text>
<text transform="translate(218.7 1345.9) rotate(-45) scale(1.030 1)" font-size="19.4" text-anchor="end">10-20%</text>
<text transform="translate(255.6 1345.9) rotate(-45) scale(1.030 1)" font-size="19.4" text-anchor="end">20-30%</text>
<text transform="translate(292.5 1345.9) rotate(-45) scale(1.030 1)" font-size="19.4" text-anchor="end">30-40%</text>
<text transform="translate(329.4 1345.9) rotate(-45) scale(1.030 1)" font-size="19.4" text-anchor="end">40-50%</text>
<text transform="translate(366.3 1345.9) rotate(-45) scale(1.030 1)" font-size="19.4" text-anchor="end">50-60%</text>
<text transform="translate(403.2 1345.9) rotate(-45) scale(1.030 1)" font-size="19.4" text-anchor="end">60-70%</text>
<text transform="translate(440.1 1345.9) rotate(-45) scale(1.030 1)" font-size="19.4" text-anchor="end">70-80%</text>
<text transform="translate(477 1345.9) rotate(-45) scale(1.030 1)" font-size="19.4" text-anchor="end">80-90%</text>
<text transform="translate(513.9 1345.9) rotate(-45) scale(1.030 1)" font-size="19.4" text-anchor="end">90-100%</text>
<text transform="translate(327.3 1437.1) scale(1.090 1)" font-size="24.6" text-anchor="middle">Promoter Accessibility</text>
<text transform="translate(327.3 1469) scale(1.090 1)" font-size="24.6" text-anchor="middle">(Endothelial cell ATAC-seq)</text>
<text transform="translate(30.7 1138.1) rotate(-90) scale(0.965 1)" font-size="27.7" text-anchor="middle">Gene expression</text>
<text transform="translate(62.1 1139.7) rotate(-90) scale(0.965 1)" font-size="27.7" text-anchor="middle">(Endothelial cell</text>
<text transform="translate(94 1139.3) rotate(-90) scale(0.965 1)" font-size="27.7" text-anchor="middle">single-cell RNA-seq)</text>
<text transform="translate(793.6 920.6) scale(1.058 1)" font-size="31.6" text-anchor="middle">Old Endothelial Cell</text>
<clipPath id="cp1"><rect x="610.2" y="944.7" width="376.6" height="387.2"/></clipPath>
<g clip-path="url(#cp1)"><path d="M632.4 1314.2V1314.2M632.4 1287.1V1246.3M669.3 1314.2V1314.2M669.3 1290.9V1256M706.2 1314.2V1314.2M706.2 1291.3V1256.9M743.1 1314.2V1314.2M743.1 1293.4V1262.2M780 1314.2V1314.2M780 1284.2V1239.3M817 1314.2V1314.2M817 1281.4V1232.2M853.9 1314.2V1313.1M853.9 1267.7V1199.5M890.8 1314.2V1310.7M890.8 1253.6V1167.9M927.7 1314.2V1307.5M927.7 1246.5V1155M964.6 1314.2V1300.8M964.6 1232.4V1129.8" stroke="#777" stroke-width="1" fill="none"/>
<path d="M632.4 1245v-34m0 -2v-8m0 -3v-2m0 -2v-4m0 -4v-1m0 -3v-7m0 -2v-6m0 -2v-7m0 -2h0m0 -2h0m0 -3v-1m0 -3h0m0 -2h0m0 -2v-1m0 -2v-4m0 -2v-2m0 -4h0m0 -4h0m0 -3v-2m0 -5v-1m0 -5v-1m0 -2h0m0 -2h0m0 -3h0m0 -2h0m0 -4h0m0 -4v-2m0 -2h0m0 -10h0m0 -11v-1m0 -6h0m0 -2v-3m0 -3h0m0 -3v-1m0 -3v-1m0 -11h0m0 -2h0m0 -4h0m0 -18h0m0 -25v-1m0 -2h0m0 -4h0m0 -3h0m0 -6h0m0 -4h0m0 -4v-1M669.3 1255v-2m0 -2v-16m0 -2v-4m0 -2v-3m0 -2v-1m0 -2v-5m0 -2h0m0 -2v-5m0 -2v-1m0 -2v-1m0 -2v-14m0 -2h0m0 -2v-3m0 -2v-2m0 -2v-1m0 -2h0m0 -5v-1m0 -3v-4m0 -2v-3m0 -3v-1m0 -3h0m0 -2h0m0 -2v-5m0 -2v-1m0 -2v-2m0 -2h0m0 -3h0m0 -4v-1m0 -2h0m0 -2h0m0 -4h0m0 -4h0m0 -5v-1m0 -7h0m0 -15h0m0 -5v-2m0 -2v-1m0 -3h0m0 -4h0m0 -7h0m0 -3h0m0 -10h0m0 -6v-1m0 -11h0m0 -16h0m0 -3h0m0 -2h0m0 -12h0m0 -3v-1m0 -9h0m0 -2h0m0 -15h0m0 -5h0m0 -5h0M706.2 1256v-18m0 -2h0m0 -2v-26m0 -2h0m0 -3v-2m0 -2v-13m0 -2h0m0 -2h0m0 -2h0m0 -2h0m0 -2h0m0 -2v-5m0 -2v-3m0 -3v-1m0 -3h0m0 -4h0m0 -2h0m0 -2h0m0 -2v-3m0 -3v-5m0 -10h0m0 -4h0m0 -2v-1m0 -4h0m0 -12h0m0 -4h0m0 -3h0m0 -2v-1m0 -2h0m0 -12h0m0 -7h0m0 -2v-1m0 -6h0m0 -5h0m0 -6h0m0 -2h0m0 -2h0m0 -4h0m0 -9h0m0 -2h0m0 -2v-1m0 -6h0m0 -8h0m0 -14h0m0 -9h0m0 -2h0m0 -3h0m0 -3h0m0 -30h0m0 -11h0M743.1 1261v-27m0 -2v-10m0 -2v-3m0 -2v-5m0 -2v-2m0 -2v-4m0 -2v-4m0 -4v-1m0 -2h0m0 -5h0m0 -2h0m0 -3v-3m0 -2v-3m0 -4h0m0 -2h0m0 -2v-1m0 -2v-3m0 -3h0m0 -2v-1m0 -2v-1m0 -2h0m0 -2h0m0 -4h0m0 -2h0m0 -2v-1m0 -4h0m0 -3h0m0 -5h0m0 -2h0m0 -2h0m0 -5v-1m0 -2v-1m0 -4h0m0 -2v-1m0 -9v-2m0 -4h0m0 -2h0m0 -4v-1m0 -5v-2m0 -8v-1m0 -3h0m0 -2h0m0 -10v-2m0 -3h0m0 -4h0m0 -3h0m0 -10h0m0 -2h0m0 -7h0m0 -2h0m0 -9h0m0 -3h0m0 -9v-1m0 -3v-1m0 -10h0m0 -2h0m0 -7h0m0 -4h0m0 -8v-1m0 -4h0m0 -2h0m0 -4h0m0 -4h0M780 1238v-11m0 -2v-22m0 -2v-7m0 -2h0m0 -2h0m0 -3v-5m0 -3v-2m0 -3v-1m0 -2v-3m0 -2v-3m0 -2h0m0 -2h0m0 -2v-2m0 -2v-1m0 -3v-1m0 -5v-2m0 -2v-1m0 -3h0m0 -4v-7m0 -3h0m0 -2v-3m0 -2h0m0 -2h0m0 -2h0m0 -2h0m0 -2h0m0 -4v-2m0 -2h0m0 -4v-2m0 -2h0m0 -3v-2m0 -2h0m0 -2h0m0 -2h0m0 -2v-1m0 -2v-1m0 -2v-1m0 -2v-2m0 -2h0m0 -4h0m0 -3v-1m0 -2h0m0 -3v-1m0 -2v-1m0 -2v-1m0 -5v-1m0 -6h0m0 -3v-1m0 -2v-2m0 -4h0m0 -3h0m0 -3h0m0 -3v-1m0 -3h0m0 -4h0m0 -4h0m0 -7v-1m0 -3v-2m0 -2v-1m0 -6h0m0 -11h0m0 -9h0m0 -2h0m0 -2h0m0 -6h0m0 -2h0m0 -2h0M817 1231v-11m0 -2h0m0 -2v-6m0 -2v-11m0 -3v-1m0 -2v-12m0 -2v-5m0 -3v-1m0 -2v-1m0 -3h0m0 -2v-1m0 -2v-9m0 -2v-1m0 -2v-3m0 -2v-1m0 -8h0m0 -2v-1m0 -6v-1m0 -3v-3m0 -2v-2m0 -3v-1m0 -3v-1m0 -2v-1m0 -2v-4m0 -3h0m0 -3h0m0 -2h0m0 -3v-1m0 -4h0m0 -3h0m0 -2h0m0 -4v-1m0 -3v-1m0 -2h0m0 -2v-1m0 -4h0m0 -2h0m0 -6h0m0 -3v-2m0 -9h0m0 -2v-1m0 -2h0m0 -4v-1m0 -7v-1m0 -15h0m0 -4h0m0 -3h0m0 -4h0m0 -4h0m0 -2h0m0 -2h0m0 -3v-3m0 -8h0m0 -3h0m0 -12h0m0 -3h0M853.9 1197v-14m0 -2v-15m0 -2h0m0 -2v-11m0 -4h0m0 -2v-3m0 -2v-2m0 -4v-5m0 -2v-2m0 -2v-2m0 -3v-1m0 -2h0m0 -3h0m0 -2v-2m0 -2v-2m0 -3v-2m0 -3h0m0 -2h0m0 -2h0m0 -2v-2m0 -3v-1m0 -3h0m0 -3v-1m0 -3v-2m0 -2h0m0 -4h0m0 -5h0m0 -5h0m0 -2v-1m0 -8h0m0 -5v-1m0 -4v-2m0 -3v-1m0 -2h0m0 -3h0m0 -6h0m0 -3h0m0 -3v-1m0 -3h0m0 -6v-2m0 -4v-3m0 -3h0m0 -7h0m0 -2v-2m0 -9h0m0 -3h0m0 -13h0m0 -10v-1M890.8 1167v-36m0 -3h0m0 -2h0m0 -2v-5m0 -2v-1m0 -2v-10m0 -2h0m0 -2v-3m0 -3v-10m0 -2v-1m0 -2v-2m0 -4v-3m0 -2h0m0 -3v-1m0 -2h0m0 -2h0m0 -2h0m0 -4v-3m0 -7h0m0 -2h0m0 -2h0m0 -2v-1m0 -2h0m0 -3h0m0 -5h0m0 -2h0m0 -2v-2m0 -2h0m0 -2h0m0 -3h0m0 -3h0m0 -2v-1m0 -4h0m0 -6h0m0 -3h0m0 -2h0m0 -2h0m0 -4h0m0 -2v-1m0 -2h0m0 -2h0m0 -3h0m0 -5h0m0 -2v-1m0 -2v-1m0 -2v-1m0 -4h0m0 -2h0m0 -9h0m0 -5h0M927.7 1154v-18m0 -3v-1m0 -2v-8m0 -2v-1m0 -2v-6m0 -2h0m0 -2v-8m0 -3v-4m0 -2v-3m0 -2h0m0 -2v-2m0 -2h0m0 -2h0m0 -2v-1m0 -2v-2m0 -3h0m0 -2v-3m0 -4v-2m0 -2v-1m0 -2v-4m0 -2v-9m0 -2h0m0 -2v-4m0 -2h0m0 -3v-1m0 -3v-4m0 -2v-1m0 -3v-3m0 -3v-3m0 -3h0m0 -2h0m0 -2v-1m0 -4h0m0 -4h0m0 -2v-4m0 -3v-1m0 -2h0m0 -4v-1m0 -4h0m0 -3h0m0 -4h0m0 -4h0m0 -2h0m0 -5h0M964.6 1129v-8m0 -2v-15m0 -2v-4m0 -2h0m0 -2v-21m0 -2v-4m0 -2v-6m0 -2v-2m0 -2v-7m0 -2v-1m0 -3v-2m0 -3v-3m0 -5v-2m0 -2v-2m0 -3h0m0 -3v-1m0 -2v-1m0 -2v-1m0 -2v-5m0 -2h0m0 -3v-1m0 -3v-1m0 -3h0m0 -3v-2m0 -4v-4m0 -2h0m0 -2h0m0 -2h0m0 -2v-1m0 -3h0m0 -4h0m0 -2h0m0 -7v-1m0 -4h0m0 -2h0" stroke="#1a1214" stroke-width="2.5" stroke-linecap="round" fill="none"/></g>
<g fill="#E71D7C" stroke="#C9186B" stroke-width="1"><rect x="618.5" y="1287.1" width="27.7" height="27.1"/><rect x="655.4" y="1290.9" width="27.7" height="23.3"/><rect x="692.4" y="1291.3" width="27.7" height="22.9"/><rect x="729.3" y="1293.4" width="27.7" height="20.8"/><rect x="766.2" y="1284.2" width="27.7" height="30"/><rect x="803.1" y="1281.4" width="27.7" height="32.8"/><rect x="840" y="1267.7" width="27.7" height="45.5"/><rect x="877" y="1253.6" width="27.7" height="57.1"/><rect x="913.9" y="1246.5" width="27.7" height="61"/><rect x="950.8" y="1232.4" width="27.7" height="68.4"/></g>
<path d="M618.5 1312.4h27.7M655.4 1313.5h27.7M692.4 1313.5h27.7M729.3 1313.5h27.7M766.2 1311.4h27.7M803.1 1308.2h27.7M840 1300.5h27.7M877 1293h27.7M913.9 1288.5h27.7M950.8 1280.4h27.7" stroke="#6A0F3C" stroke-width="1.3" fill="none"/>
<path d="M610.2 1314.2h-3M610.2 1226.1h-3M610.2 1138h-3M610.2 1049.8h-3M610.2 961.7h-3M632.4 1331.9v3M669.3 1331.9v3M706.2 1331.9v3M743.1 1331.9v3M780 1331.9v3M817 1331.9v3M853.9 1331.9v3M890.8 1331.9v3M927.7 1331.9v3M964.6 1331.9v3" stroke="#e2e2e2" stroke-width="1" fill="none"/>
<rect x="610.2" y="944.7" width="376.6" height="387.2" fill="none" stroke="#cacaca" stroke-width="1.1"/>
<text transform="translate(605.1 969.2)" font-size="19.7" text-anchor="end">1.00</text>
<text transform="translate(605.1 1057.3)" font-size="19.7" text-anchor="end">0.75</text>
<text transform="translate(605.1 1145.5)" font-size="19.7" text-anchor="end">0.5</text>
<text transform="translate(605.1 1233.6)" font-size="19.7" text-anchor="end">0.25</text>
<text transform="translate(605.1 1321.7)" font-size="19.7" text-anchor="end">0</text>
<text transform="translate(641.1 1348.1) rotate(-45) scale(1.030 1)" font-size="19.4" text-anchor="end">0-10%</text>
<text transform="translate(678 1348.1) rotate(-45) scale(1.030 1)" font-size="19.4" text-anchor="end">10-20%</text>
<text transform="translate(714.9 1348.1) rotate(-45) scale(1.030 1)" font-size="19.4" text-anchor="end">20-30%</text>
<text transform="translate(751.8 1348.1) rotate(-45) scale(1.030 1)" font-size="19.4" text-anchor="end">30-40%</text>
<text transform="translate(788.7 1348.1) rotate(-45) scale(1.030 1)" font-size="19.4" text-anchor="end">40-50%</text>
<text transform="translate(825.7 1348.1) rotate(-45) scale(1.030 1)" font-size="19.4" text-anchor="end">50-60%</text>
<text transform="translate(862.6 1348.1) rotate(-45) scale(1.030 1)" font-size="19.4" text-anchor="end">60-70%</text>
<text transform="translate(899.5 1348.1) rotate(-45) scale(1.030 1)" font-size="19.4" text-anchor="end">70-80%</text>
<text transform="translate(936.4 1348.1) rotate(-45) scale(1.030 1)" font-size="19.4" text-anchor="end">80-90%</text>
<text transform="translate(973.3 1348.1) rotate(-45) scale(1.030 1)" font-size="19.4" text-anchor="end">90-100%</text>
<text transform="translate(802.6 1437.1) scale(1.090 1)" font-size="24.6" text-anchor="middle">Promoter Accessibility</text>
<text transform="translate(802.6 1469) scale(1.090 1)" font-size="24.6" text-anchor="middle">(Endothelial cell ATAC-seq)</text>
<text transform="translate(1322.4 920.6) scale(1.058 1)" font-size="31.6" text-anchor="middle">Young Astrocyte</text>
<clipPath id="cp2"><rect x="1143.4" y="944.7" width="376.3" height="387.2"/></clipPath>
<g clip-path="url(#cp2)"><path d="M1165.5 1314.2V1314.2M1165.5 1291.6V1257.8M1202.4 1314.2V1314.2M1202.4 1288.8V1250.8M1239.3 1314.2V1314.2M1239.3 1290.9V1256M1276.2 1314.2V1314.2M1276.2 1288.1V1249M1313.1 1314.2V1314.2M1313.1 1281.4V1232.2M1350 1314.2V1312.8M1350 1265.7V1195.1M1386.9 1314.2V1308.6M1386.9 1256V1177.3M1423.8 1314.2V1302.2M1423.8 1238.4V1142.7M1460.7 1314.2V1298.3M1460.7 1228.5V1123.8M1497.6 1314.2V1293.4M1497.6 1212V1089.8" stroke="#777" stroke-width="1" fill="none"/>
<path d="M1165.5 1257v-7m0 -2v-12m0 -2v-8m0 -2v-9m0 -2v-3m0 -2v-20m0 -2v-1m0 -2v-2m0 -2h0m0 -2v-1m0 -4h0m0 -2h0m0 -4h0m0 -2h0m0 -3h0m0 -2h0m0 -5h0m0 -2v-4m0 -2v-3m0 -7h0m0 -4v-1m0 -5h0m0 -5h0m0 -2h0m0 -3h0m0 -3v-1m0 -5h0m0 -5h0m0 -6h0m0 -5h0m0 -4h0m0 -8h0m0 -7h0m0 -11h0m0 -3h0m0 -4h0m0 -9h0m0 -3h0m0 -13h0m0 -6h0m0 -3h0m0 -2h0m0 -2h0m0 -10h0m0 -7h0m0 -6h0m0 -19h0m0 -4h0m0 -13h0m0 -14h0M1202.4 1250v-9m0 -2v-2m0 -2v-16m0 -3v-4m0 -2v-3m0 -2v-14m0 -2v-2m0 -2h0m0 -2h0m0 -2v-1m0 -2v-3m0 -2v-9m0 -2v-4m0 -2v-1m0 -2h0m0 -5h0m0 -3h0m0 -5h0m0 -2v-1m0 -2v-1m0 -2h0m0 -2v-1m0 -3v-1m0 -2v-2m0 -4h0m0 -3h0m0 -7h0m0 -6h0m0 -3v-1m0 -5v-1m0 -2v-3m0 -2h0m0 -2h0m0 -2v-1m0 -2h0m0 -3h0m0 -3h0m0 -2v-3m0 -4v-1m0 -5h0m0 -2h0m0 -6h0m0 -4h0m0 -12h0m0 -12h0m0 -6v-1m0 -8h0m0 -2v-1m0 -2h0m0 -19v-2m0 -8h0m0 -4h0m0 -5h0m0 -4h0m0 -5h0M1239.3 1255v-6m0 -2v-3m0 -2v-4m0 -2v-15m0 -2h0m0 -2v-7m0 -2v-2m0 -2h0m0 -2v-1m0 -2v-7m0 -2v-1m0 -3h0m0 -3v-1m0 -3h0m0 -3h0m0 -3h0m0 -3h0m0 -4v-4m0 -3h0m0 -3h0m0 -3v-2m0 -2h0m0 -2v-2m0 -2v-1m0 -2h0m0 -2v-1m0 -3v-4m0 -6v-3m0 -2v-2m0 -4h0m0 -6v-2m0 -3h0m0 -8h0m0 -5h0m0 -2h0m0 -8h0m0 -6h0m0 -5h0m0 -4h0m0 -3h0m0 -2h0m0 -8v-1m0 -8h0m0 -11v-2m0 -9v-1m0 -7h0m0 -4h0m0 -2h0m0 -6v-1m0 -15h0m0 -4h0m0 -17h0m0 -2h0m0 -10h0m0 -4h0M1276.2 1248v-22m0 -2v-4m0 -3v-4m0 -2v-3m0 -2v-13m0 -3v-3m0 -2v-1m0 -3v-3m0 -2v-5m0 -2h0m0 -2v-5m0 -2h0m0 -3v-1m0 -2h0m0 -2v-1m0 -2h0m0 -3v-1m0 -2h0m0 -5h0m0 -2h0m0 -3h0m0 -2h0m0 -2h0m0 -2h0m0 -4h0m0 -2h0m0 -2h0m0 -3h0m0 -4h0m0 -4h0m0 -5v-1m0 -2v-2m0 -3v-1m0 -4h0m0 -3h0m0 -2h0m0 -2h0m0 -4h0m0 -4h0m0 -3h0m0 -3v-1m0 -8v-1m0 -3h0m0 -2h0m0 -9h0m0 -4h0m0 -5v-2m0 -14h0m0 -10v-1m0 -7h0m0 -6h0m0 -13h0m0 -5v-1m0 -2h0m0 -7h0m0 -6h0m0 -14h0m0 -5h0M1313.1 1231v-24m0 -2h0m0 -2h0m0 -2v-4m0 -2v-14m0 -2v-5m0 -3h0m0 -2v-5m0 -2v-2m0 -3v-1m0 -2h0m0 -2h0m0 -2h0m0 -2v-2m0 -5v-2m0 -2h0m0 -2v-2m0 -2v-1m0 -3v-1m0 -2v-2m0 -2h0m0 -4v-1m0 -2v-2m0 -3v-1m0 -3h0m0 -3v-1m0 -2v-5m0 -5v-1m0 -8v-2m0 -2h0m0 -3h0m0 -6h0m0 -5h0m0 -20v-1m0 -2h0m0 -7h0m0 -2v-1m0 -6v-1m0 -3h0m0 -3h0m0 -22h0m0 -5h0m0 -7v-2m0 -5h0m0 -12v-1m0 -2h0m0 -7h0m0 -2h0M1350 1194v-15m0 -2v-11m0 -2v-4m0 -3v-1m0 -2h0m0 -2v-1m0 -2v-3m0 -4h0m0 -2v-1m0 -2v-6m0 -2v-4m0 -3h0m0 -4v-2m0 -3h0m0 -2v-1m0 -2h0m0 -2v-3m0 -2v-6m0 -2v-1m0 -4v-1m0 -3v-3m0 -3v-1m0 -2v-2m0 -2v-4m0 -2h0m0 -2v-1m0 -2h0m0 -2h0m0 -3v-1m0 -7v-1m0 -6v-1m0 -3h0m0 -8v-1m0 -2v-1m0 -6v-2m0 -2h0m0 -3h0m0 -7h0m0 -2v-1m0 -4v-1m0 -3h0m0 -11v-1m0 -8h0m0 -3h0m0 -4h0m0 -2h0m0 -5v-2m0 -6h0m0 -2h0M1386.9 1176v-6m0 -2v-2m0 -2v-31m0 -2h0m0 -2v-6m0 -2v-5m0 -3v-18m0 -3v-2m0 -2v-1m0 -3v-5m0 -2v-4m0 -4h0m0 -2v-2m0 -4h0m0 -2h0m0 -3v-2m0 -2v-2m0 -6h0m0 -2v-4m0 -3v-1m0 -3v-1m0 -3h0m0 -2h0m0 -3h0m0 -2v-1m0 -11h0m0 -3h0m0 -2h0m0 -9h0m0 -6h0m0 -3v-1m0 -2v-1m0 -6v-1m0 -3h0m0 -6v-2m0 -12h0m0 -4h0M1423.8 1142v-5m0 -2v-27m0 -2v-3m0 -2v-14m0 -4v-4m0 -2v-1m0 -3v-3m0 -2v-1m0 -2v-2m0 -2h0m0 -2h0m0 -2v-4m0 -2h0m0 -2v-6m0 -3v-4m0 -4h0m0 -3h0m0 -2v-3m0 -4v-1m0 -2v-1m0 -2h0m0 -5h0m0 -4v-2m0 -2v-2m0 -3h0m0 -3h0m0 -3v-1m0 -4h0m0 -2h0m0 -3h0m0 -2h0m0 -5v-1m0 -3h0m0 -3v-1m0 -4v-1m0 -2h0m0 -3h0m0 -3v-1m0 -4v-3M1460.7 1123v-32m0 -2v-12m0 -2h0m0 -2v-8m0 -2v-1m0 -2h0m0 -2v-3m0 -2h0m0 -2v-13m0 -2h0m0 -2v-2m0 -3h0m0 -2v-4m0 -2v-1m0 -2v-1m0 -2v-5m0 -4h0m0 -2h0m0 -5h0m0 -2h0m0 -3v-3m0 -3h0m0 -3v-1m0 -3v-2m0 -2h0m0 -4h0m0 -2v-2m0 -4v-1m0 -2h0m0 -3h0m0 -3v-1m0 -5v-1m0 -4v-1M1497.6 1089v-8m0 -2v-14m0 -2v-3m0 -2v-6m0 -2v-8m0 -2h0m0 -2v-10m0 -2v-7m0 -2v-10m0 -2v-8m0 -2v-3m0 -2v-1m0 -3v-1m0 -2v-2m0 -2h0m0 -2h0m0 -3v-5m0 -2h0m0 -6v-1m0 -5v-2m0 -2v-1m0 -4h0m0 -2h0" stroke="#1a1214" stroke-width="2.5" stroke-linecap="round" fill="none"/></g>
<g fill="#96DC6E" stroke="#4F7A3E" stroke-width="1"><rect x="1151.7" y="1291.6" width="27.7" height="22.6"/><rect x="1188.6" y="1288.8" width="27.7" height="25.4"/><rect x="1225.5" y="1290.9" width="27.7" height="23.3"/><rect x="1262.4" y="1288.1" width="27.7" height="26.1"/><rect x="1299.3" y="1281.4" width="27.7" height="32.8"/><rect x="1336.2" y="1265.7" width="27.7" height="47.1"/><rect x="1373.1" y="1256" width="27.7" height="52.5"/><rect x="1409.9" y="1238.4" width="27.7" height="63.8"/><rect x="1446.8" y="1228.5" width="27.7" height="69.8"/><rect x="1483.7" y="1212" width="27.7" height="81.4"/></g>
<path d="M1151.7 1313.1h27.7M1188.6 1312.8h27.7M1225.5 1312.8h27.7M1262.4 1311.7h27.7M1299.3 1309.3h27.7M1336.2 1300.1h27.7M1373.1 1290.6h27.7M1409.9 1281.8h27.7M1446.8 1276.5h27.7M1483.7 1268.7h27.7" stroke="#23521A" stroke-width="1.3" fill="none"/>
<path d="M1143.4 1314.2h-3M1143.4 1226.1h-3M1143.4 1138h-3M1143.4 1049.8h-3M1143.4 961.7h-3M1165.5 1331.9v3M1202.4 1331.9v3M1239.3 1331.9v3M1276.2 1331.9v3M1313.1 1331.9v3M1350 1331.9v3M1386.9 1331.9v3M1423.8 1331.9v3M1460.7 1331.9v3M1497.6 1331.9v3" stroke="#e2e2e2" stroke-width="1" fill="none"/>
<rect x="1143.4" y="944.7" width="376.3" height="387.2" fill="none" stroke="#cacaca" stroke-width="1.1"/>
<text transform="translate(1140 969.2)" font-size="19.7" text-anchor="end">1.00</text>
<text transform="translate(1140 1057.3)" font-size="19.7" text-anchor="end">0.75</text>
<text transform="translate(1140 1145.5)" font-size="19.7" text-anchor="end">0.5</text>
<text transform="translate(1140 1233.6)" font-size="19.7" text-anchor="end">0.25</text>
<text transform="translate(1140 1321.7)" font-size="19.7" text-anchor="end">0</text>
<text transform="translate(1174.2 1345.2) rotate(-45) scale(1.030 1)" font-size="19.4" text-anchor="end">0-10%</text>
<text transform="translate(1211.1 1345.2) rotate(-45) scale(1.030 1)" font-size="19.4" text-anchor="end">10-20%</text>
<text transform="translate(1248 1345.2) rotate(-45) scale(1.030 1)" font-size="19.4" text-anchor="end">20-30%</text>
<text transform="translate(1284.9 1345.2) rotate(-45) scale(1.030 1)" font-size="19.4" text-anchor="end">30-40%</text>
<text transform="translate(1321.8 1345.2) rotate(-45) scale(1.030 1)" font-size="19.4" text-anchor="end">40-50%</text>
<text transform="translate(1358.7 1345.2) rotate(-45) scale(1.030 1)" font-size="19.4" text-anchor="end">50-60%</text>
<text transform="translate(1395.6 1345.2) rotate(-45) scale(1.030 1)" font-size="19.4" text-anchor="end">60-70%</text>
<text transform="translate(1432.5 1345.2) rotate(-45) scale(1.030 1)" font-size="19.4" text-anchor="end">70-80%</text>
<text transform="translate(1469.4 1345.2) rotate(-45) scale(1.030 1)" font-size="19.4" text-anchor="end">80-90%</text>
<text transform="translate(1506.3 1345.2) rotate(-45) scale(1.030 1)" font-size="19.4" text-anchor="end">90-100%</text>
<text transform="translate(1324.8 1437.1) scale(1.090 1)" font-size="24.6" text-anchor="middle">Promoter Accessibility</text>
<text transform="translate(1324.8 1469) scale(1.090 1)" font-size="24.6" text-anchor="middle">(Astrocyte ATAC-seq)</text>
<text transform="translate(1021.8 1137.6) rotate(-90) scale(0.965 1)" font-size="27.7" text-anchor="middle">Gene expression</text>
<text transform="translate(1053.2 1136.3) rotate(-90) scale(0.965 1)" font-size="27.7" text-anchor="middle">(qNSC/Astrocyte</text>
<text transform="translate(1085.1 1139.3) rotate(-90) scale(0.965 1)" font-size="27.7" text-anchor="middle">single- cell RNA-seq)</text>
<text transform="translate(1779.3 920.6) scale(1.058 1)" font-size="31.6" text-anchor="middle">Old Astrocyte</text>
<clipPath id="cp3"><rect x="1597.5" y="944.7" width="376.9" height="387.2"/></clipPath>
<g clip-path="url(#cp3)"><path d="M1619.7 1314.2V1314.2M1619.7 1296.6V1270.1M1656.6 1314.2V1314.2M1656.6 1291.6V1257.8M1693.6 1314.2V1314.2M1693.6 1288.5V1249.9M1730.5 1314.2V1314.2M1730.5 1287.1V1246.3M1767.5 1314.2V1314.2M1767.5 1280V1228.7M1804.4 1314.2V1312.8M1804.4 1273V1213.2M1841.4 1314.2V1309.6M1841.4 1261V1188M1878.3 1314.2V1302.6M1878.3 1243.7V1155.4M1915.3 1314.2V1299.7M1915.3 1236.3V1141.1M1952.2 1314.2V1296.2M1952.2 1224.3V1116.4" stroke="#777" stroke-width="1" fill="none"/>
<path d="M1619.7 1269v-18m0 -2v-9m0 -2v-13m0 -2v-2m0 -2h0m0 -2h0m0 -2v-9m0 -3h0m0 -2h0m0 -4v-1m0 -4h0m0 -5v-1m0 -3h0m0 -2v-3m0 -2h0m0 -2v-1m0 -3h0m0 -6v-1m0 -2h0m0 -5v-2m0 -4h0m0 -5v-1m0 -4h0m0 -4h0m0 -6h0m0 -2h0m0 -3v-3m0 -3v-1m0 -2h0m0 -4h0m0 -2h0m0 -3h0m0 -7v-1m0 -3h0m0 -14h0m0 -2h0m0 -6h0m0 -3h0m0 -2h0m0 -2v-1m0 -2h0m0 -21h0m0 -12h0m0 -8h0m0 -13h0m0 -10h0m0 -7h0m0 -25h0m0 -5h0m0 -3h0m0 -12h0M1656.6 1257v-26m0 -2v-1m0 -2h0m0 -2v-3m0 -2v-1m0 -2v-1m0 -2v-12m0 -2v-3m0 -3v-1m0 -5v-6m0 -2v-5m0 -3h0m0 -4h0m0 -2v-1m0 -2h0m0 -3v-1m0 -2h0m0 -3v-2m0 -5h0m0 -5h0m0 -3h0m0 -2v-1m0 -4h0m0 -11v-3m0 -2h0m0 -3h0m0 -3h0m0 -6v-1m0 -3h0m0 -6h0m0 -2v-1m0 -2h0m0 -2h0m0 -3h0m0 -3h0m0 -5h0m0 -2h0m0 -4h0m0 -4h0m0 -2h0m0 -5v-2m0 -2v-2m0 -5v-1m0 -3h0m0 -5v-1m0 -4h0m0 -5h0m0 -2h0m0 -7h0m0 -3h0m0 -11h0m0 -11h0m0 -10h0m0 -8h0m0 -5h0m0 -9h0m0 -2h0m0 -3h0m0 -4h0m0 -3h0M1693.6 1249v-20m0 -2v-3m0 -2v-3m0 -2v-8m0 -2v-14m0 -2h0m0 -3h0m0 -3h0m0 -2h0m0 -2h0m0 -2v-6m0 -2h0m0 -4v-6m0 -2h0m0 -2h0m0 -4v-3m0 -2h0m0 -2v-2m0 -3h0m0 -3h0m0 -2h0m0 -2h0m0 -6v-3m0 -2v-3m0 -2v-1m0 -3h0m0 -4v-2m0 -2h0m0 -2h0m0 -7v-2m0 -7h0m0 -3h0m0 -2v-1m0 -3v-1m0 -4v-2m0 -2h0m0 -5h0m0 -2v-2m0 -3h0m0 -2h0m0 -6v-2m0 -9h0m0 -2h0m0 -11h0m0 -2h0m0 -9h0m0 -3h0m0 -17h0m0 -9h0m0 -8h0m0 -6v-2m0 -5v-1m0 -3h0m0 -9h0M1730.5 1245v-17m0 -2v-6m0 -2v-17m0 -2h0m0 -2v-2m0 -2v-8m0 -2v-3m0 -3v-4m0 -3v-6m0 -4h0m0 -2h0m0 -4v-1m0 -4h0m0 -2h0m0 -3v-1m0 -4v-1m0 -3v-1m0 -2v-2m0 -5v-1m0 -9v-1m0 -2v-1m0 -2h0m0 -2v-1m0 -5h0m0 -23h0m0 -3h0m0 -8h0m0 -4h0m0 -10h0m0 -14h0m0 -17h0m0 -17h0m0 -12h0m0 -7h0m0 -7h0m0 -5h0m0 -4v-1m0 -11h0m0 -4h0m0 -2h0m0 -5v-1M1767.5 1228v-9m0 -2v-26m0 -2v-15m0 -2v-9m0 -2h0m0 -3v-3m0 -2h0m0 -2v-4m0 -2v-1m0 -2h0m0 -3h0m0 -2v-2m0 -2v-16m0 -3v-1m0 -2h0m0 -3h0m0 -2h0m0 -5h0m0 -3v-4m0 -2v-1m0 -3v-3m0 -2h0m0 -2v-1m0 -2h0m0 -3h0m0 -7h0m0 -4h0m0 -3v-2m0 -2h0m0 -6h0m0 -5v-1m0 -8h0m0 -3v-1m0 -4h0m0 -12v-1m0 -2h0m0 -12h0m0 -2v-1m0 -2h0m0 -3h0m0 -10h0m0 -4h0m0 -2h0m0 -2h0m0 -4h0m0 -3h0m0 -4h0m0 -7h0m0 -4v-1m0 -5v-1M1804.4 1212v-4m0 -2v-7m0 -2v-10m0 -2v-2m0 -2v-15m0 -2v-1m0 -2h0m0 -2h0m0 -2h0m0 -4v-2m0 -2h0m0 -2v-8m0 -2h0m0 -2v-3m0 -2v-2m0 -6h0m0 -3v-2m0 -2h0m0 -4v-2m0 -2h0m0 -3v-1m0 -2h0m0 -2v-3m0 -2v-2m0 -3v-2m0 -2v-1m0 -2h0m0 -4v-1m0 -2v-1m0 -2v-1m0 -2h0m0 -2h0m0 -6v-2m0 -5h0m0 -4h0m0 -6h0m0 -4v-2m0 -5h0m0 -2h0m0 -4v-1m0 -7h0m0 -3h0m0 -2h0m0 -6h0m0 -3h0m0 -2v-1m0 -5h0m0 -9h0m0 -6h0m0 -3h0m0 -32h0M1841.4 1187v-1m0 -2v-31m0 -2v-6m0 -2v-12m0 -2v-2m0 -2v-5m0 -2v-2m0 -2v-9m0 -2h0m0 -4h0m0 -2h0m0 -3h0m0 -2v-1m0 -2h0m0 -2h0m0 -2v-5m0 -4v-1m0 -2h0m0 -2h0m0 -5v-2m0 -4v-1m0 -2v-1m0 -5v-1m0 -3h0m0 -2h0m0 -2v-1m0 -2h0m0 -2v-1m0 -2h0m0 -4v-1m0 -7v-3m0 -2v-1m0 -4h0m0 -2h0m0 -5h0m0 -3h0m0 -3h0m0 -9h0m0 -2v-1m0 -5v-1m0 -2h0m0 -22h0m0 -3h0m0 -2h0m0 -5h0m0 -3h0M1878.3 1154v-14m0 -2v-10m0 -2v-1m0 -3v-14m0 -2v-1m0 -2v-3m0 -2v-1m0 -2v-10m0 -2h0m0 -2v-10m0 -2v-1m0 -2v-3m0 -2h0m0 -4v-3m0 -2h0m0 -4v-1m0 -2v-6m0 -2h0m0 -3v-1m0 -2v-1m0 -3v-1m0 -3h0m0 -2v-1m0 -2h0m0 -3v-3m0 -7h0m0 -6v-1m0 -7v-2m0 -3v-1m0 -2h0m0 -3h0m0 -3h0m0 -2v-1m0 -5v-1m0 -2h0m0 -4h0m0 -3h0m0 -2v-2m0 -4h0m0 -2h0m0 -3v-1M1915.3 1140v-8m0 -2v-2m0 -2v-21m0 -3h0m0 -2v-1m0 -2v-9m0 -2v-10m0 -6v-2m0 -2v-3m0 -2v-2m0 -2v-2m0 -2v-1m0 -3v-1m0 -5h0m0 -2v-8m0 -2v-3m0 -2v-8m0 -2h0m0 -2h0m0 -2h0m0 -3h0m0 -2h0m0 -2v-2m0 -2v-1m0 -2v-2m0 -4v-4m0 -3v-1m0 -3v-3m0 -2h0m0 -3v-1m0 -6h0m0 -12h0m0 -5v-1m0 -4h0M1952.2 1115v-37m0 -2v-3m0 -2v-1m0 -2v-6m0 -2v-2m0 -2v-2m0 -2h0m0 -2v-3m0 -5v-1m0 -2h0m0 -3v-6m0 -4h0m0 -2v-9m0 -5v-1m0 -3v-4m0 -3v-4m0 -3h0m0 -6h0m0 -2h0m0 -3h0m0 -2h0m0 -2v-2m0 -3h0m0 -2h0m0 -7h0m0 -3v-1m0 -6h0m0 -5v-2m0 -2v-1" stroke="#1a1214" stroke-width="2.5" stroke-linecap="round" fill="none"/></g>
<g fill="#126612" stroke="#0E520E" stroke-width="1"><rect x="1605.8" y="1296.6" width="27.7" height="17.6"/><rect x="1642.8" y="1291.6" width="27.7" height="22.6"/><rect x="1679.7" y="1288.5" width="27.7" height="25.7"/><rect x="1716.7" y="1287.1" width="27.7" height="27.1"/><rect x="1753.6" y="1280" width="27.7" height="34.2"/><rect x="1790.6" y="1273" width="27.7" height="39.8"/><rect x="1827.5" y="1261" width="27.7" height="48.6"/><rect x="1864.5" y="1243.7" width="27.7" height="58.9"/><rect x="1901.4" y="1236.3" width="27.7" height="63.4"/><rect x="1938.4" y="1224.3" width="27.7" height="71.9"/></g>
<path d="M1605.8 1313.5h27.7M1642.8 1313.1h27.7M1679.7 1312.8h27.7M1716.7 1311.4h27.7M1753.6 1308.2h27.7M1790.6 1301.2h27.7M1827.5 1292.2h27.7M1864.5 1283.5h27.7M1901.4 1280.4h27.7M1938.4 1273.7h27.7" stroke="#093009" stroke-width="1.3" fill="none"/>
<path d="M1597.5 1314.2h-3M1597.5 1226.1h-3M1597.5 1138h-3M1597.5 1049.8h-3M1597.5 961.7h-3M1619.7 1331.9v3M1656.6 1331.9v3M1693.6 1331.9v3M1730.5 1331.9v3M1767.5 1331.9v3M1804.4 1331.9v3M1841.4 1331.9v3M1878.3 1331.9v3M1915.3 1331.9v3M1952.2 1331.9v3" stroke="#e2e2e2" stroke-width="1" fill="none"/>
<rect x="1597.5" y="944.7" width="376.9" height="387.2" fill="none" stroke="#cacaca" stroke-width="1.1"/>
<text transform="translate(1594.1 969.2)" font-size="19.7" text-anchor="end">1.00</text>
<text transform="translate(1594.1 1057.3)" font-size="19.7" text-anchor="end">0.75</text>
<text transform="translate(1594.1 1145.5)" font-size="19.7" text-anchor="end">0.5</text>
<text transform="translate(1594.1 1233.6)" font-size="19.7" text-anchor="end">0.25</text>
<text transform="translate(1594.1 1321.7)" font-size="19.7" text-anchor="end">0</text>
<text transform="translate(1628.8 1345.9) rotate(-45) scale(1.030 1)" font-size="19.4" text-anchor="end">0-10%</text>
<text transform="translate(1665.7 1345.9) rotate(-45) scale(1.030 1)" font-size="19.4" text-anchor="end">10-20%</text>
<text transform="translate(1702.7 1345.9) rotate(-45) scale(1.030 1)" font-size="19.4" text-anchor="end">20-30%</text>
<text transform="translate(1739.6 1345.9) rotate(-45) scale(1.030 1)" font-size="19.4" text-anchor="end">30-40%</text>
<text transform="translate(1776.6 1345.9) rotate(-45) scale(1.030 1)" font-size="19.4" text-anchor="end">40-50%</text>
<text transform="translate(1813.5 1345.9) rotate(-45) scale(1.030 1)" font-size="19.4" text-anchor="end">50-60%</text>
<text transform="translate(1850.5 1345.9) rotate(-45) scale(1.030 1)" font-size="19.4" text-anchor="end">60-70%</text>
<text transform="translate(1887.4 1345.9) rotate(-45) scale(1.030 1)" font-size="19.4" text-anchor="end">70-80%</text>
<text transform="translate(1924.4 1345.9) rotate(-45) scale(1.030 1)" font-size="19.4" text-anchor="end">80-90%</text>
<text transform="translate(1961.3 1345.9) rotate(-45) scale(1.030 1)" font-size="19.4" text-anchor="end">90-100%</text>
<text transform="translate(1780.7 1437.1) scale(1.090 1)" font-size="24.6" text-anchor="middle">Promoter Accessibility</text>
<text transform="translate(1780.7 1469) scale(1.090 1)" font-size="24.6" text-anchor="middle">(Astrocyte ATAC-seq)</text>
<text transform="translate(346.1 1544.2) scale(1.058 1)" font-size="31.6" text-anchor="middle">Young qNSC</text>
<clipPath id="cp4"><rect x="155.9" y="1568.3" width="377.3" height="385.4"/></clipPath>
<g clip-path="url(#cp4)"><path d="M178.1 1936.8V1936.8M178.1 1914V1879.8M215.1 1936.8V1936.8M215.1 1910.1V1870.1M252.1 1936.8V1936.8M252.1 1907.7V1864M289.1 1936.8V1936.8M289.1 1904.2V1855.2M326.1 1936.8V1936.8M326.1 1905.2V1857.8M363 1936.8V1935.4M363 1890.8V1824M400 1936.8V1931.2M400 1879.6V1802.2M437 1936.8V1923.5M437 1863.1V1772.6M474 1936.8V1921M474 1851.2V1746.4M511 1936.8V1916.4M511 1837.1V1718.2" stroke="#777" stroke-width="1" fill="none"/>
<path d="M178.1 1879v-9m0 -2v-24m0 -2v-1m0 -2v-12m0 -2v-4m0 -2h0m0 -3v-4m0 -2v-7m0 -2v-1m0 -2h0m0 -2v-1m0 -3v-3m0 -3h0m0 -2v-1m0 -6v-1m0 -2h0m0 -2h0m0 -2v-1m0 -6h0m0 -2h0m0 -2v-4m0 -6h0m0 -4h0m0 -3h0m0 -10h0m0 -2h0m0 -3h0m0 -3v-1m0 -3h0m0 -10v-1m0 -3v-1m0 -2v-3m0 -8h0m0 -2h0m0 -17h0m0 -9v-1m0 -2h0m0 -3h0m0 -7h0m0 -9h0m0 -2h0m0 -10h0m0 -17h0m0 -3h0m0 -25h0M215.1 1869v-2m0 -2v-21m0 -2v-2m0 -2v-6m0 -2v-10m0 -2v-9m0 -2v-1m0 -2v-2m0 -3h0m0 -2v-3m0 -3v-2m0 -2h0m0 -8v-1m0 -5v-1m0 -2v-3m0 -4h0m0 -9v-1m0 -3v-1m0 -4v-2m0 -2h0m0 -3h0m0 -2h0m0 -2h0m0 -3v-1m0 -13h0m0 -5h0m0 -4h0m0 -12h0m0 -4h0m0 -2h0m0 -2h0m0 -2h0m0 -3h0m0 -4h0m0 -6h0m0 -5h0m0 -3h0m0 -4h0m0 -2h0m0 -2v-1m0 -9h0m0 -5h0m0 -6h0m0 -4h0m0 -7h0m0 -7h0m0 -3h0m0 -2h0m0 -2h0m0 -28h0m0 -11v-1M252.1 1863v-36m0 -2v-11m0 -2v-1m0 -2h0m0 -2v-2m0 -2v-2m0 -2v-4m0 -2h0m0 -2v-2m0 -2v-1m0 -4v-1m0 -2v-4m0 -2h0m0 -2v-1m0 -5v-1m0 -5v-1m0 -2v-2m0 -5v-4m0 -4h0m0 -2h0m0 -2v-2m0 -2h0m0 -3v-1m0 -2h0m0 -2v-2m0 -6h0m0 -4v-1m0 -4h0m0 -2v-2m0 -5h0m0 -5h0m0 -10h0m0 -7v-2m0 -5h0m0 -3h0m0 -7v-1m0 -4h0m0 -4h0m0 -5h0m0 -7h0m0 -2v-2m0 -3v-1m0 -8v-1m0 -4h0m0 -7h0m0 -5h0m0 -9v-3m0 -2h0m0 -8h0m0 -2h0m0 -3h0m0 -10h0M289.1 1854v-13m0 -2v-5m0 -2v-1m0 -2h0m0 -2v-2m0 -3v-3m0 -2v-2m0 -2h0m0 -2v-1m0 -2v-1m0 -2v-4m0 -4v-2m0 -2v-2m0 -2v-4m0 -2v-7m0 -2h0m0 -2v-2m0 -4v-4m0 -4v-3m0 -2v-2m0 -4v-1m0 -2h0m0 -4v-1m0 -2v-1m0 -3h0m0 -4h0m0 -7h0m0 -2v-2m0 -2v-1m0 -4h0m0 -2v-4m0 -6v-1m0 -5h0m0 -3v-3m0 -4h0m0 -3v-1m0 -3v-1m0 -2h0m0 -2v-1m0 -4h0m0 -2h0m0 -2h0m0 -6h0m0 -3h0m0 -3h0m0 -3v-1m0 -2h0m0 -3h0m0 -2v-1m0 -9h0m0 -4h0m0 -2v-2m0 -10h0m0 -23h0m0 -2h0m0 -3h0m0 -5h0m0 -3h0m0 -5h0M326.1 1857v-15m0 -2v-2m0 -2v-9m0 -2v-2m0 -2v-1m0 -2v-3m0 -3h0m0 -2v-4m0 -2v-1m0 -2v-5m0 -2v-3m0 -2v-8m0 -2v-2m0 -2v-4m0 -2v-1m0 -2v-1m0 -3v-3m0 -4h0m0 -3h0m0 -2h0m0 -3h0m0 -2v-4m0 -3v-1m0 -4v-5m0 -2v-1m0 -4v-1m0 -2v-1m0 -3h0m0 -3v-1m0 -4v-1m0 -4h0m0 -3h0m0 -7h0m0 -3v-1m0 -4v-1m0 -2h0m0 -4h0m0 -14h0m0 -2h0m0 -2h0m0 -3h0m0 -5h0m0 -2h0m0 -10v-2m0 -5h0m0 -2h0m0 -8v-1m0 -3h0m0 -2h0m0 -3h0m0 -2h0m0 -8h0m0 -3v-2m0 -6h0m0 -3h0m0 -6h0m0 -7h0m0 -3v-1M363 1823v-9m0 -2v-6m0 -2v-9m0 -2v-12m0 -3v-17m0 -2v-9m0 -2v-2m0 -2h0m0 -2v-1m0 -2h0m0 -2v-4m0 -2v-5m0 -3v-1m0 -3h0m0 -4v-2m0 -2h0m0 -2h0m0 -2h0m0 -5v-5m0 -2h0m0 -3h0m0 -2h0m0 -2h0m0 -2v-5m0 -2h0m0 -3v-1m0 -2v-2m0 -6v-3m0 -2h0m0 -3h0m0 -4v-1m0 -3h0m0 -2v-1m0 -2h0m0 -3v-1m0 -3h0m0 -2h0m0 -2v-1m0 -18v-1m0 -7h0m0 -14h0m0 -4h0m0 -3h0m0 -7h0m0 -7h0m0 -4h0M400 1801v-11m0 -2v-16m0 -2v-5m0 -2v-2m0 -2v-7m0 -2h0m0 -2h0m0 -2v-3m0 -2h0m0 -2h0m0 -2h0m0 -2v-2m0 -2h0m0 -4v-1m0 -2v-4m0 -4h0m0 -2v-3m0 -4v-5m0 -4v-1m0 -5v-4m0 -2h0m0 -3v-1m0 -6v-2m0 -2h0m0 -3h0m0 -2v-1m0 -3h0m0 -2v-1m0 -12h0m0 -6h0m0 -2h0m0 -5h0m0 -4h0m0 -5v-1m0 -6v-1m0 -8v-1m0 -7v-1m0 -2h0m0 -3v-2m0 -3v-1m0 -2h0m0 -5h0m0 -3h0m0 -7h0m0 -3h0m0 -2h0M437 1772v-12m0 -2v-20m0 -2v-2m0 -2v-9m0 -2v-5m0 -2v-3m0 -2v-1m0 -2v-3m0 -2v-3m0 -2v-14m0 -2h0m0 -2v-6m0 -2v-3m0 -2h0m0 -4h0m0 -2v-2m0 -2v-1m0 -3h0m0 -2h0m0 -2v-1m0 -3h0m0 -3v-1m0 -3h0m0 -2v-1m0 -2h0m0 -2h0m0 -2v-2m0 -4h0m0 -2v-2m0 -7h0m0 -4h0m0 -2v-1m0 -3h0m0 -3v-2m0 -2v-1m0 -5h0m0 -6h0m0 -6h0m0 -4h0m0 -3h0M474 1745v-14m0 -2v-26m0 -3v-3m0 -3v-8m0 -2v-8m0 -2v-14m0 -2v-2m0 -2v-3m0 -2v-14m0 -3v-1m0 -2h0m0 -2v-6m0 -3h0m0 -3v-1m0 -2v-2m0 -6v-8m0 -2v-1m0 -2h0m0 -3h0m0 -3h0m0 -4v-1m0 -3v-1m0 -2v-1m0 -3h0M511 1717v-27m0 -2v-9m0 -2v-2m0 -2v-11m0 -2v-9m0 -2v-7m0 -2v-10m0 -2v-8m0 -2v-2m0 -3h0m0 -2v-5m0 -3h0m0 -2v-2m0 -2v-1m0 -2v-1m0 -2v-4m0 -3v-1m0 -2h0m0 -3h0m0 -5h0m0 -6h0" stroke="#1a1214" stroke-width="2.5" stroke-linecap="round" fill="none"/></g>
<g fill="#8CC3E8" stroke="#5E86A3" stroke-width="1"><rect x="164.2" y="1914" width="27.7" height="22.8"/><rect x="201.2" y="1910.1" width="27.7" height="26.7"/><rect x="238.2" y="1907.7" width="27.7" height="29.1"/><rect x="275.2" y="1904.2" width="27.7" height="32.6"/><rect x="312.2" y="1905.2" width="27.7" height="31.6"/><rect x="349.2" y="1890.8" width="27.7" height="44.6"/><rect x="386.2" y="1879.6" width="27.7" height="51.6"/><rect x="423.2" y="1863.1" width="27.7" height="60.4"/><rect x="460.1" y="1851.2" width="27.7" height="69.8"/><rect x="497.1" y="1837.1" width="27.7" height="79.3"/></g>
<path d="M164.2 1935h27.7M201.2 1934.3h27.7M238.2 1933.6h27.7M275.2 1932.6h27.7M312.2 1931.7h27.7M349.2 1922.8h27.7M386.2 1913.6h27.7M423.2 1903.1h27.7M460.1 1899.3h27.7M497.1 1891.5h27.7" stroke="#22445E" stroke-width="1.3" fill="none"/>
<path d="M155.9 1936.8h-3M155.9 1849.1h-3M155.9 1761.3h-3M155.9 1673.6h-3M155.9 1585.9h-3M178.1 1953.7v3M215.1 1953.7v3M252.1 1953.7v3M289.1 1953.7v3M326.1 1953.7v3M363 1953.7v3M400 1953.7v3M437 1953.7v3M474 1953.7v3M511 1953.7v3" stroke="#e2e2e2" stroke-width="1" fill="none"/>
<rect x="155.9" y="1568.3" width="377.3" height="385.4" fill="none" stroke="#cacaca" stroke-width="1.1"/>
<text transform="translate(150.8 1593.4)" font-size="19.7" text-anchor="end">1.00</text>
<text transform="translate(150.8 1681.1)" font-size="19.7" text-anchor="end">0.75</text>
<text transform="translate(150.8 1768.8)" font-size="19.7" text-anchor="end">0.5</text>
<text transform="translate(150.8 1856.6)" font-size="19.7" text-anchor="end">0.25</text>
<text transform="translate(150.8 1944.3)" font-size="19.7" text-anchor="end">0</text>
<text transform="translate(183.2 1969.2) rotate(-45) scale(1.030 1)" font-size="19.4" text-anchor="end">0-10%</text>
<text transform="translate(220.2 1969.2) rotate(-45) scale(1.030 1)" font-size="19.4" text-anchor="end">10-20%</text>
<text transform="translate(257.2 1969.2) rotate(-45) scale(1.030 1)" font-size="19.4" text-anchor="end">20-30%</text>
<text transform="translate(294.2 1969.2) rotate(-45) scale(1.030 1)" font-size="19.4" text-anchor="end">30-40%</text>
<text transform="translate(331.2 1969.2) rotate(-45) scale(1.030 1)" font-size="19.4" text-anchor="end">40-50%</text>
<text transform="translate(368.1 1969.2) rotate(-45) scale(1.030 1)" font-size="19.4" text-anchor="end">50-60%</text>
<text transform="translate(405.1 1969.2) rotate(-45) scale(1.030 1)" font-size="19.4" text-anchor="end">60-70%</text>
<text transform="translate(442.1 1969.2) rotate(-45) scale(1.030 1)" font-size="19.4" text-anchor="end">70-80%</text>
<text transform="translate(479.1 1969.2) rotate(-45) scale(1.030 1)" font-size="19.4" text-anchor="end">80-90%</text>
<text transform="translate(516.1 1969.2) rotate(-45) scale(1.030 1)" font-size="19.4" text-anchor="end">90-100%</text>
<text transform="translate(340.3 2058.9) scale(1.090 1)" font-size="24.6" text-anchor="middle">Promoter Accessibility</text>
<text transform="translate(340.3 2090.8) scale(1.090 1)" font-size="24.6" text-anchor="middle">(qNSC ATAC-seq)</text>
<text transform="translate(31.7 1776.6) rotate(-90) scale(0.965 1)" font-size="27.7" text-anchor="middle">Gene expression</text>
<text transform="translate(63.1 1774) rotate(-90) scale(0.965 1)" font-size="27.7" text-anchor="middle">(qNSC/Astrocyte</text>
<text transform="translate(95 1777) rotate(-90) scale(0.965 1)" font-size="27.7" text-anchor="middle">single-cell RNA-seq)</text>
<text transform="translate(805.3 1544.2) scale(1.058 1)" font-size="31.6" text-anchor="middle">Old qNSC</text>
<clipPath id="cp5"><rect x="613.6" y="1568.3" width="376.2" height="385.4"/></clipPath>
<g clip-path="url(#cp5)"><path d="M635.7 1936.8V1936.8M635.7 1916.8V1886.8M672.6 1936.8V1936.8M672.6 1917.1V1887.7M709.5 1936.8V1936.8M709.5 1913.3V1878M746.4 1936.8V1936.8M746.4 1910.1V1870.1M783.3 1936.8V1936.8M783.3 1905.6V1858.7M820.1 1936.8V1935.4M820.1 1893.6V1831M857 1936.8V1930.5M857 1880V1804.2M893.9 1936.8V1924.9M893.9 1867V1780.1M930.8 1936.8V1922.2M930.8 1856.8V1758.6M967.7 1936.8V1918.2M967.7 1843.1V1730.5" stroke="#777" stroke-width="1" fill="none"/>
<path d="M635.7 1886v-17m0 -2v-3m0 -2v-6m0 -2h0m0 -3h0m0 -3v-19m0 -2v-6m0 -2v-1m0 -3v-2m0 -2h0m0 -4v-5m0 -2v-4m0 -2v-2m0 -3h0m0 -2v-2m0 -2h0m0 -2v-1m0 -2v-4m0 -3v-2m0 -2v-5m0 -3v-1m0 -4h0m0 -2h0m0 -2h0m0 -11h0m0 -2v-1m0 -3h0m0 -2h0m0 -3h0m0 -8v-3m0 -2h0m0 -4h0m0 -9h0m0 -2h0m0 -10h0m0 -4h0m0 -15h0m0 -11v-1m0 -4h0m0 -2h0m0 -12h0m0 -13v-1m0 -10h0m0 -10h0m0 -29h0m0 -8v-1m0 -2h0M672.6 1887v-25m0 -2v-2m0 -2v-4m0 -2v-15m0 -2v-3m0 -2v-6m0 -3h0m0 -4v-10m0 -4v-1m0 -2v-2m0 -3v-1m0 -3h0m0 -2v-2m0 -5v-3m0 -2v-2m0 -3v-1m0 -2v-1m0 -3h0m0 -3v-2m0 -5h0m0 -2h0m0 -3v-3m0 -5v-1m0 -3h0m0 -3v-2m0 -5v-1m0 -11h0m0 -7h0m0 -4h0m0 -2h0m0 -12h0m0 -11h0m0 -4h0m0 -5h0m0 -10h0m0 -7h0m0 -3h0m0 -6h0m0 -19h0m0 -9h0m0 -7h0m0 -3h0m0 -2h0m0 -7h0m0 -2v-1m0 -6h0m0 -11h0m0 -8h0M709.5 1877v-7m0 -2v-10m0 -2v-7m0 -2v-6m0 -2v-3m0 -2v-16m0 -2h0m0 -2v-2m0 -2v-2m0 -3v-4m0 -3h0m0 -2v-6m0 -3h0m0 -2v-1m0 -2v-5m0 -2v-4m0 -2h0m0 -2h0m0 -2v-1m0 -2h0m0 -2v-1m0 -2v-7m0 -7v-2m0 -3h0m0 -5v-1m0 -4v-2m0 -8h0m0 -4h0m0 -3v-1m0 -2v-2m0 -2h0m0 -3v-2m0 -9h0m0 -2h0m0 -2h0m0 -3h0m0 -2h0m0 -24h0m0 -6h0m0 -3h0m0 -4h0m0 -7h0m0 -6h0m0 -2h0m0 -4h0m0 -2h0m0 -3h0m0 -2h0m0 -16h0m0 -6h0M746.4 1869v-21m0 -2v-13m0 -2v-9m0 -2h0m0 -2v-1m0 -2v-2m0 -3h0m0 -2v-5m0 -2h0m0 -2v-2m0 -2v-6m0 -2v-1m0 -2v-1m0 -3h0m0 -2v-5m0 -2v-3m0 -3h0m0 -2v-6m0 -4v-1m0 -2v-2m0 -4h0m0 -5h0m0 -2h0m0 -6h0m0 -2v-4m0 -2v-1m0 -2h0m0 -6v-1m0 -3h0m0 -2v-1m0 -2h0m0 -2h0m0 -2h0m0 -5h0m0 -4h0m0 -3h0m0 -5v-1m0 -2h0m0 -2h0m0 -2h0m0 -2h0m0 -5h0m0 -3v-1m0 -3h0m0 -5h0m0 -3h0m0 -2h0m0 -9h0m0 -3h0m0 -3h0m0 -2v-1m0 -4h0m0 -12v-1m0 -6h0m0 -2v-2m0 -16h0m0 -2h0m0 -3h0M783.3 1858v-14m0 -2v-45m0 -2v-2m0 -2h0m0 -3v-11m0 -2h0m0 -2v-5m0 -2h0m0 -2h0m0 -2v-1m0 -4v-10m0 -3h0m0 -2v-1m0 -2v-4m0 -4h0m0 -4h0m0 -3h0m0 -4h0m0 -3h0m0 -2v-1m0 -3v-1m0 -2h0m0 -2v-2m0 -3h0m0 -3h0m0 -5h0m0 -11h0m0 -2h0m0 -3h0m0 -12h0m0 -3h0m0 -3h0m0 -2v-1m0 -6h0m0 -3h0m0 -4h0m0 -4h0m0 -3h0m0 -4h0m0 -14h0m0 -8h0m0 -14v-1m0 -5v-1m0 -5h0m0 -8h0M820.1 1830v-16m0 -2v-10m0 -2h0m0 -2v-5m0 -2v-4m0 -2v-18m0 -3v-8m0 -2v-2m0 -2v-6m0 -2v-2m0 -3v-2m0 -3h0m0 -4h0m0 -2h0m0 -2v-2m0 -3v-2m0 -2h0m0 -3v-1m0 -2h0m0 -2v-1m0 -3v-1m0 -2h0m0 -2h0m0 -7v-3m0 -4v-1m0 -4h0m0 -4h0m0 -5h0m0 -2h0m0 -4h0m0 -3h0m0 -4h0m0 -2v-3m0 -3h0m0 -4h0m0 -8h0m0 -2v-2m0 -5h0m0 -4h0m0 -4h0m0 -3h0m0 -2v-1m0 -4h0m0 -2h0m0 -4v-1m0 -3h0m0 -8h0m0 -2h0m0 -3h0m0 -2v-2m0 -11h0m0 -3h0M857 1803h0m0 -2v-25m0 -2v-24m0 -2h0m0 -2v-1m0 -2v-4m0 -2v-2m0 -2v-12m0 -2v-2m0 -2v-1m0 -2h0m0 -3v-1m0 -4v-1m0 -2v-3m0 -2h0m0 -2h0m0 -3h0m0 -3h0m0 -2v-2m0 -3h0m0 -2h0m0 -2h0m0 -3v-2m0 -3h0m0 -2v-3m0 -2v-1m0 -2h0m0 -3h0m0 -4h0m0 -4v-1m0 -2v-1m0 -2h0m0 -2h0m0 -3h0m0 -2h0m0 -3h0m0 -2h0m0 -20v-1m0 -3v-1m0 -2v-1m0 -2h0m0 -2h0m0 -5h0m0 -3h0m0 -7h0m0 -5h0m0 -2h0m0 -6h0M893.9 1779v-20m0 -2h0m0 -3h0m0 -3v-6m0 -2h0m0 -2h0m0 -2v-15m0 -2v-3m0 -2v-3m0 -2v-2m0 -2v-7m0 -2v-4m0 -3v-2m0 -2h0m0 -2h0m0 -3h0m0 -2v-2m0 -2v-3m0 -2h0m0 -2v-2m0 -6v-2m0 -2v-4m0 -2h0m0 -2v-2m0 -2h0m0 -2v-2m0 -2h0m0 -2h0m0 -2v-3m0 -4v-6m0 -4v-1m0 -4h0m0 -2h0m0 -10h0m0 -3h0m0 -2h0m0 -2v-1m0 -3h0m0 -6v-1m0 -6v-1M930.8 1758v-28m0 -2v-2m0 -2h0m0 -2v-6m0 -3v-1m0 -2v-1m0 -3v-13m0 -2v-3m0 -2h0m0 -2v-7m0 -2h0m0 -2h0m0 -2v-1m0 -3h0m0 -2h0m0 -2h0m0 -2h0m0 -2v-1m0 -4v-1m0 -5v-3m0 -3v-7m0 -2h0m0 -7h0m0 -2v-2m0 -2v-1m0 -3v-2m0 -3h0m0 -6h0m0 -3v-1m0 -3h0m0 -4h0m0 -2h0m0 -2h0m0 -2v-2m0 -3h0m0 -4v-2m0 -3h0m0 -4h0M967.7 1729v-12m0 -2v-8m0 -2v-20m0 -2v-7m0 -2v-3m0 -2h0m0 -2v-7m0 -3v-2m0 -5h0m0 -2v-3m0 -4v-3m0 -2v-10m0 -3v-1m0 -2v-5m0 -3v-1m0 -2v-11m0 -8v-2m0 -2v-2m0 -2v-4m0 -2v-1m0 -2h0m0 -5v-1" stroke="#1a1214" stroke-width="2.5" stroke-linecap="round" fill="none"/></g>
<g fill="#4F74C4" stroke="#4666AE" stroke-width="1"><rect x="621.9" y="1916.8" width="27.7" height="20"/><rect x="658.8" y="1917.1" width="27.7" height="19.7"/><rect x="695.7" y="1913.3" width="27.7" height="23.5"/><rect x="732.5" y="1910.1" width="27.7" height="26.7"/><rect x="769.4" y="1905.6" width="27.7" height="31.2"/><rect x="806.3" y="1893.6" width="27.7" height="41.8"/><rect x="843.2" y="1880" width="27.7" height="50.5"/><rect x="880.1" y="1867" width="27.7" height="57.9"/><rect x="917" y="1856.8" width="27.7" height="65.4"/><rect x="953.8" y="1843.1" width="27.7" height="75.1"/></g>
<path d="M621.9 1935h27.7M658.8 1935.4h27.7M695.7 1934.3h27.7M732.5 1932.9h27.7M769.4 1931.4h27.7M806.3 1922.8h27.7M843.2 1913.3h27.7M880.1 1905.6h27.7M917 1901.9h27.7M953.8 1894.3h27.7" stroke="#1B2C5C" stroke-width="1.3" fill="none"/>
<path d="M613.6 1936.8h-3M613.6 1849.1h-3M613.6 1761.3h-3M613.6 1673.6h-3M613.6 1585.9h-3M635.7 1953.7v3M672.6 1953.7v3M709.5 1953.7v3M746.4 1953.7v3M783.3 1953.7v3M820.1 1953.7v3M857 1953.7v3M893.9 1953.7v3M930.8 1953.7v3M967.7 1953.7v3" stroke="#e2e2e2" stroke-width="1" fill="none"/>
<rect x="613.6" y="1568.3" width="376.2" height="385.4" fill="none" stroke="#cacaca" stroke-width="1.1"/>
<text transform="translate(608.5 1593.4)" font-size="19.7" text-anchor="end">1.00</text>
<text transform="translate(608.5 1681.1)" font-size="19.7" text-anchor="end">0.75</text>
<text transform="translate(608.5 1768.8)" font-size="19.7" text-anchor="end">0.5</text>
<text transform="translate(608.5 1856.6)" font-size="19.7" text-anchor="end">0.25</text>
<text transform="translate(608.5 1944.3)" font-size="19.7" text-anchor="end">0</text>
<text transform="translate(644.4 1970.7) rotate(-45) scale(1.030 1)" font-size="19.4" text-anchor="end">0-10%</text>
<text transform="translate(681.3 1970.7) rotate(-45) scale(1.030 1)" font-size="19.4" text-anchor="end">10-20%</text>
<text transform="translate(718.2 1970.7) rotate(-45) scale(1.030 1)" font-size="19.4" text-anchor="end">20-30%</text>
<text transform="translate(755.1 1970.7) rotate(-45) scale(1.030 1)" font-size="19.4" text-anchor="end">30-40%</text>
<text transform="translate(792 1970.7) rotate(-45) scale(1.030 1)" font-size="19.4" text-anchor="end">40-50%</text>
<text transform="translate(828.8 1970.7) rotate(-45) scale(1.030 1)" font-size="19.4" text-anchor="end">50-60%</text>
<text transform="translate(865.7 1970.7) rotate(-45) scale(1.030 1)" font-size="19.4" text-anchor="end">60-70%</text>
<text transform="translate(902.6 1970.7) rotate(-45) scale(1.030 1)" font-size="19.4" text-anchor="end">70-80%</text>
<text transform="translate(939.5 1970.7) rotate(-45) scale(1.030 1)" font-size="19.4" text-anchor="end">80-90%</text>
<text transform="translate(976.4 1970.7) rotate(-45) scale(1.030 1)" font-size="19.4" text-anchor="end">90-100%</text>
<text transform="translate(796.7 2058.9) scale(1.090 1)" font-size="24.6" text-anchor="middle">Promoter Accessibility</text>
<text transform="translate(796.7 2090.8) scale(1.090 1)" font-size="24.6" text-anchor="middle">(qNSC ATAC-seq)</text>
<text transform="translate(1332.5 1544.2) scale(1.058 1)" font-size="31.6" text-anchor="middle">Young aNSC</text>
<clipPath id="cp6"><rect x="1145.1" y="1568.3" width="376.9" height="385.4"/></clipPath>
<g clip-path="url(#cp6)"><path d="M1167.3 1936.8V1936.8M1167.3 1920.7V1896.4M1204.2 1936.8V1936.8M1204.2 1911.2V1872.8M1241.2 1936.8V1936.8M1241.2 1907V1862.2M1278.1 1936.8V1936.8M1278.1 1902.4V1850.8M1315.1 1936.8V1936.8M1315.1 1901.4V1848.2M1352 1936.8V1935M1352 1887.3V1815.7M1389 1936.8V1928.7M1389 1863.8V1766.4M1425.9 1936.8V1923.1M1425.9 1838.5V1711.7M1462.9 1936.8V1917.5M1462.9 1826.3V1689.4M1499.8 1936.8V1907.7M1499.8 1795.7V1627.8" stroke="#777" stroke-width="1" fill="none"/>
<path d="M1167.3 1895v-12m0 -2v-10m0 -2v-15m0 -2v-6m0 -2v-2m0 -2v-2m0 -2v-3m0 -2v-2m0 -2v-3m0 -2v-3m0 -2v-1m0 -2h0m0 -3v-1m0 -3v-8m0 -4v-2m0 -2v-1m0 -2h0m0 -4v-1m0 -3h0m0 -3v-3m0 -2h0m0 -2h0m0 -2v-2m0 -3h0m0 -5h0m0 -5h0m0 -5v-1m0 -3h0m0 -6h0m0 -2h0m0 -3h0m0 -5h0m0 -3h0m0 -6h0m0 -21h0m0 -8h0m0 -3h0m0 -4h0m0 -3h0m0 -10h0m0 -26h0m0 -3v-1m0 -7h0m0 -9h0m0 -21h0m0 -28h0M1204.2 1872v-14m0 -2v-14m0 -2v-1m0 -3v-10m0 -4v-3m0 -4v-5m0 -2v-9m0 -2v-2m0 -2h0m0 -3v-2m0 -2v-2m0 -4h0m0 -2v-1m0 -6v-1m0 -2v-2m0 -2h0m0 -2h0m0 -3h0m0 -3h0m0 -2v-3m0 -5h0m0 -2h0m0 -2v-2m0 -2v-1m0 -4h0m0 -2v-2m0 -5v-2m0 -2h0m0 -5h0m0 -3h0m0 -3v-1m0 -5h0m0 -7h0m0 -7h0m0 -3v-1m0 -8h0m0 -6h0m0 -5h0m0 -3h0m0 -14h0m0 -17h0m0 -17h0m0 -2v-1m0 -7h0m0 -2v-1m0 -12h0m0 -2v-1m0 -12h0m0 -5v-1M1241.2 1861v-8m0 -2v-11m0 -2v-2m0 -2v-1m0 -2v-8m0 -3v-8m0 -3v-3m0 -2v-5m0 -2v-2m0 -3h0m0 -4v-2m0 -3h0m0 -3h0m0 -4v-9m0 -2h0m0 -3v-1m0 -4v-2m0 -2v-1m0 -2h0m0 -2v-2m0 -2h0m0 -3v-1m0 -3v-3m0 -8v-1m0 -4v-2m0 -3h0m0 -5h0m0 -4h0m0 -4h0m0 -4h0m0 -5v-2m0 -5h0m0 -2v-1m0 -9h0m0 -2h0m0 -5h0m0 -2v-1m0 -4h0m0 -4h0m0 -3h0m0 -15h0m0 -3h0m0 -2h0m0 -3h0m0 -6h0m0 -6h0m0 -20h0m0 -9h0m0 -10h0m0 -4h0m0 -4h0M1278.1 1850v-9m0 -2v-30m0 -2v-9m0 -2v-9m0 -2v-7m0 -2h0m0 -3v-2m0 -3v-4m0 -3v-3m0 -2h0m0 -3h0m0 -2h0m0 -5h0m0 -3v-1m0 -3h0m0 -2v-1m0 -2v-1m0 -4v-2m0 -2v-1m0 -2h0m0 -2h0m0 -2v-1m0 -4v-1m0 -3v-1m0 -9h0m0 -7v-2m0 -3v-2m0 -3h0m0 -6v-1m0 -2h0m0 -4h0m0 -5v-1m0 -7v-1m0 -3h0m0 -4v-1m0 -2v-1m0 -10h0m0 -5h0m0 -2h0m0 -29h0m0 -5h0m0 -4h0m0 -3h0m0 -6h0m0 -5h0M1315.1 1847v-12m0 -2v-15m0 -2v-2m0 -3v-3m0 -3h0m0 -2v-2m0 -2h0m0 -2v-4m0 -3v-3m0 -2h0m0 -2v-3m0 -2h0m0 -3h0m0 -2h0m0 -2h0m0 -2h0m0 -2v-4m0 -2h0m0 -2h0m0 -3h0m0 -3h0m0 -2v-1m0 -2h0m0 -3h0m0 -2h0m0 -9v-3m0 -2h0m0 -2v-1m0 -2h0m0 -2v-1m0 -3h0m0 -2v-1m0 -7v-1m0 -2v-1m0 -3v-1m0 -12h0m0 -3h0m0 -7v-2m0 -4h0m0 -2h0m0 -4h0m0 -4h0m0 -4h0m0 -4h0m0 -4h0m0 -3v-1m0 -4h0m0 -4h0m0 -3h0m0 -2h0m0 -5h0m0 -5h0m0 -9h0m0 -3v-1m0 -6h0m0 -5h0m0 -7h0m0 -2h0m0 -4h0m0 -4h0m0 -5h0m0 -10h0M1352 1815v-31m0 -2v-14m0 -2v-2m0 -2v-8m0 -3h0m0 -2v-2m0 -2v-4m0 -2v-1m0 -3h0m0 -2v-2m0 -2v-1m0 -2h0m0 -3v-1m0 -2v-2m0 -4h0m0 -2v-1m0 -3v-1m0 -2v-2m0 -3h0m0 -4v-1m0 -3v-2m0 -2h0m0 -2h0m0 -2v-1m0 -10h0m0 -2h0m0 -2v-1m0 -7v-2m0 -3v-1m0 -10v-1m0 -3h0m0 -4v-1m0 -8v-1m0 -4h0m0 -3h0m0 -2h0m0 -3h0m0 -4h0m0 -7h0m0 -2h0m0 -2h0m0 -5h0m0 -4h0m0 -6h0m0 -4h0m0 -9v-4M1389 1765v-29m0 -2v-7m0 -3v-4m0 -2v-3m0 -2v-4m0 -2v-3m0 -2h0m0 -2h0m0 -3v-1m0 -3h0m0 -4v-5m0 -2v-2m0 -2v-6m0 -2v-5m0 -2v-6m0 -3h0m0 -3v-1m0 -2h0m0 -2h0m0 -2v-3m0 -3h0m0 -2v-3m0 -2h0m0 -5v-2m0 -7v-1m0 -4v-1m0 -2h0m0 -2h0m0 -3h0m0 -2v-1m0 -5h0m0 -3h0m0 -2h0m0 -2h0m0 -2h0m0 -9h0m0 -2h0m0 -4v-1m0 -3h0M1425.9 1711v-11m0 -2v-4m0 -2v-4m0 -2v-5m0 -2v-3m0 -2h0m0 -2v-7m0 -3v-14m0 -2v-12m0 -2h0m0 -2v-7m0 -4v-2m0 -2h0m0 -2h0m0 -3v-4m0 -2v-1m0 -2h0m0 -2v-5m0 -2v-4m0 -3v-3m0 -2v-1m0 -2v-1m0 -5v-2M1462.9 1688v-39m0 -2v-14m0 -3h0m0 -2v-8m0 -2v-14m0 -2v-3m0 -3v-2m0 -2v-1m0 -2v-1m0 -4h0m0 -2v-1m0 -4v-2m0 -3h0m0 -2v-1M1499.8 1627v-6m0 -3v-8m0 -2h0m0 -2v-18m0 -3v-16" stroke="#1a1214" stroke-width="2.5" stroke-linecap="round" fill="none"/></g>
<g fill="#F7961D" stroke="#A86A1E" stroke-width="1"><rect x="1153.4" y="1920.7" width="27.7" height="16.1"/><rect x="1190.4" y="1911.2" width="27.7" height="25.6"/><rect x="1227.3" y="1907" width="27.7" height="29.8"/><rect x="1264.3" y="1902.4" width="27.7" height="34.4"/><rect x="1301.2" y="1901.4" width="27.7" height="35.4"/><rect x="1338.2" y="1887.3" width="27.7" height="47.7"/><rect x="1375.1" y="1863.8" width="27.7" height="64.9"/><rect x="1412.1" y="1838.5" width="27.7" height="84.6"/><rect x="1449" y="1826.3" width="27.7" height="91.2"/><rect x="1486" y="1795.7" width="27.7" height="111.9"/></g>
<path d="M1153.4 1936.1h27.7M1190.4 1934.3h27.7M1227.3 1933.3h27.7M1264.3 1932.4h27.7M1301.2 1931.2h27.7M1338.2 1923.1h27.7M1375.1 1907h27.7M1412.1 1896.8h27.7M1449 1888.4h27.7M1486 1870.5h27.7" stroke="#5A3208" stroke-width="1.3" fill="none"/>
<path d="M1145.1 1936.8h-3M1145.1 1849.1h-3M1145.1 1761.3h-3M1145.1 1673.6h-3M1145.1 1585.9h-3M1167.3 1953.7v3M1204.2 1953.7v3M1241.2 1953.7v3M1278.1 1953.7v3M1315.1 1953.7v3M1352 1953.7v3M1389 1953.7v3M1425.9 1953.7v3M1462.9 1953.7v3M1499.8 1953.7v3" stroke="#e2e2e2" stroke-width="1" fill="none"/>
<rect x="1145.1" y="1568.3" width="376.9" height="385.4" fill="none" stroke="#cacaca" stroke-width="1.1"/>
<text transform="translate(1141.7 1593.4)" font-size="19.7" text-anchor="end">1.00</text>
<text transform="translate(1141.7 1681.1)" font-size="19.7" text-anchor="end">0.75</text>
<text transform="translate(1141.7 1768.8)" font-size="19.7" text-anchor="end">0.5</text>
<text transform="translate(1141.7 1856.6)" font-size="19.7" text-anchor="end">0.25</text>
<text transform="translate(1141.7 1944.3)" font-size="19.7" text-anchor="end">0</text>
<text transform="translate(1176 1967.3) rotate(-45) scale(1.030 1)" font-size="19.4" text-anchor="end">0-10%</text>
<text transform="translate(1212.9 1967.3) rotate(-45) scale(1.030 1)" font-size="19.4" text-anchor="end">10-20%</text>
<text transform="translate(1249.9 1967.3) rotate(-45) scale(1.030 1)" font-size="19.4" text-anchor="end">20-30%</text>
<text transform="translate(1286.8 1967.3) rotate(-45) scale(1.030 1)" font-size="19.4" text-anchor="end">30-40%</text>
<text transform="translate(1323.8 1967.3) rotate(-45) scale(1.030 1)" font-size="19.4" text-anchor="end">40-50%</text>
<text transform="translate(1360.7 1967.3) rotate(-45) scale(1.030 1)" font-size="19.4" text-anchor="end">50-60%</text>
<text transform="translate(1397.7 1967.3) rotate(-45) scale(1.030 1)" font-size="19.4" text-anchor="end">60-70%</text>
<text transform="translate(1434.6 1967.3) rotate(-45) scale(1.030 1)" font-size="19.4" text-anchor="end">70-80%</text>
<text transform="translate(1471.6 1967.3) rotate(-45) scale(1.030 1)" font-size="19.4" text-anchor="end">80-90%</text>
<text transform="translate(1508.5 1967.3) rotate(-45) scale(1.030 1)" font-size="19.4" text-anchor="end">90-100%</text>
<text transform="translate(1329.7 2058.9) scale(1.090 1)" font-size="24.6" text-anchor="middle">Promoter Accessibility</text>
<text transform="translate(1329.7 2090.8) scale(1.090 1)" font-size="24.6" text-anchor="middle">(aNSC ATAC-seq)</text>
<text transform="translate(1023.5 1760.3) rotate(-90) scale(0.965 1)" font-size="27.7" text-anchor="middle">Gene expression</text>
<text transform="translate(1054.9 1761.7) rotate(-90) scale(0.965 1)" font-size="27.7" text-anchor="middle">(aNSC/NPC</text>
<text transform="translate(1086.8 1758.3) rotate(-90) scale(0.965 1)" font-size="27.7" text-anchor="middle">single-cell RNA-seq)</text>
<text transform="translate(1786.4 1544.2) scale(1.058 1)" font-size="31.6" text-anchor="middle">Old aNSC</text>
<clipPath id="cp7"><rect x="1599.5" y="1568.3" width="376.9" height="385.4"/></clipPath>
<g clip-path="url(#cp7)"><path d="M1621.7 1936.8V1936.8M1621.7 1921.9V1899.5M1658.6 1936.8V1936.8M1658.6 1910.5V1871M1695.6 1936.8V1936.8M1695.6 1900.7V1846.4M1732.5 1936.8V1936.8M1732.5 1895.7V1834.2M1769.5 1936.8V1936.8M1769.5 1895.4V1833.3M1806.4 1936.8V1936.4M1806.4 1882.2V1800.9M1843.4 1936.8V1930.1M1843.4 1861.9V1759.5M1880.3 1936.8V1922.8M1880.3 1838.9V1713.1M1917.3 1936.8V1917.1M1917.3 1824.2V1684.7M1954.2 1936.8V1909.8M1954.2 1797.8V1629.9" stroke="#777" stroke-width="1" fill="none"/>
<path d="M1621.7 1899v-19m0 -2v-5m0 -2v-5m0 -2v-3m0 -2v-4m0 -2v-1m0 -3v-1m0 -3h0m0 -3v-7m0 -3v-1m0 -6v-5m0 -2v-1m0 -5v-2m0 -3v-2m0 -3h0m0 -4v-3m0 -2h0m0 -2h0m0 -4h0m0 -3h0m0 -2v-3m0 -5v-2m0 -2v-1m0 -5v-1m0 -6h0m0 -2v-2m0 -3h0m0 -9h0m0 -4v-1m0 -2h0m0 -2h0m0 -11h0m0 -6h0m0 -5h0m0 -4h0m0 -2h0m0 -3h0m0 -3h0m0 -17h0m0 -2v-1m0 -6v-1m0 -12h0m0 -20h0m0 -3h0m0 -3h0m0 -5h0m0 -18h0m0 -16h0m0 -4h0m0 -2h0m0 -6h0m0 -9h0M1658.6 1870v-32m0 -2v-4m0 -2v-1m0 -2v-4m0 -2v-2m0 -2v-5m0 -3v-2m0 -2h0m0 -3v-3m0 -2v-2m0 -3v-1m0 -2v-1m0 -3v-2m0 -2v-1m0 -2v-1m0 -2v-1m0 -2h0m0 -2h0m0 -3h0m0 -2v-6m0 -7v-1m0 -2h0m0 -2h0m0 -2h0m0 -6h0m0 -6h0m0 -2v-1m0 -2v-1m0 -4h0m0 -5v-2m0 -2h0m0 -2v-1m0 -4h0m0 -10v-1m0 -3h0m0 -9v-1m0 -7h0m0 -3v-1m0 -4v-3m0 -4h0m0 -4h0m0 -2h0m0 -7h0m0 -4h0m0 -3v-1m0 -8v-1m0 -5h0m0 -10h0m0 -11h0m0 -3h0m0 -8h0m0 -8h0m0 -7h0M1695.6 1845v-17m0 -2h0m0 -2h0m0 -6v-10m0 -2v-9m0 -3h0m0 -2h0m0 -2h0m0 -2v-3m0 -2v-1m0 -2v-2m0 -2v-8m0 -2h0m0 -2h0m0 -3v-5m0 -2h0m0 -2v-1m0 -3h0m0 -3v-1m0 -2v-2m0 -2v-3m0 -8v-2m0 -4h0m0 -3h0m0 -2v-1m0 -6h0m0 -3h0m0 -2h0m0 -2h0m0 -2h0m0 -2h0m0 -4h0m0 -2h0m0 -3v-1m0 -2v-3m0 -2v-3m0 -7h0m0 -2h0m0 -4h0m0 -10h0m0 -4h0m0 -3v-1m0 -4h0m0 -2h0m0 -2h0m0 -2h0m0 -4v-1m0 -2h0m0 -2v-1m0 -4h0m0 -4h0m0 -3h0m0 -7h0m0 -8h0m0 -6h0m0 -6h0m0 -8h0m0 -9h0m0 -5h0M1732.5 1833v-3m0 -2v-21m0 -2v-2m0 -2v-7m0 -2h0m0 -2v-8m0 -2v-3m0 -2h0m0 -2v-2m0 -2v-3m0 -2v-8m0 -2h0m0 -2v-2m0 -2v-1m0 -2v-2m0 -5h0m0 -2v-1m0 -2h0m0 -3h0m0 -2h0m0 -2v-3m0 -2h0m0 -3v-1m0 -6h0m0 -3v-6m0 -2v-1m0 -3h0m0 -2v-1m0 -8v-1m0 -5v-1m0 -3v-1m0 -3v-3m0 -2h0m0 -3h0m0 -8h0m0 -2v-1m0 -5h0m0 -4v-1m0 -6h0m0 -4h0m0 -7h0m0 -3h0m0 -6h0m0 -7h0m0 -9h0m0 -3h0m0 -4h0m0 -6v-1m0 -12v-1m0 -6h0M1769.5 1832v-32m0 -2v-7m0 -2v-3m0 -2v-10m0 -2v-3m0 -2v-5m0 -4v-2m0 -2v-4m0 -2v-1m0 -2v-2m0 -2v-1m0 -2v-5m0 -3h0m0 -2v-2m0 -3h0m0 -3h0m0 -3v-1m0 -2v-2m0 -3h0m0 -4v-1m0 -6h0m0 -4h0m0 -3h0m0 -7h0m0 -6v-2m0 -3h0m0 -5h0m0 -2h0m0 -2h0m0 -2h0m0 -2v-1m0 -2v-1m0 -7v-1m0 -2h0m0 -4h0m0 -5h0m0 -3h0m0 -5h0m0 -2h0m0 -7h0m0 -2h0m0 -6h0m0 -5h0m0 -5v-1m0 -2h0m0 -2v-1m0 -4v-1m0 -6h0m0 -9h0m0 -3h0M1806.4 1800v-32m0 -2v-1m0 -2v-1m0 -2v-2m0 -2v-3m0 -2v-1m0 -4v-6m0 -2h0m0 -3h0m0 -2v-3m0 -2v-1m0 -3v-2m0 -2v-3m0 -2v-1m0 -2h0m0 -4h0m0 -2v-2m0 -2h0m0 -5h0m0 -3h0m0 -2v-4m0 -4v-1m0 -2h0m0 -3v-1m0 -2h0m0 -2h0m0 -3v-3m0 -2v-4m0 -3v-1m0 -4h0m0 -7h0m0 -4v-2m0 -6h0m0 -5h0m0 -5h0m0 -2h0m0 -4h0m0 -3h0m0 -6h0m0 -2h0m0 -4h0m0 -3h0m0 -2h0m0 -4h0m0 -3h0m0 -4v-2m0 -3v-1m0 -3h0m0 -10h0M1843.4 1759v-10m0 -2v-35m0 -4v-2m0 -3v-7m0 -2v-1m0 -3v-2m0 -2v-5m0 -2v-2m0 -2v-2m0 -2v-1m0 -2v-1m0 -2v-5m0 -2h0m0 -2h0m0 -2h0m0 -4v-2m0 -2h0m0 -3v-1m0 -2h0m0 -2h0m0 -9h0m0 -3h0m0 -2h0m0 -2h0m0 -6h0m0 -3h0m0 -4v-1m0 -11h0m0 -2h0m0 -2h0m0 -3h0m0 -3v-1m0 -4v-1m0 -2v-2m0 -6v-1m0 -2h0M1880.3 1712v-25m0 -2v-5m0 -2v-1m0 -2v-8m0 -2v-9m0 -2h0m0 -2v-2m0 -4v-4m0 -2v-2m0 -2v-9m0 -2v-3m0 -4v-2m0 -3h0m0 -2v-2m0 -2v-1m0 -2v-3m0 -2v-2m0 -2v-1m0 -3v-1m0 -2v-6m0 -4v-1m0 -3h0m0 -3v-2M1917.3 1684v-22m0 -2v-16m0 -2v-4m0 -2h0m0 -2v-4m0 -2v-5m0 -2v-14m0 -2v-1m0 -4v-11m0 -3v-4m0 -2v-1m0 -2h0m0 -2h0m0 -4h0m0 -2v-2M1954.2 1629v-31m0 -2v-10m0 -2v-8m0 -2v-4m0 -2v-1" stroke="#1a1214" stroke-width="2.5" stroke-linecap="round" fill="none"/></g>
<g fill="#E1301C" stroke="#B82A1A" stroke-width="1"><rect x="1607.8" y="1921.9" width="27.7" height="14.9"/><rect x="1644.8" y="1910.5" width="27.7" height="26.3"/><rect x="1681.7" y="1900.7" width="27.7" height="36.1"/><rect x="1718.7" y="1895.7" width="27.7" height="41.1"/><rect x="1755.6" y="1895.4" width="27.7" height="41.4"/><rect x="1792.6" y="1882.2" width="27.7" height="54.2"/><rect x="1829.5" y="1861.9" width="27.7" height="68.3"/><rect x="1866.5" y="1838.9" width="27.7" height="83.9"/><rect x="1903.4" y="1824.2" width="27.7" height="93"/><rect x="1940.4" y="1797.8" width="27.7" height="111.9"/></g>
<path d="M1607.8 1936.4h27.7M1644.8 1933.3h27.7M1681.7 1932.4h27.7M1718.7 1931.2h27.7M1755.6 1931.2h27.7M1792.6 1921h27.7M1829.5 1907.7h27.7M1866.5 1895.7h27.7M1903.4 1886.3h27.7M1940.4 1872.1h27.7" stroke="#4E0E08" stroke-width="1.3" fill="none"/>
<path d="M1599.5 1936.8h-3M1599.5 1849.1h-3M1599.5 1761.3h-3M1599.5 1673.6h-3M1599.5 1585.9h-3M1621.7 1953.7v3M1658.6 1953.7v3M1695.6 1953.7v3M1732.5 1953.7v3M1769.5 1953.7v3M1806.4 1953.7v3M1843.4 1953.7v3M1880.3 1953.7v3M1917.3 1953.7v3M1954.2 1953.7v3" stroke="#e2e2e2" stroke-width="1" fill="none"/>
<rect x="1599.5" y="1568.3" width="376.9" height="385.4" fill="none" stroke="#cacaca" stroke-width="1.1"/>
<text transform="translate(1596.1 1593.4)" font-size="19.7" text-anchor="end">1.00</text>
<text transform="translate(1596.1 1681.1)" font-size="19.7" text-anchor="end">0.75</text>
<text transform="translate(1596.1 1768.8)" font-size="19.7" text-anchor="end">0.5</text>
<text transform="translate(1596.1 1856.6)" font-size="19.7" text-anchor="end">0.25</text>
<text transform="translate(1596.1 1944.3)" font-size="19.7" text-anchor="end">0</text>
<text transform="translate(1630.1 1969.2) rotate(-45) scale(1.030 1)" font-size="19.4" text-anchor="end">0-10%</text>
<text transform="translate(1667 1969.2) rotate(-45) scale(1.030 1)" font-size="19.4" text-anchor="end">10-20%</text>
<text transform="translate(1704 1969.2) rotate(-45) scale(1.030 1)" font-size="19.4" text-anchor="end">20-30%</text>
<text transform="translate(1740.9 1969.2) rotate(-45) scale(1.030 1)" font-size="19.4" text-anchor="end">30-40%</text>
<text transform="translate(1777.9 1969.2) rotate(-45) scale(1.030 1)" font-size="19.4" text-anchor="end">40-50%</text>
<text transform="translate(1814.8 1969.2) rotate(-45) scale(1.030 1)" font-size="19.4" text-anchor="end">50-60%</text>
<text transform="translate(1851.8 1969.2) rotate(-45) scale(1.030 1)" font-size="19.4" text-anchor="end">60-70%</text>
<text transform="translate(1888.7 1969.2) rotate(-45) scale(1.030 1)" font-size="19.4" text-anchor="end">70-80%</text>
<text transform="translate(1925.7 1969.2) rotate(-45) scale(1.030 1)" font-size="19.4" text-anchor="end">80-90%</text>
<text transform="translate(1962.6 1969.2) rotate(-45) scale(1.030 1)" font-size="19.4" text-anchor="end">90-100%</text>
<text transform="translate(1786 2058.9) scale(1.090 1)" font-size="24.6" text-anchor="middle">Promoter Accessibility</text>
<text transform="translate(1786 2090.8) scale(1.090 1)" font-size="24.6" text-anchor="middle">(aNSC ATAC-seq)</text>
<text transform="translate(345.8 2163.7) scale(1.058 1)" font-size="31.6" text-anchor="middle">Young NPC</text>
<clipPath id="cp8"><rect x="154.9" y="2187.8" width="375.6" height="386.1"/></clipPath>
<g clip-path="url(#cp8)"><path d="M177 2556.6V2556.6M177 2540.1V2515.3M213.8 2556.6V2556.6M213.8 2529.9V2489.8M250.6 2556.6V2556.6M250.6 2526.4V2481M287.5 2556.6V2556.6M287.5 2518.6V2461.7M324.3 2556.6V2556.6M324.3 2521.8V2469.6M361.1 2556.6V2555.2M361.1 2507.4V2435.7M397.9 2556.6V2549.6M397.9 2484.5V2387M434.8 2556.6V2544.3M434.8 2463.1V2341.3M471.6 2556.6V2536.6M471.6 2446.8V2312M508.4 2556.6V2528.1M508.4 2413.5V2241.7" stroke="#777" stroke-width="1" fill="none"/>
<path d="M177 2514v-6m0 -2v-16m0 -2v-7m0 -2v-1m0 -2v-8m0 -2v-2m0 -2h0m0 -4h0m0 -2h0m0 -3v-4m0 -2v-3m0 -2v-7m0 -3v-1m0 -2v-3m0 -3v-5m0 -2v-2m0 -4h0m0 -3v-1m0 -5v-1m0 -4v-1m0 -15h0m0 -2h0m0 -2h0m0 -10v-2m0 -2h0m0 -10v-1m0 -6v-1m0 -2h0m0 -6h0m0 -3h0m0 -2h0m0 -4h0m0 -6h0m0 -3h0m0 -4h0m0 -2h0m0 -10h0m0 -43h0m0 -22h0m0 -10h0m0 -21h0m0 -11h0M213.8 2489v-5m0 -2v-24m0 -2v-11m0 -3v-4m0 -2v-1m0 -2v-2m0 -2h0m0 -2v-2m0 -3v-3m0 -2v-3m0 -2h0m0 -3v-1m0 -2h0m0 -2v-1m0 -2h0m0 -2v-6m0 -2v-1m0 -3v-1m0 -4v-2m0 -2h0m0 -2h0m0 -2h0m0 -2h0m0 -3h0m0 -2h0m0 -3h0m0 -4h0m0 -3v-1m0 -8v-2m0 -4h0m0 -3h0m0 -4h0m0 -4h0m0 -5h0m0 -2v-1m0 -3h0m0 -2v-1m0 -2h0m0 -3h0m0 -8h0m0 -3h0m0 -2h0m0 -5h0m0 -9h0m0 -6h0m0 -9h0m0 -3h0m0 -6v-1m0 -3h0m0 -2v-1m0 -5h0m0 -6h0m0 -2h0m0 -5h0m0 -20h0m0 -4h0m0 -13h0m0 -5h0m0 -3h0M250.6 2480v-20m0 -2v-13m0 -2v-6m0 -2v-4m0 -3v-17m0 -2h0m0 -2h0m0 -3v-6m0 -3v-1m0 -2v-2m0 -2v-1m0 -2v-6m0 -5h0m0 -2h0m0 -2h0m0 -4v-2m0 -2v-1m0 -2v-3m0 -4h0m0 -4h0m0 -3v-1m0 -2h0m0 -4v-1m0 -2v-1m0 -2h0m0 -2h0m0 -5v-1m0 -2h0m0 -2h0m0 -2v-2m0 -3h0m0 -4h0m0 -2v-1m0 -3h0m0 -2v-2m0 -4h0m0 -3h0m0 -4h0m0 -2h0m0 -3h0m0 -5h0m0 -5h0m0 -2h0m0 -10h0m0 -3h0m0 -4h0m0 -3h0m0 -4v-1m0 -9h0m0 -6h0m0 -5v-1m0 -12h0m0 -3h0m0 -3h0m0 -6h0m0 -3h0m0 -3h0m0 -5v-2M287.5 2461h0m0 -2v-12m0 -2v-2m0 -2v-20m0 -2h0m0 -2v-2m0 -4v-1m0 -2h0m0 -2v-3m0 -5v-6m0 -2v-3m0 -2h0m0 -6v-3m0 -2h0m0 -2v-2m0 -2h0m0 -2h0m0 -2v-2m0 -2v-1m0 -6v-7m0 -2h0m0 -4h0m0 -4v-2m0 -3h0m0 -3h0m0 -2h0m0 -4v-2m0 -5h0m0 -9h0m0 -6v-1m0 -2h0m0 -7h0m0 -3h0m0 -2h0m0 -8h0m0 -4h0m0 -2h0m0 -3h0m0 -4h0m0 -9v-1m0 -3h0m0 -11h0m0 -3h0m0 -2h0m0 -3h0m0 -5h0m0 -3v-2m0 -9h0m0 -11h0M324.3 2469v-17m0 -3v-13m0 -2v-24m0 -4v-4m0 -5h0m0 -2h0m0 -3v-1m0 -2v-3m0 -2v-1m0 -3h0m0 -2h0m0 -2v-1m0 -4h0m0 -2h0m0 -6h0m0 -3h0m0 -3h0m0 -3h0m0 -5v-1m0 -3h0m0 -2v-1m0 -3h0m0 -7v-1m0 -5h0m0 -3h0m0 -2v-1m0 -5h0m0 -2h0m0 -2h0m0 -2h0m0 -4h0m0 -2h0m0 -3v-2m0 -5h0m0 -5h0m0 -7h0m0 -17h0m0 -19v-1m0 -3h0m0 -8h0m0 -24h0m0 -2h0m0 -17h0m0 -2h0M361.1 2435v-29m0 -2v-23m0 -2v-2m0 -2h0m0 -2v-2m0 -3v-6m0 -2v-1m0 -2v-1m0 -2v-4m0 -2h0m0 -2h0m0 -2v-1m0 -2v-1m0 -3h0m0 -2v-2m0 -2h0m0 -2v-1m0 -4v-3m0 -4v-2m0 -3v-1m0 -2v-1m0 -3h0m0 -2v-3m0 -3v-1m0 -4v-1m0 -2v-3m0 -3h0m0 -2h0m0 -3v-1m0 -2v-2m0 -3v-1m0 -3h0m0 -2v-2m0 -2v-2m0 -2h0m0 -5h0m0 -3h0m0 -2h0m0 -6h0m0 -4h0m0 -2h0m0 -8h0m0 -6h0m0 -12h0m0 -5h0m0 -5v-2m0 -7v-1M397.9 2386v-15m0 -2v-13m0 -2v-7m0 -2h0m0 -2v-2m0 -2v-6m0 -2h0m0 -3v-6m0 -2v-1m0 -2v-4m0 -2h0m0 -2v-8m0 -2v-5m0 -2v-3m0 -3h0m0 -2h0m0 -5v-3m0 -2v-3m0 -2v-1m0 -2h0m0 -2h0m0 -3h0m0 -2v-2m0 -2h0m0 -2v-3m0 -4h0m0 -3h0m0 -3h0m0 -2h0m0 -5v-2m0 -4h0m0 -2h0m0 -4h0m0 -7h0m0 -2h0m0 -2v-2m0 -2h0m0 -2h0m0 -5h0m0 -10h0m0 -2h0M434.8 2340v-17m0 -2v-3m0 -2v-3m0 -2v-8m0 -2v-4m0 -2h0m0 -2v-2m0 -2v-13m0 -3v-4m0 -2v-4m0 -3v-1m0 -3v-4m0 -2v-6m0 -4h0m0 -2h0m0 -2v-1m0 -3v-4m0 -2v-2m0 -2v-3m0 -2h0m0 -2v-1m0 -2v-1m0 -3v-4m0 -3v-2m0 -2h0m0 -2v-7M471.6 2311v-18m0 -2v-10m0 -2v-3m0 -2v-1m0 -2v-3m0 -2v-9m0 -2v-4m0 -2v-4m0 -2v-11m0 -2h0m0 -2h0m0 -2v-5m0 -2v-1m0 -2h0m0 -3v-1m0 -2h0m0 -2v-4m0 -2v-1m0 -2h0m0 -3v-4m0 -2h0M508.4 2241v-17m0 -2v-19m0 -3v-4m0 -3h0m0 -2h0m0 -3v-2" stroke="#1a1214" stroke-width="2.5" stroke-linecap="round" fill="none"/></g>
<g fill="#D98CDF" stroke="#9A68A0" stroke-width="1"><rect x="163.2" y="2540.1" width="27.6" height="16.5"/><rect x="200" y="2529.9" width="27.6" height="26.7"/><rect x="236.8" y="2526.4" width="27.6" height="30.2"/><rect x="273.7" y="2518.6" width="27.6" height="38"/><rect x="310.5" y="2521.8" width="27.6" height="34.8"/><rect x="347.3" y="2507.4" width="27.6" height="47.8"/><rect x="384.1" y="2484.5" width="27.6" height="65"/><rect x="420.9" y="2463.1" width="27.6" height="81.2"/><rect x="457.8" y="2446.8" width="27.6" height="89.8"/><rect x="494.6" y="2413.5" width="27.6" height="114.6"/></g>
<path d="M163.2 2555.9h27.6M200 2554.1h27.6M236.8 2553.4h27.6M273.7 2551.9h27.6M310.5 2550.6h27.6M347.3 2543.4h27.6M384.1 2527.1h27.6M420.9 2519h27.6M457.8 2505.5h27.6M494.6 2491.6h27.6" stroke="#4A1E52" stroke-width="1.3" fill="none"/>
<path d="M154.9 2556.6h-3M154.9 2468.7h-3M154.9 2380.8h-3M154.9 2293h-3M154.9 2205.1h-3M177 2573.9v3M213.8 2573.9v3M250.6 2573.9v3M287.5 2573.9v3M324.3 2573.9v3M361.1 2573.9v3M397.9 2573.9v3M434.8 2573.9v3M471.6 2573.9v3M508.4 2573.9v3" stroke="#e2e2e2" stroke-width="1" fill="none"/>
<rect x="154.9" y="2187.8" width="375.6" height="386.1" fill="none" stroke="#cacaca" stroke-width="1.1"/>
<text transform="translate(149.8 2212.6)" font-size="19.7" text-anchor="end">1.00</text>
<text transform="translate(149.8 2300.5)" font-size="19.7" text-anchor="end">0.75</text>
<text transform="translate(149.8 2388.3)" font-size="19.7" text-anchor="end">0.5</text>
<text transform="translate(149.8 2476.2)" font-size="19.7" text-anchor="end">0.25</text>
<text transform="translate(149.8 2564.1)" font-size="19.7" text-anchor="end">0</text>
<text transform="translate(181.8 2588.7) rotate(-45) scale(1.030 1)" font-size="19.4" text-anchor="end">0-10%</text>
<text transform="translate(218.6 2588.7) rotate(-45) scale(1.030 1)" font-size="19.4" text-anchor="end">10-20%</text>
<text transform="translate(255.4 2588.7) rotate(-45) scale(1.030 1)" font-size="19.4" text-anchor="end">20-30%</text>
<text transform="translate(292.3 2588.7) rotate(-45) scale(1.030 1)" font-size="19.4" text-anchor="end">30-40%</text>
<text transform="translate(329.1 2588.7) rotate(-45) scale(1.030 1)" font-size="19.4" text-anchor="end">40-50%</text>
<text transform="translate(365.9 2588.7) rotate(-45) scale(1.030 1)" font-size="19.4" text-anchor="end">50-60%</text>
<text transform="translate(402.7 2588.7) rotate(-45) scale(1.030 1)" font-size="19.4" text-anchor="end">60-70%</text>
<text transform="translate(439.6 2588.7) rotate(-45) scale(1.030 1)" font-size="19.4" text-anchor="end">70-80%</text>
<text transform="translate(476.4 2588.7) rotate(-45) scale(1.030 1)" font-size="19.4" text-anchor="end">80-90%</text>
<text transform="translate(513.2 2588.7) rotate(-45) scale(1.030 1)" font-size="19.4" text-anchor="end">90-100%</text>
<text transform="translate(328.5 2679.1) scale(1.090 1)" font-size="24.6" text-anchor="middle">Promoter Accessibility</text>
<text transform="translate(328.5 2711) scale(1.090 1)" font-size="24.6" text-anchor="middle">(NPC ATAC-seq)</text>
<text transform="translate(30.7 2383.9) rotate(-90) scale(0.965 1)" font-size="27.7" text-anchor="middle">Gene expression</text>
<text transform="translate(62.1 2383.9) rotate(-90) scale(0.965 1)" font-size="27.7" text-anchor="middle">(aNSC/NPC</text>
<text transform="translate(94 2381.7) rotate(-90) scale(0.965 1)" font-size="27.7" text-anchor="middle">single-cell RNA-seq)</text>
<text transform="translate(788.3 2163.7) scale(1.058 1)" font-size="31.6" text-anchor="middle">Old NPC</text>
<clipPath id="cp9"><rect x="612.2" y="2187.8" width="377" height="386.1"/></clipPath>
<g clip-path="url(#cp9)"><path d="M634.4 2556.6V2556.6M634.4 2541.8V2519.7M671.3 2556.6V2556.6M671.3 2527.1V2482.8M708.3 2556.6V2556.6M708.3 2523.7V2474.4M745.3 2556.6V2556.6M745.3 2518.3V2460.8M782.2 2556.6V2556.6M782.2 2513.4V2448.5M819.2 2556.6V2556.6M819.2 2505.4V2428.7M856.1 2556.6V2549.9M856.1 2479.3V2373.3M893.1 2556.6V2543.6M893.1 2462.7V2341.5M930.1 2556.6V2537.6M930.1 2443.8V2303M967 2556.6V2528.5M967 2409.8V2231.9" stroke="#777" stroke-width="1" fill="none"/>
<path d="M634.4 2519v-9m0 -2v-29m0 -2h0m0 -2h0m0 -2v-1m0 -2v-1m0 -3v-5m0 -2v-3m0 -2v-1m0 -2v-5m0 -2v-3m0 -2v-1m0 -2v-1m0 -4h0m0 -2v-1m0 -2h0m0 -5v-1m0 -2v-2m0 -3v-3m0 -2h0m0 -6h0m0 -2v-1m0 -2h0m0 -4v-3m0 -2h0m0 -5h0m0 -4h0m0 -3v-1m0 -7h0m0 -2h0m0 -8h0m0 -4h0m0 -2v-4m0 -29v-1m0 -7h0m0 -4h0m0 -2h0m0 -15h0m0 -24h0m0 -12h0m0 -9h0m0 -19h0m0 -16h0m0 -9h0M671.3 2482v-37m0 -2v-2m0 -2v-2m0 -2v-9m0 -2v-4m0 -3h0m0 -2v-4m0 -2v-4m0 -2h0m0 -2h0m0 -2v-7m0 -4v-1m0 -2h0m0 -5v-3m0 -3h0m0 -4h0m0 -2v-2m0 -3h0m0 -3h0m0 -2h0m0 -2h0m0 -2h0m0 -8v-1m0 -5h0m0 -3h0m0 -2h0m0 -10h0m0 -2h0m0 -7h0m0 -6h0m0 -3h0m0 -3h0m0 -7v-1m0 -2h0m0 -2h0m0 -4h0m0 -6h0m0 -16h0m0 -23h0m0 -11h0m0 -9h0m0 -7h0m0 -2h0m0 -5h0m0 -12h0m0 -8h0M708.3 2473v-14m0 -2v-3m0 -2v-15m0 -3v-2m0 -2v-6m0 -2v-3m0 -2v-4m0 -2v-1m0 -2v-5m0 -2v-1m0 -2h0m0 -2h0m0 -2h0m0 -2h0m0 -3v-1m0 -2v-1m0 -2v-2m0 -2h0m0 -2v-2m0 -2h0m0 -3h0m0 -3v-3m0 -2v-2m0 -2v-3m0 -5v-1m0 -7h0m0 -6v-1m0 -4h0m0 -11h0m0 -2h0m0 -2h0m0 -3h0m0 -3v-3m0 -2h0m0 -5h0m0 -3v-1m0 -4h0m0 -2h0m0 -14h0m0 -6v-2m0 -2h0m0 -6h0m0 -7h0m0 -2v-1m0 -4h0m0 -4h0m0 -2h0m0 -3h0m0 -7v-1m0 -5h0m0 -3h0m0 -6h0m0 -3h0m0 -5h0m0 -4h0m0 -7h0m0 -8h0M745.3 2460v-25m0 -2v-18m0 -2v-14m0 -3h0m0 -2h0m0 -2h0m0 -3v-7m0 -3h0m0 -3v-1m0 -2v-1m0 -3h0m0 -2h0m0 -2v-1m0 -3v-2m0 -7v-2m0 -2h0m0 -2v-2m0 -4h0m0 -2v-1m0 -3h0m0 -5h0m0 -3v-1m0 -4v-1m0 -4h0m0 -4v-1m0 -2h0m0 -3v-1m0 -3h0m0 -7h0m0 -3h0m0 -2h0m0 -5h0m0 -2h0m0 -3v-1m0 -2h0m0 -5h0m0 -2v-2m0 -6v-1m0 -4h0m0 -5h0m0 -5h0m0 -2v-1m0 -5h0m0 -15h0m0 -2h0m0 -2h0m0 -12h0m0 -19h0M782.2 2448v-15m0 -2v-26m0 -4v-1m0 -2v-6m0 -2v-6m0 -2v-1m0 -2v-4m0 -2v-1m0 -3v-4m0 -2v-1m0 -2v-3m0 -2h0m0 -3v-1m0 -2h0m0 -3h0m0 -4v-2m0 -2h0m0 -2v-1m0 -2h0m0 -7h0m0 -2h0m0 -4h0m0 -2h0m0 -3v-1m0 -3v-1m0 -2v-3m0 -2h0m0 -6h0m0 -4v-1m0 -5h0m0 -3v-1m0 -4v-1m0 -7h0m0 -9h0m0 -2h0m0 -3h0m0 -7h0m0 -3h0m0 -3h0m0 -3h0m0 -7h0m0 -7h0m0 -2h0m0 -6v-1m0 -5h0m0 -2h0m0 -7v-1m0 -11h0m0 -2h0M819.2 2427v-27m0 -2v-8m0 -4v-11m0 -2v-1m0 -2h0m0 -2v-2m0 -2v-3m0 -2v-8m0 -2h0m0 -2v-1m0 -2h0m0 -2v-4m0 -2v-6m0 -3v-2m0 -2v-1m0 -2h0m0 -3h0m0 -2v-1m0 -6h0m0 -3v-4m0 -2v-2m0 -3h0m0 -5v-1m0 -4h0m0 -3h0m0 -2h0m0 -2h0m0 -3v-1m0 -3h0m0 -3h0m0 -3h0m0 -3h0m0 -2h0m0 -3h0m0 -5v-1m0 -4h0m0 -4h0m0 -2h0m0 -2h0m0 -3h0m0 -5v-1m0 -3h0m0 -2v-1m0 -2v-1m0 -8h0m0 -2h0m0 -9h0m0 -2h0M856.1 2372v-20m0 -2v-2m0 -2v-14m0 -2v-4m0 -2v-1m0 -2v-4m0 -2h0m0 -2h0m0 -3v-5m0 -2h0m0 -3v-1m0 -3v-1m0 -2v-2m0 -2v-7m0 -2v-2m0 -2h0m0 -2v-9m0 -2v-5m0 -2v-7m0 -2v-1m0 -2v-1m0 -2v-1m0 -2h0m0 -2h0m0 -2h0m0 -3v-2m0 -2v-3m0 -3h0m0 -3v-4m0 -2h0m0 -7h0m0 -6h0m0 -4h0m0 -2h0m0 -3h0M893.1 2339v-25m0 -2v-2m0 -2v-2m0 -2v-2m0 -2v-21m0 -2v-4m0 -3v-1m0 -2h0m0 -2v-3m0 -2v-3m0 -2v-2m0 -2v-2m0 -2v-5m0 -3v-1m0 -4v-1m0 -2v-5m0 -3h0m0 -2v-1m0 -3v-1m0 -3v-2m0 -2v-2m0 -7h0m0 -3h0m0 -4h0m0 -3v-1m0 -3h0M930.1 2302v-6m0 -2v-9m0 -2v-4m0 -2v-4m0 -2v-15m0 -2v-4m0 -2h0m0 -2v-24m0 -2v-2m0 -4v-2m0 -2v-3m0 -3v-2m0 -3h0m0 -2h0m0 -3v-3m0 -2h0m0 -2v-1M967 2231v-9m0 -2v-20m0 -2v-12" stroke="#1a1214" stroke-width="2.5" stroke-linecap="round" fill="none"/></g>
<g fill="#6A12AE" stroke="#5E10A0" stroke-width="1"><rect x="620.5" y="2541.8" width="27.7" height="14.8"/><rect x="657.5" y="2527.1" width="27.7" height="29.5"/><rect x="694.4" y="2523.7" width="27.7" height="32.9"/><rect x="731.4" y="2518.3" width="27.7" height="38.3"/><rect x="768.4" y="2513.4" width="27.7" height="43.2"/><rect x="805.3" y="2505.4" width="27.7" height="51.2"/><rect x="842.3" y="2479.3" width="27.7" height="70.7"/><rect x="879.2" y="2462.7" width="27.7" height="80.8"/><rect x="916.2" y="2443.8" width="27.7" height="93.9"/><rect x="953.2" y="2409.8" width="27.7" height="118.6"/></g>
<path d="M620.5 2556.2h27.7M657.5 2553.8h27.7M694.4 2552.7h27.7M731.4 2551.3h27.7M768.4 2549.6h27.7M805.3 2541.8h27.7M842.3 2526h27.7M879.2 2516.2h27.7M916.2 2507h27.7M953.2 2489.8h27.7" stroke="#4A0C80" stroke-width="1.3" fill="none"/>
<path d="M612.2 2556.6h-3M612.2 2468.7h-3M612.2 2380.8h-3M612.2 2293h-3M612.2 2205.1h-3M634.4 2573.9v3M671.3 2573.9v3M708.3 2573.9v3M745.3 2573.9v3M782.2 2573.9v3M819.2 2573.9v3M856.1 2573.9v3M893.1 2573.9v3M930.1 2573.9v3M967 2573.9v3" stroke="#e2e2e2" stroke-width="1" fill="none"/>
<rect x="612.2" y="2187.8" width="377" height="386.1" fill="none" stroke="#cacaca" stroke-width="1.1"/>
<text transform="translate(607.1 2212.6)" font-size="19.7" text-anchor="end">1.00</text>
<text transform="translate(607.1 2300.5)" font-size="19.7" text-anchor="end">0.75</text>
<text transform="translate(607.1 2388.3)" font-size="19.7" text-anchor="end">0.5</text>
<text transform="translate(607.1 2476.2)" font-size="19.7" text-anchor="end">0.25</text>
<text transform="translate(607.1 2564.1)" font-size="19.7" text-anchor="end">0</text>
<text transform="translate(642.1 2590.1) rotate(-45) scale(1.030 1)" font-size="19.4" text-anchor="end">0-10%</text>
<text transform="translate(679 2590.1) rotate(-45) scale(1.030 1)" font-size="19.4" text-anchor="end">10-20%</text>
<text transform="translate(716 2590.1) rotate(-45) scale(1.030 1)" font-size="19.4" text-anchor="end">20-30%</text>
<text transform="translate(753 2590.1) rotate(-45) scale(1.030 1)" font-size="19.4" text-anchor="end">30-40%</text>
<text transform="translate(789.9 2590.1) rotate(-45) scale(1.030 1)" font-size="19.4" text-anchor="end">40-50%</text>
<text transform="translate(826.9 2590.1) rotate(-45) scale(1.030 1)" font-size="19.4" text-anchor="end">50-60%</text>
<text transform="translate(863.8 2590.1) rotate(-45) scale(1.030 1)" font-size="19.4" text-anchor="end">60-70%</text>
<text transform="translate(900.8 2590.1) rotate(-45) scale(1.030 1)" font-size="19.4" text-anchor="end">70-80%</text>
<text transform="translate(937.8 2590.1) rotate(-45) scale(1.030 1)" font-size="19.4" text-anchor="end">80-90%</text>
<text transform="translate(974.7 2590.1) rotate(-45) scale(1.030 1)" font-size="19.4" text-anchor="end">90-100%</text>
<text transform="translate(794.7 2679.1) scale(1.090 1)" font-size="24.6" text-anchor="middle">Promoter Accessibility</text>
<text transform="translate(794.7 2711) scale(1.090 1)" font-size="24.6" text-anchor="middle">(NPC ATAC-seq)</text>
</svg>
</body></html>
